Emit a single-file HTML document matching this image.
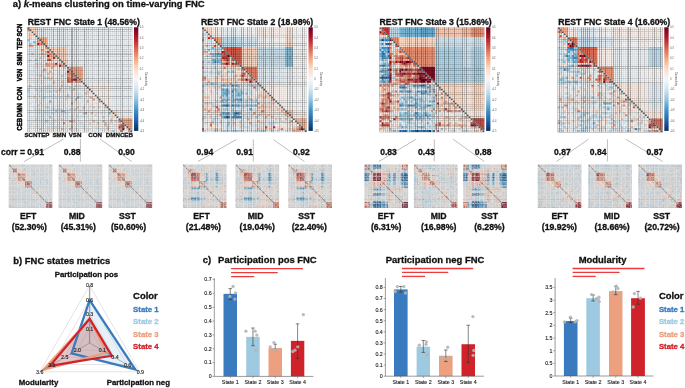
<!DOCTYPE html>
<html><head><meta charset="utf-8"><style>
html,body{margin:0;padding:0;background:#fff;}
svg{display:block;will-change:transform;filter:blur(0.3px);}
text{font-family:"Liberation Sans",sans-serif;}
</style></head><body>
<svg width="685" height="388" viewBox="0 0 685 388">
<rect width="685" height="388" fill="#fff"/>
<defs><linearGradient id="cb" x1="0" y1="0" x2="0" y2="1"><stop offset="0.00" stop-color="#67001f"/><stop offset="0.10" stop-color="#b1182b"/><stop offset="0.20" stop-color="#d6604d"/><stop offset="0.30" stop-color="#f3a481"/><stop offset="0.40" stop-color="#fddbc7"/><stop offset="0.50" stop-color="#f7f6f6"/><stop offset="0.60" stop-color="#d1e5f0"/><stop offset="0.70" stop-color="#90c4dd"/><stop offset="0.80" stop-color="#4393c3"/><stop offset="0.90" stop-color="#2065ab"/><stop offset="1.00" stop-color="#053061"/></linearGradient><g id="L1"><path fill="#e48066" d="M0 1h1v1h-1zM9 18h1v1h-1zM8 21h1v1h-1zM22 23h1v1h-1zM22 24h1v1h-1zM24 25h1v1h-1zM21 26h1v1h-1zM22 27h1v1h-1zM36 37h1v1h-1zM38 47h1v1h-1zM18 48h1v1h-1zM46 49h1v1h-1zM46 51h1v1h-1z"/><path fill="#edf2f5" d="M0 2h1v1h-1zM2 5h1v1h-1zM1 6h1v1h-1zM0 8h1v1h-1zM0 9h1v1h-1zM3 9h2v1h-2zM0 10h1v1h-1zM4 10h1v1h-1zM2 11h1v1h-1zM7 12h1v1h-1zM0 13h2v1h-2zM3 13h2v1h-2zM0 14h1v1h-1zM5 15h1v1h-1zM3 16h1v1h-1zM4 17h2v1h-2zM15 17h1v1h-1zM1 18h1v1h-1zM3 18h1v1h-1zM6 20h1v1h-1zM8 20h1v1h-1zM17 20h1v1h-1zM2 21h1v1h-1zM4 21h1v1h-1zM11 21h1v1h-1zM16 21h1v1h-1zM4 22h2v1h-2zM12 22h2v1h-2zM16 22h1v1h-1zM19 22h1v1h-1zM5 23h3v1h-3zM11 23h1v1h-1zM7 24h1v1h-1zM10 24h1v1h-1zM12 24h1v1h-1zM15 24h1v1h-1zM18 24h1v1h-1zM0 25h2v1h-2zM6 25h1v1h-1zM9 25h1v1h-1zM15 25h2v1h-2zM0 26h1v1h-1zM2 26h1v1h-1zM8 26h2v1h-2zM16 26h1v1h-1zM2 27h1v1h-1zM5 27h2v1h-2zM9 27h1v1h-1zM18 27h1v1h-1zM1 28h4v1h-4zM10 28h2v1h-2zM14 28h1v1h-1zM19 28h2v1h-2zM25 28h3v1h-3zM0 29h1v1h-1zM3 29h1v1h-1zM5 29h1v1h-1zM8 29h2v1h-2zM12 29h1v1h-1zM14 29h1v1h-1zM18 29h1v1h-1zM25 29h1v1h-1zM3 30h4v1h-4zM11 30h1v1h-1zM14 30h1v1h-1zM18 30h1v1h-1zM20 30h1v1h-1zM22 30h1v1h-1zM25 30h1v1h-1zM27 30h1v1h-1zM5 31h1v1h-1zM8 31h1v1h-1zM10 31h1v1h-1zM15 31h1v1h-1zM17 31h2v1h-2zM22 31h1v1h-1zM28 31h2v1h-2zM1 32h4v1h-4zM15 32h1v1h-1zM19 32h2v1h-2zM22 32h1v1h-1zM25 32h1v1h-1zM3 33h1v1h-1zM6 33h2v1h-2zM10 33h4v1h-4zM18 33h2v1h-2zM21 33h1v1h-1zM2 34h1v1h-1zM8 34h1v1h-1zM10 34h1v1h-1zM12 34h1v1h-1zM17 34h2v1h-2zM22 34h1v1h-1zM24 34h1v1h-1zM4 35h3v1h-3zM15 35h1v1h-1zM23 35h1v1h-1zM33 35h1v1h-1zM0 36h1v1h-1zM7 36h1v1h-1zM10 36h2v1h-2zM17 36h1v1h-1zM21 36h1v1h-1zM28 36h1v1h-1zM32 36h1v1h-1zM0 37h2v1h-2zM5 37h1v1h-1zM7 37h1v1h-1zM10 37h1v1h-1zM14 37h1v1h-1zM18 37h1v1h-1zM21 37h1v1h-1zM28 37h1v1h-1zM35 37h1v1h-1zM2 38h2v1h-2zM7 38h2v1h-2zM13 38h1v1h-1zM18 38h4v1h-4zM30 38h1v1h-1zM7 39h1v1h-1zM10 39h1v1h-1zM12 39h3v1h-3zM16 39h2v1h-2zM21 39h1v1h-1zM27 39h2v1h-2zM31 39h1v1h-1zM0 40h2v1h-2zM5 40h1v1h-1zM7 40h1v1h-1zM11 40h1v1h-1zM22 40h2v1h-2zM30 40h1v1h-1zM0 41h1v1h-1zM7 41h1v1h-1zM9 41h1v1h-1zM19 41h2v1h-2zM31 41h1v1h-1zM34 41h1v1h-1zM0 42h2v1h-2zM3 42h1v1h-1zM13 42h1v1h-1zM15 42h1v1h-1zM21 42h2v1h-2zM24 42h1v1h-1zM30 42h3v1h-3zM35 42h1v1h-1zM39 42h1v1h-1zM41 42h1v1h-1zM0 43h3v1h-3zM4 43h1v1h-1zM16 43h1v1h-1zM21 43h1v1h-1zM25 43h3v1h-3zM36 43h1v1h-1zM38 43h1v1h-1zM0 44h2v1h-2zM3 44h4v1h-4zM8 44h1v1h-1zM11 44h3v1h-3zM18 44h2v1h-2zM22 44h1v1h-1zM24 44h1v1h-1zM26 44h1v1h-1zM30 44h3v1h-3zM39 44h2v1h-2zM0 45h1v1h-1zM2 45h1v1h-1zM6 45h3v1h-3zM29 45h1v1h-1zM32 45h1v1h-1zM35 45h1v1h-1zM37 45h1v1h-1zM11 46h1v1h-1zM18 46h1v1h-1zM26 46h1v1h-1zM28 46h1v1h-1zM33 46h1v1h-1zM38 46h1v1h-1zM40 46h2v1h-2zM45 46h1v1h-1zM1 47h1v1h-1zM3 47h1v1h-1zM8 47h1v1h-1zM12 47h1v1h-1zM14 47h1v1h-1zM17 47h1v1h-1zM24 47h1v1h-1zM28 47h1v1h-1zM30 47h1v1h-1zM32 47h1v1h-1zM45 47h1v1h-1zM0 48h1v1h-1zM2 48h3v1h-3zM6 48h1v1h-1zM13 48h1v1h-1zM23 48h2v1h-2zM43 48h1v1h-1zM2 49h1v1h-1zM7 49h2v1h-2zM11 49h3v1h-3zM25 49h3v1h-3zM31 49h2v1h-2zM2 50h1v1h-1zM5 50h2v1h-2zM17 50h1v1h-1zM20 50h2v1h-2zM24 50h1v1h-1zM27 50h1v1h-1zM29 50h1v1h-1zM32 50h2v1h-2zM36 50h4v1h-4zM42 50h4v1h-4zM1 51h1v1h-1zM3 51h3v1h-3zM7 51h3v1h-3zM27 51h1v1h-1zM29 51h1v1h-1zM42 51h2v1h-2zM2 52h1v1h-1zM8 52h1v1h-1zM21 52h1v1h-1zM32 52h2v1h-2z"/><path fill="#fae9df" d="M1 2h1v1h-1zM2 4h2v1h-2zM7 9h1v1h-1zM6 10h1v1h-1zM6 11h1v1h-1zM8 11h1v1h-1zM5 13h2v1h-2zM8 13h1v1h-1zM8 14h2v1h-2zM1 15h1v1h-1zM13 16h1v1h-1zM10 17h2v1h-2zM14 17h1v1h-1zM16 17h1v1h-1zM5 18h1v1h-1zM5 19h1v1h-1zM15 19h1v1h-1zM11 20h1v1h-1zM13 21h1v1h-1zM12 26h1v1h-1zM6 28h1v1h-1zM15 29h1v1h-1zM15 34h1v1h-1zM14 36h1v1h-1zM25 36h1v1h-1zM30 36h1v1h-1zM34 36h1v1h-1zM32 37h1v1h-1zM33 38h1v1h-1zM37 38h1v1h-1zM32 40h1v1h-1zM34 40h1v1h-1zM38 40h1v1h-1zM40 41h1v1h-1zM33 42h1v1h-1zM38 42h1v1h-1zM23 44h1v1h-1zM44 45h1v1h-1zM33 48h1v1h-1zM13 52h2v1h-2zM39 52h2v1h-2zM50 52h1v1h-1z"/><path fill="#fddbc7" d="M0 3h1v1h-1zM2 3h1v1h-1zM1 4h1v1h-1zM4 8h1v1h-1zM12 16h1v1h-1zM8 22h1v1h-1zM2 24h1v1h-1zM16 32h1v1h-1zM30 33h1v1h-1zM6 37h1v1h-1zM42 45h2v1h-2zM26 48h1v1h-1zM46 48h2v1h-2zM28 51h1v1h-1zM46 52h1v1h-1z"/><path fill="#fbccb4" d="M1 3h1v1h-1zM10 11h1v1h-1zM11 12h1v1h-1zM14 15h1v1h-1zM12 19h1v1h-1zM23 27h1v1h-1zM13 28h1v1h-1zM26 29h1v1h-1zM19 36h1v1h-1zM6 38h1v1h-1zM5 41h1v1h-1zM15 41h1v1h-1zM4 46h1v1h-1zM17 46h1v1h-1zM10 47h1v1h-1zM13 47h1v1h-1zM23 47h1v1h-1zM31 48h1v1h-1zM10 51h1v1h-1zM50 51h1v1h-1zM42 52h1v1h-1z"/><path fill="#fce2d2" d="M0 4h1v1h-1zM8 9h1v1h-1zM12 17h1v1h-1zM32 33h1v1h-1zM10 38h1v1h-1zM24 38h1v1h-1zM26 38h1v1h-1zM34 38h2v1h-2zM27 40h1v1h-1zM35 40h1v1h-1zM42 43h1v1h-1zM42 44h2v1h-2zM14 46h1v1h-1zM41 48h1v1h-1zM44 49h1v1h-1zM35 50h1v1h-1zM41 50h1v1h-1zM49 50h1v1h-1zM48 52h1v1h-1z"/><path fill="#e4eef4" d="M0 5h1v1h-1zM3 5h2v1h-2zM4 6h1v1h-1zM0 7h1v1h-1zM2 7h1v1h-1zM4 7h1v1h-1zM2 8h1v1h-1zM1 10h1v1h-1zM3 10h1v1h-1zM0 11h2v1h-2zM3 11h2v1h-2zM0 12h3v1h-3zM4 12h1v1h-1zM1 14h4v1h-4zM0 15h1v1h-1zM2 15h2v1h-2zM0 16h1v1h-1zM1 17h3v1h-3zM0 19h2v1h-2zM0 20h1v1h-1zM2 20h1v1h-1zM4 20h1v1h-1zM0 21h2v1h-2zM3 21h1v1h-1zM1 22h1v1h-1zM6 22h1v1h-1zM15 22h1v1h-1zM0 23h5v1h-5zM0 24h2v1h-2zM4 24h2v1h-2zM8 24h1v1h-1zM19 24h1v1h-1zM14 25h1v1h-1zM1 26h1v1h-1zM3 26h4v1h-4zM10 26h1v1h-1zM15 26h1v1h-1zM17 26h1v1h-1zM0 27h2v1h-2zM4 27h1v1h-1zM12 28h1v1h-1zM17 28h2v1h-2zM4 29h1v1h-1zM13 29h1v1h-1zM19 29h1v1h-1zM27 29h1v1h-1zM1 30h2v1h-2zM7 30h1v1h-1zM9 30h1v1h-1zM12 30h2v1h-2zM16 30h1v1h-1zM19 30h1v1h-1zM24 30h1v1h-1zM26 30h1v1h-1zM6 31h2v1h-2zM9 31h1v1h-1zM11 31h1v1h-1zM13 31h2v1h-2zM20 31h1v1h-1zM25 31h3v1h-3zM5 32h1v1h-1zM7 32h2v1h-2zM12 32h1v1h-1zM18 32h1v1h-1zM21 32h1v1h-1zM27 32h1v1h-1zM1 33h1v1h-1zM4 33h2v1h-2zM14 33h1v1h-1zM20 33h1v1h-1zM24 33h1v1h-1zM27 33h1v1h-1zM31 33h1v1h-1zM1 34h1v1h-1zM3 34h4v1h-4zM19 34h1v1h-1zM21 34h1v1h-1zM25 34h2v1h-2zM2 35h1v1h-1zM18 35h1v1h-1zM24 35h1v1h-1zM6 36h1v1h-1zM8 36h1v1h-1zM27 36h1v1h-1zM3 37h1v1h-1zM8 37h1v1h-1zM12 37h2v1h-2zM15 37h2v1h-2zM20 37h1v1h-1zM22 37h1v1h-1zM24 37h3v1h-3zM0 38h1v1h-1zM4 38h1v1h-1zM9 38h1v1h-1zM11 38h2v1h-2zM14 38h1v1h-1zM16 38h1v1h-1zM25 38h1v1h-1zM27 38h1v1h-1zM3 39h1v1h-1zM15 39h1v1h-1zM26 39h1v1h-1zM2 40h1v1h-1zM4 40h1v1h-1zM13 40h1v1h-1zM19 40h1v1h-1zM24 40h1v1h-1zM26 40h1v1h-1zM4 41h1v1h-1zM8 41h1v1h-1zM11 41h1v1h-1zM25 41h3v1h-3zM33 41h1v1h-1zM35 41h1v1h-1zM4 42h4v1h-4zM9 42h1v1h-1zM19 42h2v1h-2zM27 42h2v1h-2zM34 42h1v1h-1zM3 43h1v1h-1zM6 43h2v1h-2zM9 43h1v1h-1zM11 43h1v1h-1zM14 43h2v1h-2zM17 43h1v1h-1zM20 43h1v1h-1zM22 43h1v1h-1zM30 43h1v1h-1zM33 43h2v1h-2zM39 43h1v1h-1zM7 44h1v1h-1zM9 44h1v1h-1zM14 44h1v1h-1zM16 44h2v1h-2zM20 44h1v1h-1zM25 44h1v1h-1zM27 44h2v1h-2zM41 44h1v1h-1zM1 45h1v1h-1zM3 45h3v1h-3zM10 45h1v1h-1zM12 45h1v1h-1zM20 45h3v1h-3zM26 45h1v1h-1zM28 45h1v1h-1zM30 45h1v1h-1zM0 46h2v1h-2zM3 46h1v1h-1zM5 46h2v1h-2zM9 46h2v1h-2zM12 46h1v1h-1zM19 46h4v1h-4zM24 46h1v1h-1zM34 46h3v1h-3zM0 47h1v1h-1zM2 47h1v1h-1zM5 47h1v1h-1zM18 47h3v1h-3zM25 47h3v1h-3zM29 47h1v1h-1zM34 47h2v1h-2zM39 47h1v1h-1zM41 47h1v1h-1zM1 48h1v1h-1zM8 48h3v1h-3zM0 49h2v1h-2zM4 49h1v1h-1zM20 49h3v1h-3zM28 49h1v1h-1zM41 49h1v1h-1zM43 49h1v1h-1zM0 50h1v1h-1zM3 50h2v1h-2zM7 50h1v1h-1zM9 50h1v1h-1zM11 50h1v1h-1zM19 50h1v1h-1zM26 50h1v1h-1zM0 51h1v1h-1zM11 51h1v1h-1zM13 51h4v1h-4zM18 51h3v1h-3zM22 51h1v1h-1zM26 51h1v1h-1zM32 51h1v1h-1zM34 51h2v1h-2zM39 51h1v1h-1zM41 51h1v1h-1zM44 51h1v1h-1zM30 52h1v1h-1zM34 52h1v1h-1zM44 52h1v1h-1z"/><path fill="#f8bfa4" d="M1 5h1v1h-1zM6 7h1v1h-1zM10 13h1v1h-1zM12 13h1v1h-1zM11 15h2v1h-2zM4 18h1v1h-1zM11 18h3v1h-3zM16 18h2v1h-2zM11 19h1v1h-1zM14 19h1v1h-1zM12 25h1v1h-1zM13 27h1v1h-1zM17 27h1v1h-1zM1 29h1v1h-1zM24 29h1v1h-1zM21 30h1v1h-1zM14 32h1v1h-1zM30 32h1v1h-1zM3 35h1v1h-1zM31 35h1v1h-1zM24 41h1v1h-1zM28 41h1v1h-1zM34 44h1v1h-1zM35 48h1v1h-1zM22 50h1v1h-1zM40 50h1v1h-1z"/><path fill="#90c4dd" d="M0 6h1v1h-1zM17 42h1v1h-1zM43 52h1v1h-1z"/><path fill="#f7f6f6" d="M2 6h2v1h-2zM5 9h1v1h-1zM5 11h1v1h-1zM9 11h1v1h-1zM5 12h2v1h-2zM7 14h1v1h-1zM2 16h1v1h-1zM7 16h3v1h-3zM15 16h1v1h-1zM6 17h4v1h-4zM0 18h1v1h-1zM7 18h2v1h-2zM2 19h1v1h-1zM1 20h1v1h-1zM7 20h1v1h-1zM14 20h3v1h-3zM12 21h1v1h-1zM15 21h1v1h-1zM19 21h1v1h-1zM10 22h1v1h-1zM14 22h1v1h-1zM17 22h2v1h-2zM14 23h1v1h-1zM17 23h1v1h-1zM9 24h1v1h-1zM11 24h1v1h-1zM14 24h1v1h-1zM16 24h1v1h-1zM2 25h3v1h-3zM7 25h1v1h-1zM13 25h1v1h-1zM18 25h2v1h-2zM7 26h1v1h-1zM14 26h1v1h-1zM18 26h1v1h-1zM7 27h2v1h-2zM10 27h2v1h-2zM15 27h2v1h-2zM5 28h1v1h-1zM9 28h1v1h-1zM15 28h2v1h-2zM21 28h4v1h-4zM2 29h1v1h-1zM6 29h2v1h-2zM16 29h1v1h-1zM21 29h3v1h-3zM28 29h1v1h-1zM15 30h1v1h-1zM23 30h1v1h-1zM29 30h1v1h-1zM1 31h3v1h-3zM12 31h1v1h-1zM30 31h1v1h-1zM23 32h2v1h-2zM26 32h1v1h-1zM28 32h1v1h-1zM31 32h1v1h-1zM9 33h1v1h-1zM16 33h2v1h-2zM22 33h1v1h-1zM9 34h1v1h-1zM16 34h1v1h-1zM23 34h1v1h-1zM29 34h1v1h-1zM31 34h1v1h-1zM28 35h1v1h-1zM30 35h1v1h-1zM1 36h2v1h-2zM5 36h1v1h-1zM9 36h1v1h-1zM12 36h2v1h-2zM15 36h2v1h-2zM22 36h2v1h-2zM26 36h1v1h-1zM29 36h1v1h-1zM9 37h1v1h-1zM19 37h1v1h-1zM31 37h1v1h-1zM33 37h1v1h-1zM5 38h1v1h-1zM15 38h1v1h-1zM17 38h1v1h-1zM23 38h1v1h-1zM29 38h1v1h-1zM36 38h1v1h-1zM1 39h2v1h-2zM4 39h1v1h-1zM11 39h1v1h-1zM19 39h2v1h-2zM22 39h3v1h-3zM29 39h2v1h-2zM33 39h2v1h-2zM36 39h3v1h-3zM8 40h1v1h-1zM14 40h1v1h-1zM16 40h3v1h-3zM21 40h1v1h-1zM1 41h2v1h-2zM18 41h1v1h-1zM29 41h2v1h-2zM36 41h3v1h-3zM2 42h1v1h-1zM11 42h2v1h-2zM25 42h1v1h-1zM29 42h1v1h-1zM37 42h1v1h-1zM40 42h1v1h-1zM23 43h2v1h-2zM31 43h1v1h-1zM40 43h1v1h-1zM2 44h1v1h-1zM15 44h1v1h-1zM21 44h1v1h-1zM29 44h1v1h-1zM35 44h2v1h-2zM9 45h1v1h-1zM13 45h2v1h-2zM16 45h1v1h-1zM18 45h1v1h-1zM23 45h2v1h-2zM31 45h1v1h-1zM34 45h1v1h-1zM36 45h1v1h-1zM39 45h3v1h-3zM25 46h1v1h-1zM27 46h1v1h-1zM29 46h2v1h-2zM37 46h1v1h-1zM44 46h1v1h-1zM11 47h1v1h-1zM15 47h2v1h-2zM31 47h1v1h-1zM43 47h1v1h-1zM5 48h1v1h-1zM7 48h1v1h-1zM14 48h4v1h-4zM19 48h1v1h-1zM21 48h2v1h-2zM25 48h1v1h-1zM29 48h2v1h-2zM38 48h1v1h-1zM40 48h1v1h-1zM44 48h1v1h-1zM3 49h1v1h-1zM6 49h1v1h-1zM9 49h2v1h-2zM14 49h1v1h-1zM16 49h4v1h-4zM24 49h1v1h-1zM29 49h1v1h-1zM36 49h3v1h-3zM42 49h1v1h-1zM8 50h1v1h-1zM18 50h1v1h-1zM23 50h1v1h-1zM25 50h1v1h-1zM30 50h2v1h-2zM2 51h1v1h-1zM33 51h1v1h-1zM45 51h1v1h-1zM49 51h1v1h-1zM6 52h2v1h-2zM16 52h3v1h-3zM20 52h1v1h-1zM22 52h1v1h-1zM27 52h2v1h-2zM31 52h1v1h-1zM35 52h1v1h-1zM38 52h1v1h-1zM49 52h1v1h-1z"/><path fill="#f3a481" d="M5 6h1v1h-1zM5 7h1v1h-1zM2 9h1v1h-1zM7 11h1v1h-1zM7 13h1v1h-1zM11 13h1v1h-1zM10 15h1v1h-1zM10 18h1v1h-1zM9 19h1v1h-1zM17 19h1v1h-1zM12 20h1v1h-1zM20 21h1v1h-1zM21 24h1v1h-1zM25 26h1v1h-1zM25 27h1v1h-1zM32 35h1v1h-1zM24 36h1v1h-1zM30 37h1v1h-1zM22 38h1v1h-1zM39 40h1v1h-1zM32 43h1v1h-1zM22 47h1v1h-1zM39 48h1v1h-1zM39 49h1v1h-1zM21 51h1v1h-1zM47 51h1v1h-1z"/><path fill="#dae9f2" d="M1 7h1v1h-1zM3 8h1v1h-1zM2 10h1v1h-1zM3 12h1v1h-1zM4 15h1v1h-1zM0 17h1v1h-1zM3 19h2v1h-2zM3 20h1v1h-1zM5 20h1v1h-1zM0 22h1v1h-1zM2 22h1v1h-1zM9 22h1v1h-1zM3 24h1v1h-1zM3 27h1v1h-1zM10 29h2v1h-2zM20 29h1v1h-1zM0 30h1v1h-1zM8 30h1v1h-1zM17 30h1v1h-1zM19 31h1v1h-1zM21 31h1v1h-1zM9 32h2v1h-2zM13 32h1v1h-1zM17 32h1v1h-1zM0 33h1v1h-1zM2 33h1v1h-1zM8 33h1v1h-1zM25 33h2v1h-2zM0 34h1v1h-1zM7 34h1v1h-1zM11 34h1v1h-1zM27 34h1v1h-1zM0 35h2v1h-2zM9 35h5v1h-5zM17 35h1v1h-1zM22 35h1v1h-1zM27 35h1v1h-1zM4 36h1v1h-1zM2 37h1v1h-1zM4 37h1v1h-1zM23 37h1v1h-1zM27 37h1v1h-1zM1 38h1v1h-1zM32 39h1v1h-1zM3 40h1v1h-1zM12 40h1v1h-1zM3 41h1v1h-1zM6 41h1v1h-1zM10 41h1v1h-1zM17 41h1v1h-1zM23 41h1v1h-1zM8 42h1v1h-1zM16 42h1v1h-1zM26 42h1v1h-1zM5 43h1v1h-1zM8 43h1v1h-1zM10 43h1v1h-1zM18 43h2v1h-2zM37 43h1v1h-1zM10 44h1v1h-1zM19 45h1v1h-1zM27 45h1v1h-1zM2 46h1v1h-1zM7 46h2v1h-2zM15 46h2v1h-2zM23 46h1v1h-1zM31 46h2v1h-2zM4 47h1v1h-1zM7 47h1v1h-1zM40 47h1v1h-1zM11 48h2v1h-2zM27 48h1v1h-1zM42 48h1v1h-1zM1 50h1v1h-1zM12 50h2v1h-2zM16 50h1v1h-1zM28 50h1v1h-1zM34 50h1v1h-1zM12 51h1v1h-1zM25 51h1v1h-1zM30 51h2v1h-2zM36 51h3v1h-3zM0 52h1v1h-1z"/><path fill="#6bacd1" d="M3 7h1v1h-1zM25 35h1v1h-1z"/><path fill="#a2cde3" d="M1 8h1v1h-1zM4 16h1v1h-1zM0 32h1v1h-1zM11 32h1v1h-1zM14 42h1v1h-1zM18 42h1v1h-1zM28 43h1v1h-1zM11 45h1v1h-1zM38 45h1v1h-1zM9 47h1v1h-1z"/><path fill="#9f1228" d="M5 8h1v1h-1z"/><path fill="#ec9374" d="M6 8h2v1h-2zM1 9h1v1h-1zM9 10h1v1h-1zM10 19h1v1h-1zM21 22h1v1h-1zM20 23h2v1h-2zM20 24h1v1h-1zM21 25h1v1h-1zM24 27h1v1h-1zM26 27h1v1h-1zM33 36h1v1h-1zM29 43h1v1h-1zM21 47h1v1h-1zM51 52h1v1h-1z"/><path fill="#f9f0eb" d="M6 9h1v1h-1zM5 10h1v1h-1zM7 10h2v1h-2zM8 12h1v1h-1zM5 14h2v1h-2zM7 15h3v1h-3zM5 16h2v1h-2zM14 16h1v1h-1zM13 17h1v1h-1zM2 18h1v1h-1zM15 18h1v1h-1zM6 19h3v1h-3zM9 20h2v1h-2zM13 20h1v1h-1zM19 20h1v1h-1zM5 21h3v1h-3zM10 21h1v1h-1zM14 21h1v1h-1zM17 21h2v1h-2zM8 23h2v1h-2zM13 23h1v1h-1zM15 23h2v1h-2zM18 23h1v1h-1zM13 24h1v1h-1zM5 25h1v1h-1zM11 25h1v1h-1zM17 25h1v1h-1zM13 26h1v1h-1zM19 26h1v1h-1zM12 27h1v1h-1zM14 27h1v1h-1zM19 27h1v1h-1zM0 28h1v1h-1zM7 28h2v1h-2zM28 30h1v1h-1zM29 32h1v1h-1zM15 33h1v1h-1zM23 33h1v1h-1zM28 33h1v1h-1zM14 34h1v1h-1zM28 34h1v1h-1zM30 34h1v1h-1zM32 34h2v1h-2zM29 35h1v1h-1zM34 35h1v1h-1zM3 36h1v1h-1zM18 36h1v1h-1zM20 36h1v1h-1zM31 36h1v1h-1zM17 37h1v1h-1zM29 37h1v1h-1zM34 37h1v1h-1zM28 38h1v1h-1zM31 38h2v1h-2zM0 39h1v1h-1zM6 39h1v1h-1zM8 39h2v1h-2zM18 39h1v1h-1zM25 39h1v1h-1zM35 39h1v1h-1zM6 40h1v1h-1zM15 40h1v1h-1zM20 40h1v1h-1zM29 40h1v1h-1zM37 40h1v1h-1zM32 41h1v1h-1zM39 41h1v1h-1zM23 42h1v1h-1zM36 42h1v1h-1zM33 44h1v1h-1zM37 44h2v1h-2zM15 45h1v1h-1zM17 45h1v1h-1zM33 45h1v1h-1zM39 46h1v1h-1zM43 46h1v1h-1zM6 47h1v1h-1zM36 47h2v1h-2zM20 48h1v1h-1zM28 48h1v1h-1zM32 48h1v1h-1zM34 48h1v1h-1zM36 48h2v1h-2zM45 48h1v1h-1zM5 49h1v1h-1zM15 49h1v1h-1zM23 49h1v1h-1zM30 49h1v1h-1zM33 49h3v1h-3zM45 49h1v1h-1zM15 50h1v1h-1zM23 51h1v1h-1zM1 52h1v1h-1zM3 52h3v1h-3zM9 52h4v1h-4zM15 52h1v1h-1zM19 52h1v1h-1zM23 52h4v1h-4zM29 52h1v1h-1zM36 52h2v1h-2zM41 52h1v1h-1zM45 52h1v1h-1z"/><path fill="#f6b394" d="M9 12h1v1h-1zM2 13h1v1h-1zM11 14h3v1h-3zM13 19h1v1h-1zM18 19h1v1h-1zM11 22h1v1h-1zM10 23h1v1h-1zM6 24h1v1h-1zM10 25h1v1h-1zM23 25h1v1h-1zM17 29h1v1h-1zM16 31h1v1h-1zM23 31h1v1h-1zM29 33h1v1h-1zM20 34h1v1h-1zM25 40h1v1h-1zM28 40h1v1h-1zM33 40h1v1h-1zM42 46h1v1h-1zM33 47h1v1h-1zM42 47h1v1h-1zM17 51h1v1h-1zM40 51h1v1h-1z"/><path fill="#c43b3c" d="M10 12h1v1h-1zM46 50h1v1h-1z"/><path fill="#d1e5f0" d="M9 13h1v1h-1zM1 16h1v1h-1zM3 22h1v1h-1zM7 22h1v1h-1zM12 23h1v1h-1zM19 23h1v1h-1zM10 30h1v1h-1zM24 31h1v1h-1zM6 32h1v1h-1zM13 34h1v1h-1zM7 35h1v1h-1zM14 35h1v1h-1zM16 35h1v1h-1zM19 35h1v1h-1zM21 35h1v1h-1zM35 36h1v1h-1zM31 40h1v1h-1zM12 41h1v1h-1zM14 41h1v1h-1zM16 41h1v1h-1zM22 41h1v1h-1zM10 42h1v1h-1zM12 43h2v1h-2zM35 43h1v1h-1zM25 45h1v1h-1zM13 46h1v1h-1zM40 49h1v1h-1zM10 50h1v1h-1zM14 50h1v1h-1zM24 51h1v1h-1z"/><path fill="#8a0b25" d="M10 14h1v1h-1zM20 22h1v1h-1z"/><path fill="#b1d5e7" d="M6 15h1v1h-1zM18 20h1v1h-1zM17 24h1v1h-1zM8 25h1v1h-1zM0 31h1v1h-1zM8 35h1v1h-1zM9 40h2v1h-2zM44 47h1v1h-1zM6 51h1v1h-1z"/><path fill="#ba2832" d="M13 15h1v1h-1z"/><path fill="#d6604d" d="M10 16h2v1h-2zM20 26h1v1h-1zM22 26h1v1h-1zM20 27h1v1h-1zM47 49h1v1h-1zM47 50h1v1h-1zM47 52h1v1h-1z"/><path fill="#c2ddec" d="M6 18h1v1h-1zM9 21h1v1h-1zM11 26h1v1h-1zM4 31h1v1h-1zM20 35h1v1h-1zM26 35h1v1h-1zM5 39h1v1h-1zM36 40h1v1h-1zM13 41h1v1h-1zM21 41h1v1h-1z"/><path fill="#b1182b" d="M14 18h1v1h-1zM16 19h1v1h-1zM23 26h2v1h-2z"/><path fill="#dd7059" d="M23 24h1v1h-1zM20 25h1v1h-1zM22 25h1v1h-1zM21 27h1v1h-1zM46 47h1v1h-1z"/><path fill="#7eb8d7" d="M11 37h1v1h-1zM41 43h1v1h-1z"/><path fill="#cc4c44" d="M48 49h1v1h-1zM48 50h1v1h-1z"/><path fill="#790622" d="M48 51h1v1h-1z"/></g><g id="U1"><path fill="#fddbc7" d="M1 0h4v1h-4zM2 1h3v1h-3zM3 2h2v1h-2zM4 3h1v1h-1zM11 10h9v1h-9zM12 11h8v1h-8zM13 12h7v1h-7zM14 13h6v1h-6zM15 14h5v1h-5zM16 15h4v1h-4zM17 16h3v1h-3zM18 17h2v1h-2zM19 18h1v1h-1z"/><path fill="#edf2f5" d="M5 0h48v1h-48zM5 1h48v1h-48zM5 2h48v1h-48zM5 3h48v1h-48zM5 4h48v1h-48zM10 5h43v1h-43zM10 6h43v1h-43zM10 7h43v1h-43zM10 8h43v1h-43zM10 9h43v1h-43zM20 10h33v1h-33zM20 11h33v1h-33zM20 12h33v1h-33zM20 13h33v1h-33zM20 14h33v1h-33zM20 15h33v1h-33zM20 16h33v1h-33zM20 17h33v1h-33zM20 18h33v1h-33zM20 19h33v1h-33zM28 20h25v1h-25zM28 21h25v1h-25zM28 22h25v1h-25zM28 23h25v1h-25zM28 24h25v1h-25zM28 25h25v1h-25zM28 26h25v1h-25zM28 27h25v1h-25zM42 28h11v1h-11zM42 29h11v1h-11zM42 30h11v1h-11zM42 31h11v1h-11zM42 32h11v1h-11zM42 33h11v1h-11zM42 34h11v1h-11zM42 35h11v1h-11zM42 36h11v1h-11zM42 37h11v1h-11zM42 38h11v1h-11zM42 39h11v1h-11zM42 40h11v1h-11zM42 41h11v1h-11zM46 42h7v1h-7zM46 43h7v1h-7zM46 44h7v1h-7zM46 45h7v1h-7z"/><path fill="#f6b394" d="M6 5h4v1h-4zM7 6h3v1h-3zM8 7h2v1h-2zM9 8h1v1h-1z"/><path fill="#f3a481" d="M21 20h7v1h-7zM22 21h6v1h-6zM23 22h5v1h-5zM24 23h4v1h-4zM25 24h3v1h-3zM26 25h2v1h-2zM27 26h1v1h-1zM47 46h6v1h-6zM48 47h5v1h-5zM49 48h4v1h-4zM50 49h3v1h-3zM51 50h2v1h-2zM52 51h1v1h-1z"/><path fill="#f9f0eb" d="M29 28h13v1h-13zM30 29h12v1h-12zM31 30h11v1h-11zM32 31h10v1h-10zM33 32h9v1h-9zM34 33h8v1h-8zM35 34h7v1h-7zM36 35h6v1h-6zM37 36h5v1h-5zM38 37h4v1h-4zM39 38h3v1h-3zM40 39h2v1h-2zM41 40h1v1h-1z"/><path fill="#fce2d2" d="M43 42h3v1h-3zM44 43h2v1h-2zM45 44h1v1h-1z"/></g><g id="L2"><path fill="#f9f0eb" d="M0 1h1v1h-1zM0 2h1v1h-1zM1 7h2v1h-2zM1 15h1v1h-1zM4 15h1v1h-1zM14 16h1v1h-1zM16 17h1v1h-1zM7 19h1v1h-1zM17 20h1v1h-1zM4 21h1v1h-1zM8 21h2v1h-2zM12 21h1v1h-1zM18 22h1v1h-1zM0 23h1v1h-1zM13 23h1v1h-1zM5 24h2v1h-2zM14 24h1v1h-1zM2 25h1v1h-1zM9 25h1v1h-1zM15 25h1v1h-1zM17 25h2v1h-2zM17 26h1v1h-1zM0 27h1v1h-1zM5 27h1v1h-1zM10 27h1v1h-1zM15 27h1v1h-1zM18 27h1v1h-1zM16 30h1v1h-1zM21 30h2v1h-2zM5 31h1v1h-1zM30 31h1v1h-1zM3 32h1v1h-1zM16 32h1v1h-1zM27 32h2v1h-2zM8 33h1v1h-1zM28 33h1v1h-1zM14 34h1v1h-1zM27 34h1v1h-1zM7 35h1v1h-1zM24 35h2v1h-2zM1 37h1v1h-1zM4 37h1v1h-1zM6 37h1v1h-1zM29 37h1v1h-1zM32 37h1v1h-1zM7 38h1v1h-1zM21 38h1v1h-1zM26 38h1v1h-1zM28 39h1v1h-1zM3 40h2v1h-2zM9 40h1v1h-1zM35 40h1v1h-1zM5 41h1v1h-1zM9 41h1v1h-1zM29 41h1v1h-1zM0 42h1v1h-1zM12 42h1v1h-1zM14 42h1v1h-1zM35 42h2v1h-2zM0 43h2v1h-2zM3 43h1v1h-1zM8 43h1v1h-1zM35 43h1v1h-1zM1 44h3v1h-3zM35 44h1v1h-1zM37 44h2v1h-2zM8 45h1v1h-1zM29 45h2v1h-2zM34 45h1v1h-1zM40 45h1v1h-1zM10 46h1v1h-1zM21 46h1v1h-1zM25 46h1v1h-1zM27 46h1v1h-1zM29 46h1v1h-1zM34 46h1v1h-1zM45 46h1v1h-1zM7 47h1v1h-1zM17 47h1v1h-1zM23 47h1v1h-1zM25 47h1v1h-1zM27 47h1v1h-1zM18 48h1v1h-1zM21 48h1v1h-1zM40 48h1v1h-1zM45 48h1v1h-1zM48 49h1v1h-1zM1 50h1v1h-1zM9 50h1v1h-1zM15 50h1v1h-1zM42 50h1v1h-1zM44 50h1v1h-1zM10 51h2v1h-2zM22 51h2v1h-2zM42 51h1v1h-1zM34 52h1v1h-1z"/><path fill="#edf2f5" d="M1 2h1v1h-1zM5 6h1v1h-1zM5 7h1v1h-1zM3 8h1v1h-1zM5 8h1v1h-1zM2 10h1v1h-1zM4 11h2v1h-2zM10 11h1v1h-1zM1 13h2v1h-2zM0 15h1v1h-1zM0 16h1v1h-1zM2 16h1v1h-1zM5 19h2v1h-2zM8 19h1v1h-1zM3 20h1v1h-1zM19 20h1v1h-1zM14 21h1v1h-1zM11 22h1v1h-1zM14 22h1v1h-1zM15 23h2v1h-2zM4 24h1v1h-1zM21 25h1v1h-1zM8 27h2v1h-2zM0 28h1v1h-1zM20 28h1v1h-1zM11 30h2v1h-2zM7 32h2v1h-2zM14 32h1v1h-1zM21 32h1v1h-1zM23 32h1v1h-1zM26 32h1v1h-1zM0 33h1v1h-1zM3 33h1v1h-1zM9 33h1v1h-1zM6 34h1v1h-1zM8 34h1v1h-1zM23 34h1v1h-1zM1 36h3v1h-3zM8 36h1v1h-1zM34 36h1v1h-1zM8 37h1v1h-1zM33 37h1v1h-1zM0 38h1v1h-1zM23 38h2v1h-2zM4 39h1v1h-1zM36 39h2v1h-2zM25 40h3v1h-3zM23 41h1v1h-1zM23 42h1v1h-1zM38 42h1v1h-1zM4 43h1v1h-1zM21 43h1v1h-1zM27 43h1v1h-1zM40 43h1v1h-1zM0 44h1v1h-1zM24 44h1v1h-1zM27 44h1v1h-1zM36 44h1v1h-1zM39 44h1v1h-1zM9 45h1v1h-1zM20 45h1v1h-1zM33 45h1v1h-1zM42 45h1v1h-1zM2 46h1v1h-1zM4 46h1v1h-1zM26 46h1v1h-1zM43 46h2v1h-2zM1 47h3v1h-3zM14 47h1v1h-1zM16 47h1v1h-1zM21 47h2v1h-2zM24 47h1v1h-1zM38 47h1v1h-1zM43 47h1v1h-1zM10 48h2v1h-2zM33 48h1v1h-1zM1 49h1v1h-1zM6 49h1v1h-1zM9 49h1v1h-1zM36 49h1v1h-1zM40 49h1v1h-1zM42 49h1v1h-1zM10 50h1v1h-1zM18 50h1v1h-1zM20 50h1v1h-1zM24 50h1v1h-1zM43 50h1v1h-1zM16 51h2v1h-2zM37 51h1v1h-1zM3 52h1v1h-1zM36 52h2v1h-2zM44 52h1v1h-1z"/><path fill="#c2ddec" d="M0 3h2v1h-2zM0 10h1v1h-1zM6 10h1v1h-1zM1 11h1v1h-1zM6 11h1v1h-1zM2 14h1v1h-1zM9 15h1v1h-1zM6 18h1v1h-1zM8 18h1v1h-1zM9 20h1v1h-1zM1 22h1v1h-1zM9 22h1v1h-1zM4 23h1v1h-1zM24 28h1v1h-1zM2 29h1v1h-1zM5 29h1v1h-1zM9 29h1v1h-1zM19 29h1v1h-1zM22 29h2v1h-2zM15 30h1v1h-1zM22 31h1v1h-1zM27 31h1v1h-1zM24 33h1v1h-1zM17 35h3v1h-3zM23 36h1v1h-1zM7 37h1v1h-1zM5 38h1v1h-1zM11 38h1v1h-1zM15 38h1v1h-1zM17 38h1v1h-1zM6 39h1v1h-1zM8 39h2v1h-2zM12 40h1v1h-1zM10 41h1v1h-1zM18 41h1v1h-1zM25 41h1v1h-1zM11 42h1v1h-1zM16 42h1v1h-1zM10 44h1v1h-1zM14 45h1v1h-1zM5 46h2v1h-2zM13 46h1v1h-1zM13 47h1v1h-1zM39 47h2v1h-2zM44 47h1v1h-1zM34 48h1v1h-1zM19 49h1v1h-1zM27 49h1v1h-1zM0 52h1v1h-1zM6 52h2v1h-2zM10 52h1v1h-1zM12 52h1v1h-1zM15 52h1v1h-1zM19 52h2v1h-2zM26 52h2v1h-2zM35 52h1v1h-1zM38 52h1v1h-1z"/><path fill="#e4eef4" d="M2 3h1v1h-1zM2 4h1v1h-1zM3 7h2v1h-2zM1 9h1v1h-1zM4 9h1v1h-1zM1 10h1v1h-1zM3 10h1v1h-1zM0 11h1v1h-1zM5 12h1v1h-1zM0 13h1v1h-1zM0 14h1v1h-1zM4 14h1v1h-1zM6 15h1v1h-1zM3 16h2v1h-2zM1 18h1v1h-1zM1 19h2v1h-2zM1 20h1v1h-1zM8 20h1v1h-1zM5 21h1v1h-1zM3 22h1v1h-1zM6 22h1v1h-1zM12 22h1v1h-1zM3 23h1v1h-1zM9 23h1v1h-1zM14 23h1v1h-1zM1 24h1v1h-1zM7 24h2v1h-2zM6 25h1v1h-1zM1 27h1v1h-1zM6 27h1v1h-1zM8 28h1v1h-1zM18 28h1v1h-1zM22 28h1v1h-1zM26 28h2v1h-2zM4 29h1v1h-1zM17 30h1v1h-1zM0 31h1v1h-1zM2 31h1v1h-1zM6 31h1v1h-1zM25 31h1v1h-1zM1 32h1v1h-1zM4 33h1v1h-1zM21 33h1v1h-1zM9 34h1v1h-1zM22 34h1v1h-1zM24 34h1v1h-1zM16 35h1v1h-1zM21 35h1v1h-1zM27 35h1v1h-1zM4 36h1v1h-1zM30 36h1v1h-1zM2 37h1v1h-1zM14 37h1v1h-1zM17 37h1v1h-1zM23 37h1v1h-1zM6 38h1v1h-1zM16 38h1v1h-1zM1 39h1v1h-1zM3 39h1v1h-1zM35 39h1v1h-1zM15 40h2v1h-2zM6 41h1v1h-1zM17 41h1v1h-1zM27 41h1v1h-1zM10 42h1v1h-1zM20 42h1v1h-1zM24 42h2v1h-2zM14 43h1v1h-1zM25 43h1v1h-1zM28 43h1v1h-1zM34 43h1v1h-1zM37 43h1v1h-1zM14 44h1v1h-1zM0 45h1v1h-1zM3 45h1v1h-1zM5 45h1v1h-1zM26 45h1v1h-1zM31 45h1v1h-1zM36 45h2v1h-2zM7 46h1v1h-1zM12 46h1v1h-1zM19 46h1v1h-1zM22 46h1v1h-1zM32 46h1v1h-1zM41 46h1v1h-1zM0 47h1v1h-1zM11 47h1v1h-1zM20 47h1v1h-1zM29 47h4v1h-4zM12 48h1v1h-1zM22 48h1v1h-1zM32 48h1v1h-1zM38 48h2v1h-2zM2 49h1v1h-1zM8 49h1v1h-1zM10 49h2v1h-2zM14 49h1v1h-1zM30 49h1v1h-1zM32 49h1v1h-1zM46 49h2v1h-2zM11 50h1v1h-1zM25 50h2v1h-2zM28 50h1v1h-1zM18 51h1v1h-1zM24 51h1v1h-1zM5 52h1v1h-1zM8 52h1v1h-1zM21 52h3v1h-3zM25 52h1v1h-1zM40 52h1v1h-1zM43 52h1v1h-1z"/><path fill="#fce2d2" d="M0 4h1v1h-1zM0 7h1v1h-1zM5 9h1v1h-1zM14 15h1v1h-1zM4 19h1v1h-1zM14 19h1v1h-1zM5 20h1v1h-1zM10 20h1v1h-1zM12 20h2v1h-2zM15 20h2v1h-2zM18 20h1v1h-1zM7 21h1v1h-1zM13 21h1v1h-1zM15 21h1v1h-1zM17 21h1v1h-1zM19 21h1v1h-1zM11 23h1v1h-1zM18 23h1v1h-1zM0 24h1v1h-1zM13 24h1v1h-1zM18 24h1v1h-1zM4 26h1v1h-1zM8 26h2v1h-2zM15 26h1v1h-1zM11 27h1v1h-1zM16 27h1v1h-1zM20 27h2v1h-2zM23 27h1v1h-1zM1 30h1v1h-1zM24 30h1v1h-1zM28 30h2v1h-2zM4 31h1v1h-1zM30 32h1v1h-1zM30 33h1v1h-1zM0 34h2v1h-2zM3 34h1v1h-1zM26 34h1v1h-1zM0 35h1v1h-1zM5 35h1v1h-1zM22 35h1v1h-1zM29 35h1v1h-1zM34 35h1v1h-1zM30 37h1v1h-1zM32 38h1v1h-1zM6 40h1v1h-1zM8 40h1v1h-1zM14 40h1v1h-1zM38 40h1v1h-1zM30 41h1v1h-1zM33 41h4v1h-4zM2 42h1v1h-1zM28 42h1v1h-1zM33 42h1v1h-1zM37 42h1v1h-1zM41 42h1v1h-1zM6 43h1v1h-1zM32 43h1v1h-1zM36 43h1v1h-1zM38 43h2v1h-2zM8 44h1v1h-1zM30 44h3v1h-3zM34 44h1v1h-1zM40 44h1v1h-1zM18 47h1v1h-1zM26 47h1v1h-1zM2 48h1v1h-1zM15 48h1v1h-1zM30 48h2v1h-2zM42 48h2v1h-2zM7 49h1v1h-1zM28 49h1v1h-1zM39 49h1v1h-1zM44 49h2v1h-2zM30 50h2v1h-2zM39 50h1v1h-1zM41 50h1v1h-1zM8 51h1v1h-1zM41 51h1v1h-1zM43 51h1v1h-1zM50 52h2v1h-2z"/><path fill="#f7f6f6" d="M1 4h1v1h-1zM2 6h1v1h-1zM6 7h1v1h-1zM0 8h3v1h-3zM4 8h1v1h-1zM6 8h1v1h-1zM2 11h1v1h-1zM3 12h1v1h-1zM1 14h1v1h-1zM2 15h2v1h-2zM3 19h1v1h-1zM9 19h1v1h-1zM0 21h1v1h-1zM2 21h2v1h-2zM17 22h1v1h-1zM19 22h1v1h-1zM21 22h1v1h-1zM2 23h1v1h-1zM3 24h1v1h-1zM15 24h1v1h-1zM3 25h1v1h-1zM5 25h1v1h-1zM12 25h1v1h-1zM14 25h1v1h-1zM19 25h1v1h-1zM23 25h1v1h-1zM2 27h1v1h-1zM4 27h1v1h-1zM14 27h1v1h-1zM2 30h1v1h-1zM10 30h1v1h-1zM14 30h1v1h-1zM14 31h1v1h-1zM29 31h1v1h-1zM2 32h1v1h-1zM9 32h1v1h-1zM2 33h1v1h-1zM6 33h1v1h-1zM23 33h1v1h-1zM27 33h1v1h-1zM7 34h1v1h-1zM21 34h1v1h-1zM4 35h1v1h-1zM5 36h1v1h-1zM7 36h1v1h-1zM9 36h1v1h-1zM28 36h2v1h-2zM32 36h1v1h-1zM3 37h1v1h-1zM5 37h1v1h-1zM28 37h1v1h-1zM8 38h2v1h-2zM27 38h1v1h-1zM29 39h1v1h-1zM38 39h1v1h-1zM22 40h2v1h-2zM7 41h1v1h-1zM14 41h1v1h-1zM21 41h1v1h-1zM22 42h1v1h-1zM20 43h1v1h-1zM33 43h1v1h-1zM5 44h2v1h-2zM15 44h1v1h-1zM23 44h1v1h-1zM28 46h1v1h-1zM30 46h1v1h-1zM35 46h2v1h-2zM40 46h1v1h-1zM8 47h1v1h-1zM10 47h1v1h-1zM12 47h1v1h-1zM34 47h1v1h-1zM46 47h1v1h-1zM0 48h1v1h-1zM3 48h1v1h-1zM8 48h1v1h-1zM17 48h1v1h-1zM20 48h1v1h-1zM23 48h1v1h-1zM26 48h1v1h-1zM28 48h1v1h-1zM0 49h1v1h-1zM3 49h1v1h-1zM5 49h1v1h-1zM22 49h2v1h-2zM37 49h2v1h-2zM41 49h1v1h-1zM43 49h1v1h-1zM0 50h1v1h-1zM2 50h1v1h-1zM6 50h3v1h-3zM16 50h1v1h-1zM45 50h1v1h-1zM15 51h1v1h-1zM20 51h2v1h-2zM2 52h1v1h-1zM4 52h1v1h-1zM33 52h1v1h-1zM39 52h1v1h-1zM41 52h1v1h-1zM45 52h1v1h-1z"/><path fill="#fddbc7" d="M3 4h1v1h-1zM7 9h1v1h-1zM0 12h1v1h-1zM14 18h1v1h-1zM10 19h2v1h-2zM14 20h1v1h-1zM11 24h2v1h-2zM16 25h1v1h-1zM2 26h1v1h-1zM6 26h1v1h-1zM21 28h1v1h-1zM0 30h1v1h-1zM3 30h2v1h-2zM7 30h1v1h-1zM20 30h1v1h-1zM31 32h1v1h-1zM29 33h1v1h-1zM31 33h1v1h-1zM31 34h1v1h-1zM26 35h1v1h-1zM0 37h1v1h-1zM25 38h1v1h-1zM34 38h1v1h-1zM0 40h1v1h-1zM2 40h1v1h-1zM5 40h1v1h-1zM3 41h1v1h-1zM16 41h1v1h-1zM31 41h2v1h-2zM37 41h1v1h-1zM39 41h1v1h-1zM4 42h1v1h-1zM9 42h1v1h-1zM26 42h2v1h-2zM29 42h1v1h-1zM31 43h1v1h-1zM4 44h1v1h-1zM7 44h1v1h-1zM21 44h1v1h-1zM44 45h1v1h-1zM6 48h1v1h-1zM29 48h1v1h-1zM17 49h1v1h-1zM34 50h1v1h-1zM38 50h1v1h-1zM47 50h1v1h-1zM2 51h4v1h-4zM27 51h1v1h-1zM29 51h1v1h-1zM33 51h1v1h-1zM45 51h1v1h-1z"/><path fill="#f8bfa4" d="M0 5h1v1h-1zM8 12h1v1h-1zM15 17h1v1h-1zM12 19h1v1h-1zM16 19h1v1h-1zM20 22h1v1h-1zM22 24h1v1h-1zM7 25h1v1h-1zM0 26h1v1h-1zM11 26h1v1h-1zM14 26h1v1h-1zM22 27h1v1h-1zM11 28h1v1h-1zM0 32h1v1h-1zM4 32h1v1h-1zM29 34h1v1h-1zM32 34h1v1h-1zM3 35h1v1h-1zM28 35h1v1h-1zM32 35h1v1h-1zM25 36h1v1h-1zM1 38h1v1h-1zM31 38h1v1h-1zM36 38h1v1h-1zM29 40h2v1h-2zM4 41h1v1h-1zM38 41h1v1h-1zM8 42h1v1h-1zM31 42h1v1h-1zM28 44h1v1h-1zM4 45h1v1h-1zM35 45h1v1h-1zM37 46h1v1h-1zM5 48h1v1h-1zM16 48h1v1h-1zM19 48h1v1h-1zM19 50h1v1h-1zM6 51h1v1h-1zM34 51h1v1h-1zM39 51h1v1h-1zM47 51h1v1h-1zM47 52h1v1h-1z"/><path fill="#dae9f2" d="M1 5h1v1h-1zM3 9h1v1h-1zM4 10h1v1h-1zM4 12h1v1h-1zM6 12h2v1h-2zM3 13h1v1h-1zM3 14h1v1h-1zM8 15h1v1h-1zM1 17h2v1h-2zM4 17h1v1h-1zM14 17h1v1h-1zM0 18h1v1h-1zM2 18h2v1h-2zM2 20h1v1h-1zM4 20h1v1h-1zM7 20h1v1h-1zM5 22h1v1h-1zM10 22h1v1h-1zM1 23h1v1h-1zM5 23h2v1h-2zM2 24h1v1h-1zM9 24h1v1h-1zM13 25h1v1h-1zM3 28h1v1h-1zM10 28h1v1h-1zM15 28h3v1h-3zM19 28h1v1h-1zM23 28h1v1h-1zM25 28h1v1h-1zM6 29h1v1h-1zM8 29h1v1h-1zM20 29h1v1h-1zM1 31h1v1h-1zM8 31h1v1h-1zM20 31h1v1h-1zM23 31h2v1h-2zM26 31h1v1h-1zM25 32h1v1h-1zM5 33h1v1h-1zM14 33h1v1h-1zM16 33h1v1h-1zM25 33h1v1h-1zM25 34h1v1h-1zM14 35h1v1h-1zM20 35h1v1h-1zM0 36h1v1h-1zM6 36h1v1h-1zM26 36h1v1h-1zM31 36h1v1h-1zM33 36h1v1h-1zM21 37h1v1h-1zM31 37h1v1h-1zM20 38h1v1h-1zM0 39h1v1h-1zM31 39h1v1h-1zM34 39h1v1h-1zM11 40h1v1h-1zM17 40h1v1h-1zM20 40h1v1h-1zM24 40h1v1h-1zM20 41h1v1h-1zM22 41h1v1h-1zM26 41h1v1h-1zM13 42h1v1h-1zM22 43h3v1h-3zM29 43h1v1h-1zM19 44h1v1h-1zM2 45h1v1h-1zM7 45h1v1h-1zM21 45h1v1h-1zM25 45h1v1h-1zM28 45h1v1h-1zM39 45h1v1h-1zM41 45h1v1h-1zM8 46h2v1h-2zM11 46h1v1h-1zM14 46h2v1h-2zM18 46h1v1h-1zM20 46h1v1h-1zM24 46h1v1h-1zM33 46h1v1h-1zM33 47h1v1h-1zM35 47h1v1h-1zM37 47h1v1h-1zM42 47h1v1h-1zM1 48h1v1h-1zM7 48h1v1h-1zM37 48h1v1h-1zM16 49h1v1h-1zM20 49h1v1h-1zM24 49h1v1h-1zM29 49h1v1h-1zM31 49h1v1h-1zM34 49h1v1h-1zM14 50h1v1h-1zM23 50h1v1h-1zM27 50h1v1h-1zM35 50h1v1h-1zM19 51h1v1h-1zM9 52h1v1h-1zM14 52h1v1h-1zM24 52h1v1h-1zM28 52h1v1h-1zM32 52h1v1h-1zM42 52h1v1h-1z"/><path fill="#fae9df" d="M2 5h1v1h-1zM7 8h1v1h-1zM8 9h1v1h-1zM9 12h1v1h-1zM0 19h1v1h-1zM1 21h1v1h-1zM6 21h1v1h-1zM10 21h2v1h-2zM16 21h1v1h-1zM10 23h1v1h-1zM17 23h1v1h-1zM19 23h1v1h-1zM22 23h1v1h-1zM4 25h1v1h-1zM8 25h1v1h-1zM10 25h2v1h-2zM5 26h1v1h-1zM12 27h1v1h-1zM19 27h1v1h-1zM5 30h1v1h-1zM19 30h1v1h-1zM23 30h1v1h-1zM25 30h1v1h-1zM3 31h1v1h-1zM5 32h2v1h-2zM29 32h1v1h-1zM26 33h1v1h-1zM32 33h1v1h-1zM2 34h1v1h-1zM4 34h2v1h-2zM6 35h1v1h-1zM13 37h1v1h-1zM34 37h3v1h-3zM10 38h1v1h-1zM14 38h1v1h-1zM29 38h2v1h-2zM37 38h1v1h-1zM1 40h1v1h-1zM10 40h1v1h-1zM13 40h1v1h-1zM36 40h1v1h-1zM39 40h1v1h-1zM0 41h1v1h-1zM1 42h1v1h-1zM5 42h1v1h-1zM21 42h1v1h-1zM32 42h1v1h-1zM34 42h1v1h-1zM39 42h1v1h-1zM2 43h1v1h-1zM5 43h1v1h-1zM7 43h1v1h-1zM20 44h1v1h-1zM22 44h1v1h-1zM26 44h1v1h-1zM41 44h1v1h-1zM1 46h1v1h-1zM3 46h1v1h-1zM16 46h1v1h-1zM31 46h1v1h-1zM38 46h1v1h-1zM4 47h1v1h-1zM36 47h1v1h-1zM14 48h1v1h-1zM25 48h1v1h-1zM27 48h1v1h-1zM41 48h1v1h-1zM44 48h1v1h-1zM46 48h2v1h-2zM3 50h3v1h-3zM17 50h1v1h-1zM33 50h1v1h-1zM37 50h1v1h-1zM40 50h1v1h-1zM1 51h1v1h-1zM14 51h1v1h-1zM25 51h2v1h-2zM31 51h1v1h-1zM36 51h1v1h-1z"/><path fill="#b1182b" d="M3 5h1v1h-1zM20 24h1v1h-1z"/><path fill="#f3a481" d="M4 5h1v1h-1zM10 16h1v1h-1zM17 19h1v1h-1zM8 23h1v1h-1zM19 24h1v1h-1zM1 26h1v1h-1zM10 26h1v1h-1zM19 26h1v1h-1zM3 27h1v1h-1zM18 30h1v1h-1zM1 41h1v1h-1zM40 42h1v1h-1zM42 43h1v1h-1zM32 45h1v1h-1zM23 46h1v1h-1zM28 47h1v1h-1zM24 48h1v1h-1zM48 50h1v1h-1zM32 51h1v1h-1zM46 52h1v1h-1z"/><path fill="#7eb8d7" d="M0 6h1v1h-1zM7 13h1v1h-1zM5 16h2v1h-2zM9 16h1v1h-1zM8 17h1v1h-1zM13 29h1v1h-1zM25 29h1v1h-1zM11 31h1v1h-1zM15 31h1v1h-1zM17 31h1v1h-1zM11 32h1v1h-1zM13 33h1v1h-1zM20 33h1v1h-1zM22 33h1v1h-1zM17 34h1v1h-1zM19 34h1v1h-1zM15 35h1v1h-1zM10 36h1v1h-1zM12 36h1v1h-1zM24 36h1v1h-1zM10 37h1v1h-1zM12 37h1v1h-1zM15 37h1v1h-1zM18 37h1v1h-1zM16 39h1v1h-1zM19 39h1v1h-1zM24 39h1v1h-1zM26 39h2v1h-2zM12 44h1v1h-1zM17 44h1v1h-1zM10 45h1v1h-1zM13 48h1v1h-1z"/><path fill="#d1e5f0" d="M1 6h1v1h-1zM3 6h2v1h-2zM0 9h1v1h-1zM7 10h1v1h-1zM8 11h2v1h-2zM5 15h1v1h-1zM1 16h1v1h-1zM4 18h1v1h-1zM7 18h1v1h-1zM0 22h1v1h-1zM2 22h1v1h-1zM7 22h1v1h-1zM16 22h1v1h-1zM7 23h1v1h-1zM7 27h1v1h-1zM1 28h1v1h-1zM9 28h1v1h-1zM13 28h1v1h-1zM1 29h1v1h-1zM3 29h1v1h-1zM7 29h1v1h-1zM14 29h1v1h-1zM21 29h1v1h-1zM13 30h1v1h-1zM7 31h1v1h-1zM9 31h1v1h-1zM21 31h1v1h-1zM28 31h1v1h-1zM22 32h1v1h-1zM24 32h1v1h-1zM1 33h1v1h-1zM7 33h1v1h-1zM16 34h1v1h-1zM20 34h1v1h-1zM8 35h1v1h-1zM10 35h1v1h-1zM14 36h1v1h-1zM21 36h1v1h-1zM20 37h1v1h-1zM24 37h1v1h-1zM26 37h1v1h-1zM19 38h1v1h-1zM22 38h1v1h-1zM2 39h1v1h-1zM7 39h1v1h-1zM14 39h1v1h-1zM32 39h2v1h-2zM19 40h1v1h-1zM19 41h1v1h-1zM30 43h1v1h-1zM6 45h1v1h-1zM22 45h3v1h-3zM38 45h1v1h-1zM17 46h1v1h-1zM6 47h1v1h-1zM15 47h1v1h-1zM41 47h1v1h-1zM35 48h2v1h-2zM12 49h1v1h-1zM15 49h1v1h-1zM18 49h1v1h-1zM21 49h1v1h-1zM25 49h2v1h-2zM33 49h1v1h-1zM35 49h1v1h-1zM12 50h2v1h-2zM21 50h2v1h-2zM29 50h1v1h-1zM12 51h2v1h-2zM1 52h1v1h-1z"/><path fill="#f6b394" d="M2 9h1v1h-1zM1 12h2v1h-2zM11 17h1v1h-1zM15 19h1v1h-1zM18 21h1v1h-1zM17 24h1v1h-1zM24 25h1v1h-1zM12 26h1v1h-1zM1 35h1v1h-1zM31 35h1v1h-1zM9 37h1v1h-1zM2 38h1v1h-1zM30 39h1v1h-1zM28 40h1v1h-1zM33 44h1v1h-1zM42 44h1v1h-1zM39 46h1v1h-1zM42 46h1v1h-1zM4 48h1v1h-1zM7 51h1v1h-1zM28 51h1v1h-1zM46 51h1v1h-1zM48 52h2v1h-2z"/><path fill="#d6604d" d="M6 9h1v1h-1zM10 14h1v1h-1zM13 15h1v1h-1zM11 16h1v1h-1zM15 16h1v1h-1zM16 18h1v1h-1zM20 26h1v1h-1zM24 26h1v1h-1zM4 49h1v1h-1z"/><path fill="#6bacd1" d="M5 10h1v1h-1zM9 13h1v1h-1zM10 29h2v1h-2zM18 29h1v1h-1zM13 32h1v1h-1zM17 32h1v1h-1zM10 34h1v1h-1zM15 34h1v1h-1zM11 36h1v1h-1zM13 36h1v1h-1zM22 39h1v1h-1zM10 43h2v1h-2zM19 43h1v1h-1z"/><path fill="#a2cde3" d="M8 10h1v1h-1zM5 14h3v1h-3zM7 16h1v1h-1zM0 17h1v1h-1zM5 18h1v1h-1zM9 18h1v1h-1zM16 29h1v1h-1zM24 29h1v1h-1zM19 31h1v1h-1zM18 32h1v1h-1zM20 32h1v1h-1zM17 33h1v1h-1zM11 34h1v1h-1zM12 35h2v1h-2zM27 36h1v1h-1zM11 37h1v1h-1zM16 37h1v1h-1zM22 37h1v1h-1zM27 37h1v1h-1zM20 39h1v1h-1zM23 39h1v1h-1zM11 41h2v1h-2zM17 42h1v1h-1zM15 43h1v1h-1zM11 44h1v1h-1zM11 52h1v1h-1zM17 52h1v1h-1z"/><path fill="#b1d5e7" d="M9 10h1v1h-1zM7 15h1v1h-1zM3 17h1v1h-1zM6 20h1v1h-1zM4 22h1v1h-1zM8 22h1v1h-1zM17 27h1v1h-1zM2 28h1v1h-1zM6 28h2v1h-2zM12 28h1v1h-1zM0 29h1v1h-1zM26 29h3v1h-3zM13 34h1v1h-1zM11 35h1v1h-1zM20 36h1v1h-1zM22 36h1v1h-1zM25 37h1v1h-1zM12 38h2v1h-2zM18 38h1v1h-1zM5 39h1v1h-1zM21 39h1v1h-1zM18 40h1v1h-1zM13 41h1v1h-1zM15 41h1v1h-1zM15 42h1v1h-1zM18 42h2v1h-2zM9 43h1v1h-1zM1 45h1v1h-1zM5 47h1v1h-1zM9 47h1v1h-1zM19 47h1v1h-1zM13 52h1v1h-1zM16 52h1v1h-1zM18 52h1v1h-1zM29 52h3v1h-3z"/><path fill="#90c4dd" d="M3 11h1v1h-1zM5 13h2v1h-2zM8 14h2v1h-2zM8 16h1v1h-1zM5 17h1v1h-1zM7 17h1v1h-1zM9 17h1v1h-1zM13 22h1v1h-1zM15 22h1v1h-1zM4 28h2v1h-2zM12 29h1v1h-1zM13 31h1v1h-1zM16 31h1v1h-1zM18 31h1v1h-1zM10 32h1v1h-1zM19 32h1v1h-1zM10 33h1v1h-1zM15 33h1v1h-1zM19 33h1v1h-1zM15 36h2v1h-2zM19 37h1v1h-1zM25 39h1v1h-1zM13 44h1v1h-1zM18 44h1v1h-1zM27 45h1v1h-1zM13 49h1v1h-1z"/><path fill="#fbccb4" d="M7 11h1v1h-1zM10 17h1v1h-1zM13 19h1v1h-1zM12 23h1v1h-1zM10 24h1v1h-1zM16 24h1v1h-1zM23 24h1v1h-1zM0 25h1v1h-1zM22 25h1v1h-1zM3 26h1v1h-1zM7 26h1v1h-1zM13 26h1v1h-1zM16 26h1v1h-1zM13 27h1v1h-1zM26 27h1v1h-1zM6 30h1v1h-1zM8 30h2v1h-2zM27 30h1v1h-1zM28 34h1v1h-1zM30 34h1v1h-1zM33 34h1v1h-1zM2 35h1v1h-1zM23 35h1v1h-1zM30 35h1v1h-1zM33 35h1v1h-1zM3 38h2v1h-2zM33 38h1v1h-1zM35 38h1v1h-1zM21 40h1v1h-1zM31 40h4v1h-4zM37 40h1v1h-1zM2 41h1v1h-1zM28 41h1v1h-1zM40 41h1v1h-1zM6 42h2v1h-2zM41 43h1v1h-1zM25 44h1v1h-1zM29 44h1v1h-1zM43 44h1v1h-1zM43 45h1v1h-1zM0 46h1v1h-1zM9 48h1v1h-1zM46 50h1v1h-1zM9 51h1v1h-1zM30 51h1v1h-1zM35 51h1v1h-1zM38 51h1v1h-1zM44 51h1v1h-1z"/><path fill="#9f1228" d="M10 12h1v1h-1zM15 18h1v1h-1z"/><path fill="#c43b3c" d="M11 12h1v1h-1zM11 13h1v1h-1zM12 14h1v1h-1zM10 15h3v1h-3zM21 23h1v1h-1zM49 51h1v1h-1z"/><path fill="#ec9374" d="M4 13h1v1h-1zM12 17h1v1h-1zM18 19h1v1h-1zM0 20h1v1h-1zM20 25h1v1h-1zM18 26h1v1h-1zM21 26h1v1h-1zM25 27h1v1h-1zM14 28h1v1h-1zM9 35h1v1h-1zM35 36h1v1h-1zM3 42h1v1h-1zM9 44h1v1h-1z"/><path fill="#569fc9" d="M8 13h1v1h-1zM6 17h1v1h-1zM10 31h1v1h-1zM12 31h1v1h-1zM12 32h1v1h-1zM11 33h1v1h-1zM18 33h1v1h-1zM12 34h1v1h-1zM18 34h1v1h-1zM17 36h2v1h-2zM17 39h1v1h-1zM24 41h1v1h-1zM12 43h1v1h-1zM16 44h1v1h-1zM16 45h1v1h-1z"/><path fill="#dd7059" d="M10 13h1v1h-1zM12 13h1v1h-1zM10 18h1v1h-1zM20 21h1v1h-1zM20 23h1v1h-1zM1 25h1v1h-1zM8 41h1v1h-1zM30 42h1v1h-1zM49 50h1v1h-1zM0 51h1v1h-1zM40 51h1v1h-1z"/><path fill="#cc4c44" d="M11 14h1v1h-1zM12 16h2v1h-2zM11 18h1v1h-1zM13 18h1v1h-1zM26 30h1v1h-1zM7 40h1v1h-1zM32 50h1v1h-1z"/><path fill="#67001f" d="M13 14h1v1h-1zM22 26h1v1h-1zM50 51h1v1h-1z"/><path fill="#e48066" d="M13 17h1v1h-1zM11 20h1v1h-1zM21 24h1v1h-1zM23 26h1v1h-1zM25 26h1v1h-1zM28 38h1v1h-1zM26 43h1v1h-1zM45 47h1v1h-1zM48 51h1v1h-1z"/><path fill="#790622" d="M12 18h1v1h-1z"/><path fill="#ba2832" d="M17 18h1v1h-1zM36 50h1v1h-1z"/><path fill="#8a0b25" d="M24 27h1v1h-1z"/><path fill="#327cb7" d="M15 29h1v1h-1zM15 32h1v1h-1zM11 39h1v1h-1zM15 39h1v1h-1zM11 45h1v1h-1zM17 45h1v1h-1zM19 45h1v1h-1z"/><path fill="#4393c3" d="M17 29h1v1h-1zM12 33h1v1h-1zM10 39h1v1h-1zM13 43h1v1h-1zM16 43h1v1h-1zM15 45h1v1h-1z"/><path fill="#3a87bd" d="M19 36h1v1h-1zM13 39h1v1h-1zM18 39h1v1h-1z"/><path fill="#2065ab" d="M12 39h1v1h-1zM18 45h1v1h-1z"/><path fill="#1a5899" d="M17 43h1v1h-1zM12 45h2v1h-2z"/><path fill="#2a71b2" d="M18 43h1v1h-1z"/></g><g id="U2"><path fill="#fddbc7" d="M1 0h4v1h-4zM2 1h3v1h-3zM3 2h2v1h-2zM4 3h1v1h-1zM20 10h8v1h-8zM20 11h8v1h-8zM20 12h8v1h-8zM20 13h8v1h-8zM20 14h8v1h-8zM20 15h8v1h-8zM20 16h8v1h-8zM20 17h8v1h-8zM20 18h8v1h-8zM20 19h8v1h-8z"/><path fill="#f9f0eb" d="M5 0h5v1h-5zM28 0h14v1h-14zM5 1h5v1h-5zM28 1h14v1h-14zM5 2h5v1h-5zM28 2h14v1h-14zM5 3h5v1h-5zM28 3h14v1h-14zM5 4h5v1h-5zM28 4h14v1h-14zM29 28h13v1h-13zM30 29h12v1h-12zM31 30h11v1h-11zM32 31h10v1h-10zM33 32h9v1h-9zM34 33h8v1h-8zM35 34h7v1h-7zM36 35h6v1h-6zM37 36h5v1h-5zM38 37h4v1h-4zM39 38h3v1h-3zM40 39h2v1h-2zM41 40h1v1h-1zM46 42h7v1h-7zM46 43h7v1h-7zM46 44h7v1h-7zM46 45h7v1h-7z"/><path fill="#edf2f5" d="M10 0h10v1h-10zM10 1h10v1h-10zM10 2h10v1h-10zM10 3h10v1h-10zM10 4h10v1h-10zM42 20h4v1h-4zM42 21h4v1h-4zM42 22h4v1h-4zM42 23h4v1h-4zM42 24h4v1h-4zM42 25h4v1h-4zM42 26h4v1h-4zM42 27h4v1h-4z"/><path fill="#f7f6f6" d="M20 0h8v1h-8zM46 0h7v1h-7zM20 1h8v1h-8zM46 1h7v1h-7zM20 2h8v1h-8zM46 2h7v1h-7zM20 3h8v1h-8zM46 3h7v1h-7zM20 4h8v1h-8zM46 4h7v1h-7zM28 5h14v1h-14zM46 5h7v1h-7zM28 6h14v1h-14zM46 6h7v1h-7zM28 7h14v1h-14zM46 7h7v1h-7zM28 8h14v1h-14zM46 8h7v1h-7zM28 9h14v1h-14zM46 9h7v1h-7zM46 10h7v1h-7zM46 11h7v1h-7zM46 12h7v1h-7zM46 13h7v1h-7zM46 14h7v1h-7zM46 15h7v1h-7zM46 16h7v1h-7zM46 17h7v1h-7zM46 18h7v1h-7zM46 19h7v1h-7zM46 20h7v1h-7zM46 21h7v1h-7zM46 22h7v1h-7zM46 23h7v1h-7zM46 24h7v1h-7zM46 25h7v1h-7zM46 26h7v1h-7zM46 27h7v1h-7zM42 28h11v1h-11zM42 29h11v1h-11zM42 30h11v1h-11zM42 31h11v1h-11zM42 32h11v1h-11zM42 33h11v1h-11zM42 34h11v1h-11zM42 35h11v1h-11zM42 36h11v1h-11zM42 37h11v1h-11zM42 38h11v1h-11zM42 39h11v1h-11zM42 40h11v1h-11zM42 41h11v1h-11z"/><path fill="#fae9df" d="M42 0h4v1h-4zM42 1h4v1h-4zM42 2h4v1h-4zM42 3h4v1h-4zM42 4h4v1h-4z"/><path fill="#f3a481" d="M6 5h4v1h-4zM7 6h3v1h-3zM8 7h2v1h-2zM9 8h1v1h-1z"/><path fill="#c2ddec" d="M10 5h10v1h-10zM10 6h10v1h-10zM10 7h10v1h-10zM10 8h10v1h-10zM10 9h10v1h-10z"/><path fill="#dae9f2" d="M20 5h8v1h-8zM20 6h8v1h-8zM20 7h8v1h-8zM20 8h8v1h-8zM20 9h8v1h-8z"/><path fill="#fce2d2" d="M42 5h4v1h-4zM42 6h4v1h-4zM42 7h4v1h-4zM42 8h4v1h-4zM42 9h4v1h-4z"/><path fill="#d6604d" d="M11 10h9v1h-9zM12 11h8v1h-8zM13 12h7v1h-7zM14 13h6v1h-6zM15 14h5v1h-5zM16 15h4v1h-4zM17 16h3v1h-3zM18 17h2v1h-2zM19 18h1v1h-1z"/><path fill="#d1e5f0" d="M28 10h14v1h-14zM28 11h14v1h-14zM28 12h14v1h-14zM28 13h14v1h-14zM28 14h14v1h-14zM28 15h14v1h-14zM28 16h14v1h-14zM28 17h14v1h-14zM28 18h14v1h-14zM28 19h14v1h-14z"/><path fill="#90c4dd" d="M42 10h4v1h-4zM42 11h4v1h-4zM42 12h4v1h-4zM42 13h4v1h-4zM42 14h4v1h-4zM42 15h4v1h-4zM42 16h4v1h-4zM42 17h4v1h-4zM42 18h4v1h-4zM42 19h4v1h-4z"/><path fill="#e48066" d="M21 20h7v1h-7zM22 21h6v1h-6zM23 22h5v1h-5zM24 23h4v1h-4zM25 24h3v1h-3zM26 25h2v1h-2zM27 26h1v1h-1z"/><path fill="#e4eef4" d="M28 20h14v1h-14zM28 21h14v1h-14zM28 22h14v1h-14zM28 23h14v1h-14zM28 24h14v1h-14zM28 25h14v1h-14zM28 26h14v1h-14zM28 27h14v1h-14z"/><path fill="#fbccb4" d="M43 42h3v1h-3zM44 43h2v1h-2zM45 44h1v1h-1z"/><path fill="#f6b394" d="M47 46h6v1h-6zM48 47h5v1h-5zM49 48h4v1h-4zM50 49h3v1h-3zM51 50h2v1h-2zM52 51h1v1h-1z"/></g><g id="L3"><path fill="#fddbc7" d="M0 1h1v1h-1zM7 12h1v1h-1zM10 13h2v1h-2zM7 15h1v1h-1zM16 19h1v1h-1zM14 20h1v1h-1zM9 22h1v1h-1zM7 23h1v1h-1zM16 24h1v1h-1zM26 27h1v1h-1zM16 28h1v1h-1zM18 28h1v1h-1zM6 31h1v1h-1zM10 31h1v1h-1zM24 31h1v1h-1zM28 31h1v1h-1zM9 33h1v1h-1zM14 33h1v1h-1zM8 35h1v1h-1zM32 36h2v1h-2zM0 37h1v1h-1zM28 37h2v1h-2zM34 37h1v1h-1zM8 38h1v1h-1zM28 38h1v1h-1zM30 38h1v1h-1zM30 40h1v1h-1zM32 40h2v1h-2zM36 40h1v1h-1zM6 41h2v1h-2zM9 42h1v1h-1zM23 42h1v1h-1zM29 42h1v1h-1zM33 42h1v1h-1zM39 44h1v1h-1zM32 45h1v1h-1zM37 45h1v1h-1zM42 45h1v1h-1zM3 46h1v1h-1zM32 46h1v1h-1zM34 46h1v1h-1zM33 47h1v1h-1zM40 47h3v1h-3zM32 48h2v1h-2zM36 48h1v1h-1zM39 48h1v1h-1zM43 48h1v1h-1zM8 49h1v1h-1zM11 49h1v1h-1zM5 50h1v1h-1zM35 50h1v1h-1zM43 50h1v1h-1zM1 51h1v1h-1zM36 51h1v1h-1zM3 52h1v1h-1zM38 52h1v1h-1zM47 52h1v1h-1z"/><path fill="#790622" d="M0 2h1v1h-1zM5 6h1v1h-1zM11 17h1v1h-1zM20 21h1v1h-1zM10 22h1v1h-1zM21 23h1v1h-1zM21 25h1v1h-1zM14 26h1v1h-1zM25 26h1v1h-1zM1 48h1v1h-1z"/><path fill="#d6604d" d="M1 2h1v1h-1zM1 3h2v1h-2zM11 14h1v1h-1zM13 15h1v1h-1zM10 16h1v1h-1zM15 16h1v1h-1zM15 18h1v1h-1zM17 21h1v1h-1zM5 22h1v1h-1zM20 22h1v1h-1zM18 24h1v1h-1zM12 26h1v1h-1zM23 27h1v1h-1zM14 28h1v1h-1zM4 29h1v1h-1zM27 31h1v1h-1zM8 32h1v1h-1zM31 35h1v1h-1zM2 38h1v1h-1zM2 42h1v1h-1zM35 42h1v1h-1z"/><path fill="#ec9374" d="M0 3h1v1h-1zM6 13h1v1h-1zM12 14h1v1h-1zM12 15h1v1h-1zM5 16h1v1h-1zM6 17h2v1h-2zM10 19h1v1h-1zM12 19h1v1h-1zM13 22h1v1h-1zM18 22h1v1h-1zM12 24h1v1h-1zM15 25h1v1h-1zM23 25h1v1h-1zM12 28h1v1h-1zM3 29h1v1h-1zM1 30h1v1h-1zM12 31h1v1h-1zM3 33h1v1h-1zM3 34h1v1h-1zM6 34h1v1h-1zM33 34h1v1h-1zM2 36h1v1h-1zM8 37h1v1h-1zM33 37h1v1h-1zM0 38h1v1h-1zM4 38h1v1h-1zM33 38h1v1h-1zM35 38h1v1h-1zM37 39h1v1h-1zM1 40h2v1h-2zM7 40h1v1h-1zM5 42h1v1h-1zM14 42h1v1h-1zM30 42h1v1h-1zM39 42h1v1h-1zM2 44h2v1h-2zM2 46h1v1h-1zM4 46h1v1h-1zM4 48h1v1h-1zM35 48h1v1h-1zM0 49h1v1h-1zM29 49h1v1h-1zM41 50h1v1h-1zM48 50h1v1h-1zM5 51h1v1h-1z"/><path fill="#fbccb4" d="M0 4h1v1h-1zM5 9h1v1h-1zM9 12h1v1h-1zM12 13h1v1h-1zM16 18h1v1h-1zM3 20h1v1h-1zM16 20h1v1h-1zM6 21h1v1h-1zM0 28h2v1h-2zM9 28h1v1h-1zM19 28h1v1h-1zM22 28h1v1h-1zM3 30h1v1h-1zM23 31h1v1h-1zM28 32h1v1h-1zM29 33h1v1h-1zM13 34h1v1h-1zM27 34h1v1h-1zM29 34h2v1h-2zM28 35h1v1h-1zM30 36h1v1h-1zM35 36h1v1h-1zM31 37h2v1h-2zM30 39h1v1h-1zM9 40h1v1h-1zM39 40h1v1h-1zM8 41h1v1h-1zM29 41h2v1h-2zM38 41h1v1h-1zM1 43h1v1h-1zM31 44h1v1h-1zM5 45h1v1h-1zM35 45h1v1h-1zM38 45h1v1h-1zM0 46h1v1h-1zM9 46h1v1h-1zM37 46h1v1h-1zM45 47h2v1h-2zM28 48h1v1h-1zM36 49h1v1h-1zM2 50h2v1h-2zM33 51h1v1h-1zM37 51h1v1h-1z"/><path fill="#f7f6f6" d="M1 4h1v1h-1zM3 7h1v1h-1zM6 9h2v1h-2zM9 10h1v1h-1zM6 11h1v1h-1zM7 13h1v1h-1zM7 20h1v1h-1zM6 23h1v1h-1zM7 24h1v1h-1zM25 28h1v1h-1zM28 30h2v1h-2zM5 31h1v1h-1zM7 31h1v1h-1zM20 31h1v1h-1zM9 32h1v1h-1zM6 33h2v1h-2zM16 33h1v1h-1zM32 33h1v1h-1zM16 34h1v1h-1zM9 36h1v1h-1zM14 37h1v1h-1zM6 40h1v1h-1zM17 41h1v1h-1zM23 41h1v1h-1zM28 41h1v1h-1zM40 41h1v1h-1zM19 42h2v1h-2zM7 43h1v1h-1zM34 43h1v1h-1zM37 43h2v1h-2zM40 43h1v1h-1zM9 44h1v1h-1zM28 44h1v1h-1zM37 44h1v1h-1zM43 44h1v1h-1zM6 45h1v1h-1zM26 46h1v1h-1zM31 46h1v1h-1zM3 47h1v1h-1zM10 47h1v1h-1zM16 47h1v1h-1zM18 47h1v1h-1zM20 47h1v1h-1zM23 47h1v1h-1zM29 47h1v1h-1zM37 47h1v1h-1zM9 48h1v1h-1zM11 48h1v1h-1zM37 48h1v1h-1zM7 49h1v1h-1zM19 49h3v1h-3zM23 49h1v1h-1zM23 50h1v1h-1zM31 50h1v1h-1zM34 50h1v1h-1zM36 50h1v1h-1zM44 50h1v1h-1zM8 51h1v1h-1zM11 51h2v1h-2zM14 51h1v1h-1zM16 51h1v1h-1zM18 51h1v1h-1zM25 51h2v1h-2zM32 51h1v1h-1zM45 51h1v1h-1zM49 51h1v1h-1zM28 52h1v1h-1z"/><path fill="#fce2d2" d="M2 4h1v1h-1zM8 10h1v1h-1zM9 18h1v1h-1zM9 20h1v1h-1zM17 20h1v1h-1zM19 20h1v1h-1zM6 26h2v1h-2zM6 27h1v1h-1zM5 29h1v1h-1zM0 32h1v1h-1zM2 32h2v1h-2zM17 32h1v1h-1zM1 33h2v1h-2zM8 34h1v1h-1zM32 34h1v1h-1zM1 35h1v1h-1zM9 35h1v1h-1zM29 35h1v1h-1zM32 35h1v1h-1zM34 35h1v1h-1zM0 36h1v1h-1zM6 36h1v1h-1zM35 37h1v1h-1zM5 39h1v1h-1zM28 39h1v1h-1zM28 40h1v1h-1zM34 40h1v1h-1zM36 41h2v1h-2zM8 42h1v1h-1zM24 42h2v1h-2zM27 42h1v1h-1zM31 42h1v1h-1zM0 43h1v1h-1zM2 43h1v1h-1zM4 43h1v1h-1zM36 43h1v1h-1zM38 44h1v1h-1zM31 45h1v1h-1zM33 46h1v1h-1zM8 47h1v1h-1zM17 47h1v1h-1zM31 47h2v1h-2zM34 47h1v1h-1zM43 47h2v1h-2zM5 48h1v1h-1zM21 48h1v1h-1zM31 48h1v1h-1zM41 48h1v1h-1zM0 50h1v1h-1zM33 50h1v1h-1zM6 51h2v1h-2zM4 52h1v1h-1z"/><path fill="#f9f0eb" d="M3 4h1v1h-1zM4 7h1v1h-1zM9 13h1v1h-1zM6 15h1v1h-1zM4 16h1v1h-1zM0 17h1v1h-1zM6 18h1v1h-1zM0 20h1v1h-1zM6 20h1v1h-1zM8 20h1v1h-1zM12 20h1v1h-1zM6 24h1v1h-1zM11 28h1v1h-1zM17 28h1v1h-1zM23 28h1v1h-1zM7 29h1v1h-1zM0 30h1v1h-1zM6 30h1v1h-1zM8 30h1v1h-1zM0 31h1v1h-1zM9 31h1v1h-1zM13 31h1v1h-1zM16 31h1v1h-1zM18 31h1v1h-1zM29 32h1v1h-1zM31 32h1v1h-1zM0 35h1v1h-1zM18 35h1v1h-1zM30 35h1v1h-1zM34 36h1v1h-1zM17 37h1v1h-1zM36 37h1v1h-1zM6 39h2v1h-2zM38 39h1v1h-1zM8 40h1v1h-1zM19 40h1v1h-1zM31 40h1v1h-1zM24 41h1v1h-1zM7 42h1v1h-1zM13 42h1v1h-1zM15 42h1v1h-1zM17 42h2v1h-2zM3 43h1v1h-1zM35 43h1v1h-1zM42 43h1v1h-1zM0 44h1v1h-1zM29 44h1v1h-1zM32 44h1v1h-1zM35 44h2v1h-2zM7 45h1v1h-1zM40 45h1v1h-1zM28 46h1v1h-1zM36 46h1v1h-1zM38 46h1v1h-1zM44 46h1v1h-1zM2 47h1v1h-1zM6 47h2v1h-2zM0 48h1v1h-1zM6 48h1v1h-1zM26 48h1v1h-1zM44 48h1v1h-1zM5 49h1v1h-1zM16 49h1v1h-1zM26 49h1v1h-1zM7 50h1v1h-1zM30 50h1v1h-1zM37 50h1v1h-1zM39 50h2v1h-2zM42 50h1v1h-1zM45 50h1v1h-1zM15 51h1v1h-1zM17 51h1v1h-1zM23 51h1v1h-1zM34 51h1v1h-1zM43 51h2v1h-2zM2 52h1v1h-1zM33 52h1v1h-1zM39 52h1v1h-1z"/><path fill="#f8bfa4" d="M0 5h1v1h-1zM8 11h2v1h-2zM8 12h1v1h-1zM9 14h1v1h-1zM15 20h1v1h-1zM18 20h1v1h-1zM9 21h1v1h-1zM8 27h1v1h-1zM2 28h1v1h-1zM5 28h1v1h-1zM4 31h1v1h-1zM11 31h1v1h-1zM26 31h1v1h-1zM7 32h1v1h-1zM0 34h1v1h-1zM33 35h1v1h-1zM28 36h2v1h-2zM31 36h1v1h-1zM2 37h1v1h-1zM6 37h1v1h-1zM7 38h1v1h-1zM31 38h1v1h-1zM4 39h1v1h-1zM29 39h1v1h-1zM29 40h1v1h-1zM35 40h1v1h-1zM2 41h1v1h-1zM5 41h1v1h-1zM31 41h1v1h-1zM34 41h1v1h-1zM16 42h1v1h-1zM28 42h1v1h-1zM32 42h1v1h-1zM41 42h1v1h-1zM28 43h1v1h-1zM1 44h1v1h-1zM29 45h1v1h-1zM41 45h1v1h-1zM35 46h1v1h-1zM41 46h1v1h-1zM15 47h1v1h-1zM37 49h1v1h-1zM42 49h1v1h-1zM4 50h1v1h-1zM9 50h1v1h-1zM47 50h1v1h-1zM49 50h1v1h-1zM40 51h1v1h-1zM46 52h1v1h-1zM48 52h1v1h-1z"/><path fill="#90c4dd" d="M1 5h3v1h-3zM0 10h1v1h-1zM4 18h1v1h-1zM3 21h1v1h-1zM2 23h2v1h-2zM3 24h1v1h-1zM4 26h1v1h-1zM17 30h1v1h-1zM21 30h1v1h-1zM27 30h1v1h-1zM23 33h2v1h-2zM18 34h1v1h-1zM12 35h1v1h-1zM10 36h1v1h-1zM21 36h1v1h-1zM27 36h1v1h-1zM16 37h1v1h-1zM18 37h1v1h-1zM20 37h1v1h-1zM22 37h1v1h-1zM10 38h1v1h-1zM12 39h1v1h-1zM22 39h1v1h-1zM14 40h1v1h-1zM13 41h1v1h-1zM22 41h1v1h-1zM14 43h1v1h-1zM11 44h2v1h-2zM18 44h1v1h-1zM21 44h2v1h-2zM24 44h1v1h-1zM14 45h1v1h-1zM13 46h2v1h-2zM18 46h3v1h-3zM25 46h1v1h-1zM19 50h2v1h-2zM22 50h1v1h-1z"/><path fill="#569fc9" d="M4 5h1v1h-1zM0 6h1v1h-1zM2 6h1v1h-1zM3 10h1v1h-1zM3 15h1v1h-1zM1 16h1v1h-1zM4 19h1v1h-1zM1 21h1v1h-1zM4 24h1v1h-1zM1 27h1v1h-1zM10 29h1v1h-1zM19 29h1v1h-1zM13 30h1v1h-1zM25 30h1v1h-1zM13 32h1v1h-1zM22 33h1v1h-1zM12 36h1v1h-1zM18 38h1v1h-1zM18 40h1v1h-1zM27 41h1v1h-1zM10 44h1v1h-1zM18 45h1v1h-1zM11 50h1v1h-1z"/><path fill="#053061" d="M1 6h1v1h-1z"/><path fill="#2a71b2" d="M3 6h1v1h-1zM4 10h1v1h-1zM4 14h1v1h-1zM1 19h2v1h-2zM0 25h1v1h-1zM20 29h1v1h-1zM11 30h2v1h-2zM11 52h3v1h-3zM24 52h1v1h-1zM27 52h1v1h-1z"/><path fill="#3a87bd" d="M4 6h1v1h-1zM1 10h1v1h-1zM4 11h1v1h-1zM1 13h2v1h-2zM1 15h1v1h-1zM0 19h1v1h-1zM1 24h1v1h-1zM1 26h1v1h-1zM2 27h1v1h-1zM4 27h1v1h-1zM10 32h1v1h-1zM15 32h1v1h-1zM19 32h1v1h-1zM25 32h1v1h-1zM27 37h1v1h-1zM11 39h1v1h-1zM15 39h2v1h-2zM25 39h1v1h-1zM21 52h1v1h-1zM23 52h1v1h-1z"/><path fill="#d1e5f0" d="M0 7h2v1h-2zM6 8h1v1h-1zM0 9h2v1h-2zM7 10h1v1h-1zM6 12h1v1h-1zM2 17h1v1h-1zM0 18h1v1h-1zM2 20h1v1h-1zM26 30h1v1h-1zM13 33h1v1h-1zM10 34h1v1h-1zM14 34h1v1h-1zM21 34h1v1h-1zM24 34h1v1h-1zM21 35h2v1h-2zM26 35h1v1h-1zM23 36h3v1h-3zM12 37h1v1h-1zM19 37h1v1h-1zM23 37h2v1h-2zM16 38h1v1h-1zM10 40h1v1h-1zM13 40h1v1h-1zM24 40h1v1h-1zM26 40h1v1h-1zM14 41h3v1h-3zM18 41h1v1h-1zM25 41h1v1h-1zM10 42h1v1h-1zM22 42h1v1h-1zM5 43h1v1h-1zM21 43h1v1h-1zM31 43h1v1h-1zM7 44h1v1h-1zM13 45h1v1h-1zM36 45h1v1h-1zM13 47h1v1h-1zM19 47h1v1h-1zM27 47h1v1h-1zM13 48h1v1h-1zM19 48h1v1h-1zM22 48h1v1h-1zM17 49h1v1h-1zM22 49h1v1h-1zM16 50h3v1h-3zM30 52h1v1h-1zM35 52h1v1h-1zM41 52h1v1h-1z"/><path fill="#e4eef4" d="M2 7h1v1h-1zM7 8h1v1h-1zM3 9h1v1h-1zM6 14h1v1h-1zM4 20h1v1h-1zM6 22h1v1h-1zM13 29h1v1h-1zM24 29h1v1h-1zM17 31h1v1h-1zM19 31h1v1h-1zM21 31h2v1h-2zM8 33h1v1h-1zM22 34h2v1h-2zM26 34h1v1h-1zM7 35h1v1h-1zM24 35h1v1h-1zM26 36h1v1h-1zM30 37h1v1h-1zM25 38h2v1h-2zM32 39h1v1h-1zM12 42h1v1h-1zM6 43h1v1h-1zM16 43h1v1h-1zM30 43h1v1h-1zM32 43h2v1h-2zM39 43h1v1h-1zM30 44h1v1h-1zM6 46h1v1h-1zM17 46h1v1h-1zM23 46h1v1h-1zM45 46h1v1h-1zM25 47h1v1h-1zM28 47h1v1h-1zM36 47h1v1h-1zM39 47h1v1h-1zM15 49h1v1h-1zM14 50h1v1h-1zM38 50h1v1h-1zM4 51h1v1h-1zM10 51h1v1h-1zM22 51h1v1h-1zM24 51h1v1h-1zM50 51h1v1h-1zM31 52h1v1h-1zM50 52h1v1h-1z"/><path fill="#fae9df" d="M5 7h1v1h-1zM6 10h1v1h-1zM8 19h2v1h-2zM8 25h2v1h-2zM7 27h1v1h-1zM20 28h1v1h-1zM26 28h2v1h-2zM2 30h1v1h-1zM5 30h1v1h-1zM9 30h1v1h-1zM8 31h1v1h-1zM29 31h1v1h-1zM30 32h1v1h-1zM0 33h1v1h-1zM10 33h1v1h-1zM28 33h1v1h-1zM31 34h1v1h-1zM5 35h2v1h-2zM14 38h1v1h-1zM23 38h1v1h-1zM0 39h1v1h-1zM8 39h2v1h-2zM34 39h1v1h-1zM36 39h1v1h-1zM37 40h1v1h-1zM39 41h1v1h-1zM9 43h1v1h-1zM5 44h1v1h-1zM33 44h1v1h-1zM9 45h1v1h-1zM17 45h1v1h-1zM28 45h1v1h-1zM30 45h1v1h-1zM39 45h1v1h-1zM29 46h2v1h-2zM42 46h1v1h-1zM9 47h1v1h-1zM22 47h1v1h-1zM35 47h1v1h-1zM38 47h1v1h-1zM34 48h1v1h-1zM40 48h1v1h-1zM42 48h1v1h-1zM45 48h1v1h-1zM9 49h1v1h-1zM44 49h2v1h-2zM6 50h1v1h-1zM8 50h1v1h-1zM29 50h1v1h-1zM9 51h1v1h-1zM35 51h1v1h-1zM38 51h1v1h-1zM42 51h1v1h-1zM47 51h2v1h-2zM0 52h2v1h-2z"/><path fill="#edf2f5" d="M6 7h1v1h-1zM2 9h1v1h-1zM1 23h1v1h-1zM9 29h1v1h-1zM26 29h1v1h-1zM7 30h1v1h-1zM14 31h1v1h-1zM5 32h1v1h-1zM26 33h1v1h-1zM30 33h1v1h-1zM11 34h1v1h-1zM20 34h1v1h-1zM7 36h2v1h-2zM11 36h1v1h-1zM15 38h1v1h-1zM12 40h1v1h-1zM15 40h1v1h-1zM11 42h1v1h-1zM8 43h1v1h-1zM26 43h1v1h-1zM29 43h1v1h-1zM41 43h1v1h-1zM34 44h1v1h-1zM15 45h2v1h-2zM23 45h1v1h-1zM5 46h1v1h-1zM39 46h1v1h-1zM43 46h1v1h-1zM1 47h1v1h-1zM4 47h1v1h-1zM7 48h2v1h-2zM23 48h1v1h-1zM12 49h1v1h-1zM26 50h1v1h-1zM32 50h1v1h-1zM3 51h1v1h-1zM13 51h1v1h-1zM19 51h3v1h-3zM27 51h1v1h-1zM30 51h1v1h-1zM39 51h1v1h-1zM41 51h1v1h-1zM46 51h1v1h-1zM32 52h1v1h-1zM34 52h1v1h-1zM40 52h1v1h-1z"/><path fill="#a2cde3" d="M0 8h1v1h-1zM2 12h1v1h-1zM3 14h1v1h-1zM3 16h1v1h-1zM1 18h1v1h-1zM3 18h1v1h-1zM7 22h1v1h-1zM7 25h1v1h-1zM2 26h2v1h-2zM3 27h1v1h-1zM14 29h1v1h-1zM16 29h1v1h-1zM23 30h1v1h-1zM6 32h1v1h-1zM16 32h1v1h-1zM25 33h1v1h-1zM27 33h1v1h-1zM25 34h1v1h-1zM13 35h2v1h-2zM19 36h1v1h-1zM21 37h1v1h-1zM26 37h1v1h-1zM13 38h1v1h-1zM19 39h1v1h-1zM23 39h1v1h-1zM26 39h1v1h-1zM20 40h1v1h-1zM23 40h1v1h-1zM27 40h1v1h-1zM10 41h1v1h-1zM20 41h1v1h-1zM17 43h1v1h-1zM20 43h1v1h-1zM27 43h1v1h-1zM13 44h1v1h-1zM15 44h1v1h-1zM20 44h1v1h-1zM27 44h1v1h-1zM10 45h1v1h-1zM27 45h1v1h-1zM10 48h1v1h-1zM14 48h1v1h-1zM17 48h1v1h-1zM9 52h1v1h-1zM26 52h1v1h-1zM44 52h1v1h-1z"/><path fill="#4393c3" d="M1 8h1v1h-1zM2 10h1v1h-1zM0 11h1v1h-1zM2 14h1v1h-1zM2 15h1v1h-1zM0 22h2v1h-2zM12 29h1v1h-1zM25 29h1v1h-1zM24 30h1v1h-1zM11 32h1v1h-1zM14 32h1v1h-1zM23 32h1v1h-1zM27 32h1v1h-1zM21 33h1v1h-1zM14 39h1v1h-1zM17 39h1v1h-1zM24 39h1v1h-1zM23 44h1v1h-1z"/><path fill="#dae9f2" d="M2 8h1v1h-1zM4 9h1v1h-1zM7 11h1v1h-1zM6 16h2v1h-2zM4 17h1v1h-1zM0 23h1v1h-1zM15 28h1v1h-1zM21 28h1v1h-1zM8 29h1v1h-1zM15 30h2v1h-2zM26 32h1v1h-1zM12 33h1v1h-1zM17 33h1v1h-1zM19 33h1v1h-1zM17 34h1v1h-1zM19 34h1v1h-1zM23 35h1v1h-1zM15 36h1v1h-1zM22 36h1v1h-1zM21 38h1v1h-1zM24 38h1v1h-1zM21 39h1v1h-1zM33 39h1v1h-1zM11 40h1v1h-1zM26 41h1v1h-1zM21 42h1v1h-1zM6 44h1v1h-1zM8 44h1v1h-1zM40 44h3v1h-3zM25 45h2v1h-2zM11 47h1v1h-1zM24 47h1v1h-1zM26 47h1v1h-1zM30 47h1v1h-1zM12 48h1v1h-1zM18 48h1v1h-1zM25 48h1v1h-1zM14 49h1v1h-1zM24 49h1v1h-1zM24 50h1v1h-1zM29 51h1v1h-1z"/><path fill="#2065ab" d="M3 8h1v1h-1zM4 25h1v1h-1zM21 29h2v1h-2zM10 52h1v1h-1zM22 52h1v1h-1z"/><path fill="#1a5899" d="M4 8h1v1h-1zM4 12h1v1h-1zM2 25h1v1h-1zM18 52h2v1h-2z"/><path fill="#c43b3c" d="M5 8h1v1h-1zM11 15h1v1h-1zM14 15h1v1h-1zM16 17h1v1h-1zM11 18h1v1h-1zM19 21h1v1h-1zM19 22h1v1h-1zM13 23h1v1h-1zM10 24h1v1h-1zM22 24h1v1h-1zM17 26h1v1h-1zM11 27h1v1h-1zM9 37h1v1h-1zM0 47h1v1h-1zM46 48h1v1h-1zM3 49h2v1h-2z"/><path fill="#cc4c44" d="M8 9h1v1h-1zM10 12h1v1h-1zM5 14h1v1h-1zM10 15h1v1h-1zM11 16h1v1h-1zM9 17h1v1h-1zM17 18h1v1h-1zM5 19h1v1h-1zM8 21h1v1h-1zM12 21h1v1h-1zM14 21h1v1h-1zM16 21h1v1h-1zM18 21h1v1h-1zM21 22h1v1h-1zM8 23h1v1h-1zM16 23h1v1h-1zM15 24h1v1h-1zM19 25h1v1h-1zM10 26h1v1h-1zM10 27h1v1h-1zM12 27h1v1h-1zM14 27h1v1h-1zM19 27h1v1h-1zM13 28h1v1h-1zM0 29h1v1h-1zM4 34h1v1h-1zM1 41h1v1h-1zM3 41h1v1h-1zM1 42h1v1h-1zM4 42h1v1h-1zM4 45h1v1h-1zM30 48h1v1h-1zM30 49h1v1h-1z"/><path fill="#e48066" d="M5 10h1v1h-1zM10 11h1v1h-1zM11 12h1v1h-1zM8 15h1v1h-1zM8 16h1v1h-1zM7 18h1v1h-1zM10 18h1v1h-1zM11 22h1v1h-1zM15 22h2v1h-2zM8 24h1v1h-1zM13 24h1v1h-1zM10 25h1v1h-1zM18 25h1v1h-1zM8 26h1v1h-1zM11 26h1v1h-1zM13 26h1v1h-1zM13 27h1v1h-1zM15 27h1v1h-1zM6 29h1v1h-1zM2 31h1v1h-1zM25 31h1v1h-1zM30 31h1v1h-1zM5 33h1v1h-1zM31 33h1v1h-1zM1 34h2v1h-2zM1 36h1v1h-1zM3 36h1v1h-1zM1 37h1v1h-1zM3 38h1v1h-1zM2 39h1v1h-1zM38 40h1v1h-1zM4 41h1v1h-1zM34 42h1v1h-1zM36 42h1v1h-1zM38 42h1v1h-1zM1 45h3v1h-3zM5 47h1v1h-1zM40 49h1v1h-1z"/><path fill="#c2ddec" d="M1 11h1v1h-1zM0 12h1v1h-1zM3 13h1v1h-1zM1 17h1v1h-1zM3 17h1v1h-1zM6 19h2v1h-2zM1 20h1v1h-1zM0 24h1v1h-1zM6 25h1v1h-1zM0 26h1v1h-1zM28 29h1v1h-1zM14 30h1v1h-1zM18 30h1v1h-1zM11 33h1v1h-1zM20 33h1v1h-1zM12 34h1v1h-1zM15 34h1v1h-1zM10 35h1v1h-1zM19 35h1v1h-1zM25 35h1v1h-1zM16 36h1v1h-1zM10 37h2v1h-2zM15 37h1v1h-1zM12 38h1v1h-1zM22 38h1v1h-1zM16 40h2v1h-2zM25 40h1v1h-1zM21 41h1v1h-1zM11 43h1v1h-1zM15 43h1v1h-1zM25 43h1v1h-1zM26 44h1v1h-1zM12 45h1v1h-1zM19 45h1v1h-1zM24 46h1v1h-1zM27 46h1v1h-1zM12 47h1v1h-1zM21 47h1v1h-1zM16 48h1v1h-1zM20 48h1v1h-1zM6 49h1v1h-1zM13 49h1v1h-1zM18 49h1v1h-1zM25 49h1v1h-1zM27 49h1v1h-1zM27 50h1v1h-1zM2 51h1v1h-1zM5 52h1v1h-1zM8 52h1v1h-1zM36 52h1v1h-1zM45 52h1v1h-1z"/><path fill="#6bacd1" d="M2 11h1v1h-1zM0 13h1v1h-1zM4 15h1v1h-1zM2 18h1v1h-1zM2 22h2v1h-2zM11 29h1v1h-1zM18 29h1v1h-1zM20 32h3v1h-3zM15 35h2v1h-2zM27 35h1v1h-1zM13 37h1v1h-1zM25 37h1v1h-1zM11 38h1v1h-1zM13 43h1v1h-1zM17 44h1v1h-1zM19 44h1v1h-1zM25 44h1v1h-1zM20 45h1v1h-1zM10 46h2v1h-2zM15 46h1v1h-1zM15 52h1v1h-1z"/><path fill="#7eb8d7" d="M3 11h1v1h-1zM3 12h1v1h-1zM0 14h1v1h-1zM3 19h1v1h-1zM2 21h1v1h-1zM4 22h1v1h-1zM4 23h1v1h-1zM2 24h1v1h-1zM0 27h1v1h-1zM23 29h1v1h-1zM27 29h1v1h-1zM19 30h1v1h-1zM22 30h1v1h-1zM12 32h1v1h-1zM11 35h1v1h-1zM17 36h2v1h-2zM20 36h1v1h-1zM13 39h1v1h-1zM18 39h1v1h-1zM20 39h1v1h-1zM22 40h1v1h-1zM11 41h1v1h-1zM10 43h1v1h-1zM12 43h1v1h-1zM19 43h1v1h-1zM22 43h2v1h-2zM14 44h1v1h-1zM24 45h1v1h-1zM12 46h1v1h-1zM16 46h1v1h-1zM24 48h1v1h-1zM10 49h1v1h-1zM13 50h1v1h-1zM21 50h1v1h-1zM31 51h1v1h-1zM7 52h1v1h-1z"/><path fill="#f6b394" d="M5 11h1v1h-1zM5 12h1v1h-1zM8 13h1v1h-1zM13 14h1v1h-1zM13 16h2v1h-2zM8 18h1v1h-1zM14 19h1v1h-1zM10 20h2v1h-2zM13 20h1v1h-1zM17 24h1v1h-1zM11 25h1v1h-1zM9 27h1v1h-1zM3 28h2v1h-2zM6 28h1v1h-1zM1 29h1v1h-1zM4 30h1v1h-1zM1 31h1v1h-1zM3 31h1v1h-1zM15 31h1v1h-1zM1 32h1v1h-1zM4 32h1v1h-1zM7 34h1v1h-1zM9 34h1v1h-1zM2 35h1v1h-1zM7 37h1v1h-1zM9 38h1v1h-1zM37 38h1v1h-1zM3 39h1v1h-1zM31 39h1v1h-1zM0 40h1v1h-1zM5 40h1v1h-1zM32 41h1v1h-1zM35 41h1v1h-1zM6 42h1v1h-1zM37 42h1v1h-1zM4 44h1v1h-1zM33 45h2v1h-2zM44 45h1v1h-1zM8 46h1v1h-1zM40 46h1v1h-1zM2 48h1v1h-1zM29 48h1v1h-1zM38 48h1v1h-1zM33 49h1v1h-1zM38 49h1v1h-1zM43 49h1v1h-1zM1 50h1v1h-1zM46 50h1v1h-1zM28 51h1v1h-1zM49 52h1v1h-1zM51 52h1v1h-1z"/><path fill="#327cb7" d="M1 12h1v1h-1zM1 14h1v1h-1zM4 21h1v1h-1zM17 29h1v1h-1zM10 30h1v1h-1zM10 39h1v1h-1zM18 43h1v1h-1zM16 52h2v1h-2zM20 52h1v1h-1z"/><path fill="#b1d5e7" d="M4 13h1v1h-1zM0 15h1v1h-1zM0 16h1v1h-1zM2 16h1v1h-1zM0 21h1v1h-1zM15 29h1v1h-1zM20 30h1v1h-1zM18 32h1v1h-1zM24 32h1v1h-1zM15 33h1v1h-1zM18 33h1v1h-1zM17 35h1v1h-1zM20 35h1v1h-1zM13 36h2v1h-2zM17 38h1v1h-1zM19 38h2v1h-2zM27 38h1v1h-1zM27 39h1v1h-1zM21 40h1v1h-1zM12 41h1v1h-1zM19 41h1v1h-1zM24 43h1v1h-1zM16 44h1v1h-1zM11 45h1v1h-1zM21 45h2v1h-2zM21 46h2v1h-2zM14 47h1v1h-1zM15 48h1v1h-1zM27 48h1v1h-1zM10 50h1v1h-1zM12 50h1v1h-1zM15 50h1v1h-1zM25 50h1v1h-1zM6 52h1v1h-1zM14 52h1v1h-1zM37 52h1v1h-1zM42 52h2v1h-2z"/><path fill="#dd7059" d="M5 13h1v1h-1zM8 14h1v1h-1zM10 14h1v1h-1zM9 15h1v1h-1zM14 18h1v1h-1zM13 19h1v1h-1zM17 19h1v1h-1zM5 20h1v1h-1zM8 22h1v1h-1zM12 22h1v1h-1zM14 22h1v1h-1zM9 23h1v1h-1zM9 24h1v1h-1zM14 24h1v1h-1zM19 24h1v1h-1zM14 25h1v1h-1zM17 25h1v1h-1zM16 27h1v1h-1zM2 29h1v1h-1zM5 34h1v1h-1zM28 34h1v1h-1zM4 36h2v1h-2zM3 37h1v1h-1zM36 38h1v1h-1zM1 39h1v1h-1zM3 40h1v1h-1zM0 41h1v1h-1zM40 42h1v1h-1zM8 45h1v1h-1zM1 46h1v1h-1zM3 48h1v1h-1zM28 49h1v1h-1zM34 49h1v1h-1zM29 52h1v1h-1z"/><path fill="#f3a481" d="M7 14h1v1h-1zM9 16h1v1h-1zM12 16h1v1h-1zM11 19h1v1h-1zM15 19h1v1h-1zM18 19h1v1h-1zM7 21h1v1h-1zM17 22h1v1h-1zM12 25h2v1h-2zM16 25h1v1h-1zM9 26h1v1h-1zM7 28h2v1h-2zM10 28h1v1h-1zM24 28h1v1h-1zM3 35h1v1h-1zM4 37h1v1h-1zM5 38h2v1h-2zM32 38h1v1h-1zM34 38h1v1h-1zM35 39h1v1h-1zM9 41h1v1h-1zM0 42h1v1h-1zM26 42h1v1h-1zM43 45h1v1h-1zM31 49h2v1h-2zM35 49h1v1h-1zM39 49h1v1h-1zM41 49h1v1h-1zM28 50h1v1h-1zM0 51h1v1h-1z"/><path fill="#b1182b" d="M5 15h1v1h-1zM15 17h1v1h-1zM5 18h1v1h-1zM5 23h1v1h-1zM10 23h1v1h-1zM14 23h1v1h-1zM21 24h1v1h-1zM24 25h1v1h-1zM15 26h1v1h-1zM18 27h1v1h-1zM4 33h1v1h-1zM4 35h1v1h-1zM3 42h1v1h-1zM7 46h1v1h-1z"/><path fill="#9f1228" d="M5 17h1v1h-1zM8 17h1v1h-1zM11 23h1v1h-1zM16 26h1v1h-1zM18 26h1v1h-1zM24 26h1v1h-1zM20 27h1v1h-1zM1 38h1v1h-1zM4 40h1v1h-1zM1 49h1v1h-1zM48 49h1v1h-1z"/><path fill="#67001f" d="M10 17h1v1h-1zM13 17h2v1h-2zM5 21h1v1h-1zM11 21h1v1h-1zM13 21h1v1h-1zM12 23h1v1h-1zM19 23h2v1h-2zM22 23h1v1h-1zM23 24h1v1h-1zM5 25h1v1h-1zM20 25h1v1h-1zM20 26h4v1h-4zM21 27h2v1h-2zM24 27h1v1h-1z"/><path fill="#ba2832" d="M12 17h1v1h-1zM13 18h1v1h-1zM15 21h1v1h-1zM15 23h1v1h-1zM18 23h1v1h-1zM11 24h1v1h-1zM19 26h1v1h-1zM5 27h1v1h-1zM17 27h1v1h-1zM29 38h1v1h-1zM33 41h1v1h-1zM0 45h1v1h-1zM47 48h1v1h-1zM2 49h1v1h-1z"/><path fill="#8a0b25" d="M12 18h1v1h-1zM10 21h1v1h-1zM17 23h1v1h-1zM5 24h1v1h-1zM20 24h1v1h-1zM22 25h1v1h-1zM5 26h1v1h-1zM25 27h1v1h-1zM5 37h1v1h-1zM46 49h2v1h-2z"/><path fill="#0c3d73" d="M1 25h1v1h-1zM25 52h1v1h-1z"/><path fill="#124984" d="M3 25h1v1h-1z"/></g><g id="U3"><path fill="#c43b3c" d="M1 0h4v1h-4zM2 1h3v1h-3zM3 2h2v1h-2zM4 3h1v1h-1z"/><path fill="#c2ddec" d="M5 0h5v1h-5zM5 1h5v1h-5zM5 2h5v1h-5zM5 3h5v1h-5zM5 4h5v1h-5zM42 20h4v1h-4zM42 21h4v1h-4zM42 22h4v1h-4zM42 23h4v1h-4zM42 24h4v1h-4zM42 25h4v1h-4zM42 26h4v1h-4zM42 27h4v1h-4z"/><path fill="#7eb8d7" d="M10 0h10v1h-10zM10 1h10v1h-10zM10 2h10v1h-10zM10 3h10v1h-10zM10 4h10v1h-10z"/><path fill="#6bacd1" d="M20 0h8v1h-8zM20 1h8v1h-8zM20 2h8v1h-8zM20 3h8v1h-8zM20 4h8v1h-8z"/><path fill="#fbccb4" d="M28 0h14v1h-14zM28 1h14v1h-14zM28 2h14v1h-14zM28 3h14v1h-14zM28 4h14v1h-14z"/><path fill="#f8bfa4" d="M42 0h4v1h-4zM42 1h4v1h-4zM42 2h4v1h-4zM42 3h4v1h-4zM42 4h4v1h-4z"/><path fill="#ec9374" d="M46 0h7v1h-7zM46 1h7v1h-7zM46 2h7v1h-7zM46 3h7v1h-7zM46 4h7v1h-7zM6 5h4v1h-4zM7 6h3v1h-3zM8 7h2v1h-2zM9 8h1v1h-1zM11 10h17v1h-17zM12 11h16v1h-16zM13 12h15v1h-15zM14 13h14v1h-14zM15 14h13v1h-13zM16 15h12v1h-12zM17 16h11v1h-11zM18 17h10v1h-10zM19 18h9v1h-9zM20 19h8v1h-8z"/><path fill="#fddbc7" d="M10 5h18v1h-18zM10 6h18v1h-18zM10 7h18v1h-18zM10 8h18v1h-18zM10 9h18v1h-18zM29 28h13v1h-13zM46 28h7v1h-7zM30 29h12v1h-12zM46 29h7v1h-7zM31 30h11v1h-11zM46 30h7v1h-7zM32 31h10v1h-10zM46 31h7v1h-7zM33 32h9v1h-9zM46 32h7v1h-7zM34 33h8v1h-8zM46 33h7v1h-7zM35 34h7v1h-7zM46 34h7v1h-7zM36 35h6v1h-6zM46 35h7v1h-7zM37 36h5v1h-5zM46 36h7v1h-7zM38 37h4v1h-4zM46 37h7v1h-7zM39 38h3v1h-3zM46 38h7v1h-7zM40 39h2v1h-2zM46 39h7v1h-7zM41 40h1v1h-1zM46 40h7v1h-7zM46 41h7v1h-7z"/><path fill="#d1e5f0" d="M28 5h14v1h-14zM46 5h7v1h-7zM28 6h14v1h-14zM46 6h7v1h-7zM28 7h14v1h-14zM46 7h7v1h-7zM28 8h14v1h-14zM46 8h7v1h-7zM28 9h14v1h-14zM46 9h7v1h-7zM42 10h4v1h-4zM42 11h4v1h-4zM42 12h4v1h-4zM42 13h4v1h-4zM42 14h4v1h-4zM42 15h4v1h-4zM42 16h4v1h-4zM42 17h4v1h-4zM42 18h4v1h-4zM42 19h4v1h-4z"/><path fill="#dae9f2" d="M42 5h4v1h-4zM42 6h4v1h-4zM42 7h4v1h-4zM42 8h4v1h-4zM42 9h4v1h-4z"/><path fill="#b1d5e7" d="M28 10h14v1h-14zM46 10h7v1h-7zM28 11h14v1h-14zM46 11h7v1h-7zM28 12h14v1h-14zM46 12h7v1h-7zM28 13h14v1h-14zM46 13h7v1h-7zM28 14h14v1h-14zM46 14h7v1h-7zM28 15h14v1h-14zM46 15h7v1h-7zM28 16h14v1h-14zM46 16h7v1h-7zM28 17h14v1h-14zM46 17h7v1h-7zM28 18h14v1h-14zM46 18h7v1h-7zM28 19h14v1h-14zM46 19h7v1h-7zM28 20h14v1h-14zM46 20h7v1h-7zM28 21h14v1h-14zM46 21h7v1h-7zM28 22h14v1h-14zM46 22h7v1h-7zM28 23h14v1h-14zM46 23h7v1h-7zM28 24h14v1h-14zM46 24h7v1h-7zM28 25h14v1h-14zM46 25h7v1h-7zM28 26h14v1h-14zM46 26h7v1h-7zM28 27h14v1h-14zM46 27h7v1h-7z"/><path fill="#8a0b25" d="M21 20h7v1h-7zM22 21h6v1h-6zM23 22h5v1h-5zM24 23h4v1h-4zM25 24h3v1h-3zM26 25h2v1h-2zM27 26h1v1h-1z"/><path fill="#fae9df" d="M42 28h4v1h-4zM42 29h4v1h-4zM42 30h4v1h-4zM42 31h4v1h-4zM42 32h4v1h-4zM42 33h4v1h-4zM42 34h4v1h-4zM42 35h4v1h-4zM42 36h4v1h-4zM42 37h4v1h-4zM42 38h4v1h-4zM42 39h4v1h-4zM42 40h4v1h-4zM42 41h4v1h-4zM43 42h10v1h-10zM44 43h9v1h-9zM45 44h8v1h-8zM46 45h7v1h-7z"/><path fill="#cc4c44" d="M47 46h6v1h-6zM48 47h5v1h-5zM49 48h4v1h-4zM50 49h3v1h-3zM51 50h2v1h-2zM52 51h1v1h-1z"/></g><g id="L4"><path fill="#f8bfa4" d="M0 1h1v1h-1zM6 7h1v1h-1zM3 8h1v1h-1zM11 15h1v1h-1zM15 16h1v1h-1zM16 25h1v1h-1zM6 34h1v1h-1zM22 34h1v1h-1zM5 36h1v1h-1zM9 37h1v1h-1zM28 37h1v1h-1zM36 39h1v1h-1zM38 39h1v1h-1zM4 40h1v1h-1zM9 41h1v1h-1zM11 42h1v1h-1zM5 43h1v1h-1zM19 43h1v1h-1zM33 43h1v1h-1zM24 45h1v1h-1zM15 46h1v1h-1zM32 46h1v1h-1zM37 46h1v1h-1zM39 46h1v1h-1zM1 47h1v1h-1zM42 47h1v1h-1zM5 48h1v1h-1zM19 49h1v1h-1zM44 49h1v1h-1zM17 51h1v1h-1zM47 51h1v1h-1zM32 52h1v1h-1z"/><path fill="#e48066" d="M0 2h2v1h-2zM5 9h1v1h-1zM10 14h1v1h-1zM10 15h1v1h-1zM10 16h1v1h-1zM20 22h1v1h-1zM20 24h1v1h-1zM23 24h1v1h-1zM16 26h1v1h-1zM25 26h1v1h-1zM20 29h1v1h-1zM28 32h1v1h-1zM20 34h1v1h-1zM30 35h1v1h-1zM33 37h1v1h-1zM3 39h2v1h-2zM28 39h1v1h-1zM33 39h1v1h-1zM34 44h1v1h-1zM0 48h1v1h-1zM48 50h1v1h-1zM46 52h1v1h-1zM49 52h1v1h-1z"/><path fill="#e4eef4" d="M0 3h1v1h-1zM1 5h1v1h-1zM4 5h1v1h-1zM5 7h1v1h-1zM2 9h1v1h-1zM4 10h1v1h-1zM0 11h1v1h-1zM2 12h1v1h-1zM4 12h1v1h-1zM2 14h1v1h-1zM4 15h1v1h-1zM6 16h1v1h-1zM2 19h1v1h-1zM4 19h1v1h-1zM13 20h1v1h-1zM9 21h1v1h-1zM11 21h1v1h-1zM17 21h1v1h-1zM19 21h1v1h-1zM15 22h2v1h-2zM19 22h1v1h-1zM3 23h1v1h-1zM19 23h1v1h-1zM21 23h2v1h-2zM0 24h1v1h-1zM3 24h1v1h-1zM5 24h1v1h-1zM17 24h2v1h-2zM17 25h1v1h-1zM9 26h1v1h-1zM0 28h1v1h-1zM5 28h1v1h-1zM8 28h1v1h-1zM14 28h1v1h-1zM7 29h1v1h-1zM0 30h1v1h-1zM10 30h1v1h-1zM12 30h1v1h-1zM23 30h1v1h-1zM6 31h1v1h-1zM27 31h1v1h-1zM30 31h1v1h-1zM1 33h1v1h-1zM10 33h1v1h-1zM2 34h1v1h-1zM5 34h1v1h-1zM7 34h1v1h-1zM10 34h1v1h-1zM13 34h1v1h-1zM23 34h1v1h-1zM26 34h1v1h-1zM7 35h1v1h-1zM22 35h1v1h-1zM26 35h1v1h-1zM19 36h1v1h-1zM8 37h1v1h-1zM16 37h1v1h-1zM25 37h1v1h-1zM35 38h1v1h-1zM6 39h1v1h-1zM9 39h1v1h-1zM14 39h1v1h-1zM20 39h1v1h-1zM23 39h1v1h-1zM25 39h1v1h-1zM5 40h1v1h-1zM8 40h1v1h-1zM11 40h1v1h-1zM15 40h1v1h-1zM27 40h1v1h-1zM36 40h1v1h-1zM2 41h1v1h-1zM5 41h1v1h-1zM7 41h1v1h-1zM16 41h1v1h-1zM20 41h1v1h-1zM27 41h1v1h-1zM2 42h1v1h-1zM27 42h1v1h-1zM1 43h1v1h-1zM17 43h1v1h-1zM31 43h2v1h-2zM37 43h1v1h-1zM1 44h1v1h-1zM7 44h2v1h-2zM10 44h1v1h-1zM36 44h2v1h-2zM39 44h1v1h-1zM5 45h1v1h-1zM9 45h1v1h-1zM14 45h1v1h-1zM29 45h2v1h-2zM34 45h2v1h-2zM0 46h1v1h-1zM9 46h1v1h-1zM17 46h1v1h-1zM19 46h1v1h-1zM26 46h1v1h-1zM35 46h1v1h-1zM3 47h1v1h-1zM16 47h1v1h-1zM19 47h1v1h-1zM25 47h1v1h-1zM27 47h1v1h-1zM32 47h2v1h-2zM41 47h1v1h-1zM14 48h1v1h-1zM19 48h1v1h-1zM3 49h1v1h-1zM29 49h1v1h-1zM37 49h1v1h-1zM40 49h1v1h-1zM4 50h5v1h-5zM10 50h2v1h-2zM17 50h1v1h-1zM28 50h2v1h-2zM33 50h1v1h-1zM38 50h1v1h-1zM41 50h1v1h-1zM4 51h1v1h-1zM8 51h1v1h-1zM19 51h1v1h-1zM23 51h2v1h-2zM31 51h1v1h-1zM44 51h1v1h-1zM15 52h1v1h-1zM18 52h1v1h-1zM20 52h1v1h-1zM31 52h1v1h-1zM33 52h1v1h-1zM38 52h2v1h-2z"/><path fill="#d1e5f0" d="M1 3h1v1h-1zM0 5h1v1h-1zM4 6h1v1h-1zM0 7h2v1h-2zM3 10h1v1h-1zM8 12h1v1h-1zM7 18h1v1h-1zM8 19h1v1h-1zM6 20h1v1h-1zM12 21h2v1h-2zM1 22h1v1h-1zM4 22h1v1h-1zM0 23h2v1h-2zM10 23h1v1h-1zM3 26h1v1h-1zM1 27h1v1h-1zM14 27h1v1h-1zM16 27h3v1h-3zM4 28h1v1h-1zM3 30h1v1h-1zM7 30h2v1h-2zM20 30h1v1h-1zM7 31h1v1h-1zM3 33h1v1h-1zM5 33h1v1h-1zM22 33h1v1h-1zM11 34h1v1h-1zM16 34h1v1h-1zM1 35h2v1h-2zM16 35h1v1h-1zM19 35h1v1h-1zM24 35h1v1h-1zM27 35h1v1h-1zM17 37h1v1h-1zM5 38h1v1h-1zM19 38h1v1h-1zM33 38h1v1h-1zM16 39h1v1h-1zM9 40h1v1h-1zM20 40h1v1h-1zM22 40h1v1h-1zM29 40h2v1h-2zM10 41h1v1h-1zM19 41h1v1h-1zM24 41h1v1h-1zM26 41h1v1h-1zM20 43h1v1h-1zM25 43h1v1h-1zM12 44h1v1h-1zM21 44h1v1h-1zM26 44h1v1h-1zM8 45h1v1h-1zM12 46h1v1h-1zM10 47h1v1h-1zM13 47h1v1h-1zM15 47h1v1h-1zM21 47h1v1h-1zM31 47h1v1h-1zM35 47h1v1h-1zM10 48h1v1h-1zM13 48h1v1h-1zM25 48h1v1h-1zM28 48h1v1h-1zM33 48h1v1h-1zM41 48h1v1h-1zM1 49h1v1h-1zM14 49h1v1h-1zM18 49h1v1h-1zM41 49h1v1h-1zM12 50h2v1h-2zM21 50h1v1h-1zM25 50h1v1h-1zM42 50h1v1h-1zM27 51h1v1h-1zM32 51h1v1h-1zM0 52h1v1h-1zM9 52h1v1h-1zM14 52h1v1h-1zM19 52h1v1h-1zM25 52h1v1h-1zM30 52h1v1h-1zM40 52h1v1h-1zM43 52h1v1h-1z"/><path fill="#f7f6f6" d="M2 3h1v1h-1zM0 8h2v1h-2zM1 14h1v1h-1zM1 15h1v1h-1zM4 17h1v1h-1zM0 18h1v1h-1zM5 18h2v1h-2zM14 18h1v1h-1zM3 19h1v1h-1zM10 20h1v1h-1zM17 20h1v1h-1zM19 20h1v1h-1zM16 21h1v1h-1zM12 22h1v1h-1zM17 22h1v1h-1zM4 23h1v1h-1zM6 23h2v1h-2zM14 23h2v1h-2zM20 23h1v1h-1zM13 24h1v1h-1zM15 24h1v1h-1zM19 24h1v1h-1zM6 25h1v1h-1zM22 25h1v1h-1zM5 26h1v1h-1zM19 27h1v1h-1zM19 28h1v1h-1zM0 29h1v1h-1zM3 29h1v1h-1zM8 29h3v1h-3zM12 29h1v1h-1zM16 29h1v1h-1zM21 29h1v1h-1zM5 30h1v1h-1zM13 30h2v1h-2zM28 30h2v1h-2zM1 31h1v1h-1zM10 31h1v1h-1zM12 31h1v1h-1zM14 31h1v1h-1zM21 31h1v1h-1zM6 32h1v1h-1zM11 32h1v1h-1zM13 32h1v1h-1zM18 32h1v1h-1zM26 32h2v1h-2zM0 33h1v1h-1zM6 33h1v1h-1zM13 33h1v1h-1zM30 33h1v1h-1zM4 34h1v1h-1zM8 34h1v1h-1zM19 34h1v1h-1zM33 34h1v1h-1zM2 36h1v1h-1zM0 37h1v1h-1zM24 37h1v1h-1zM30 37h1v1h-1zM1 38h1v1h-1zM20 38h1v1h-1zM22 38h1v1h-1zM29 38h1v1h-1zM32 38h1v1h-1zM7 39h1v1h-1zM15 39h1v1h-1zM24 39h1v1h-1zM3 40h1v1h-1zM6 40h1v1h-1zM12 41h1v1h-1zM38 41h1v1h-1zM4 42h1v1h-1zM7 42h1v1h-1zM12 42h1v1h-1zM21 42h1v1h-1zM25 42h1v1h-1zM28 42h1v1h-1zM34 42h1v1h-1zM40 42h2v1h-2zM0 43h1v1h-1zM8 43h1v1h-1zM16 43h1v1h-1zM21 43h1v1h-1zM28 43h1v1h-1zM2 44h1v1h-1zM9 44h1v1h-1zM14 44h3v1h-3zM24 44h1v1h-1zM28 44h1v1h-1zM40 44h1v1h-1zM15 45h1v1h-1zM40 45h1v1h-1zM1 46h2v1h-2zM11 46h1v1h-1zM13 46h1v1h-1zM21 46h1v1h-1zM28 46h1v1h-1zM31 46h1v1h-1zM43 46h2v1h-2zM23 47h1v1h-1zM8 48h1v1h-1zM20 48h1v1h-1zM32 48h1v1h-1zM34 48h1v1h-1zM36 48h1v1h-1zM44 48h1v1h-1zM4 49h1v1h-1zM6 49h1v1h-1zM8 49h1v1h-1zM15 49h1v1h-1zM26 49h1v1h-1zM33 49h2v1h-2zM2 50h1v1h-1zM20 50h1v1h-1zM35 50h1v1h-1zM40 50h1v1h-1zM5 51h2v1h-2zM16 51h1v1h-1zM25 51h1v1h-1zM43 51h1v1h-1zM46 51h1v1h-1zM3 52h1v1h-1zM8 52h1v1h-1zM17 52h1v1h-1z"/><path fill="#fddbc7" d="M0 4h1v1h-1zM3 4h1v1h-1zM0 17h1v1h-1zM15 17h1v1h-1zM3 18h1v1h-1zM0 19h1v1h-1zM20 21h1v1h-1zM12 25h1v1h-1zM8 26h1v1h-1zM13 26h1v1h-1zM15 29h1v1h-1zM2 30h1v1h-1zM22 30h1v1h-1zM20 32h1v1h-1zM22 32h1v1h-1zM29 32h2v1h-2zM31 35h1v1h-1zM11 36h2v1h-2zM16 36h1v1h-1zM20 36h2v1h-2zM25 36h1v1h-1zM29 36h1v1h-1zM31 36h3v1h-3zM5 37h1v1h-1zM7 37h1v1h-1zM15 37h1v1h-1zM27 37h1v1h-1zM31 37h1v1h-1zM35 37h1v1h-1zM6 38h1v1h-1zM35 39h1v1h-1zM39 40h1v1h-1zM31 41h2v1h-2zM35 41h1v1h-1zM8 42h2v1h-2zM17 42h2v1h-2zM20 42h1v1h-1zM36 42h1v1h-1zM3 43h1v1h-1zM36 43h1v1h-1zM40 43h1v1h-1zM28 45h1v1h-1zM5 47h1v1h-1zM24 47h1v1h-1zM45 47h1v1h-1zM24 48h1v1h-1zM21 51h2v1h-2zM36 51h1v1h-1z"/><path fill="#cc4c44" d="M1 4h1v1h-1zM12 16h1v1h-1zM21 22h1v1h-1zM11 25h1v1h-1zM17 29h1v1h-1zM34 36h1v1h-1zM38 40h1v1h-1zM47 48h1v1h-1z"/><path fill="#fce2d2" d="M2 4h1v1h-1zM2 5h1v1h-1zM11 18h1v1h-1zM2 22h1v1h-1zM17 23h1v1h-1zM2 24h1v1h-1zM6 24h1v1h-1zM5 25h1v1h-1zM10 26h2v1h-2zM14 26h2v1h-2zM16 28h1v1h-1zM18 29h1v1h-1zM28 29h1v1h-1zM24 30h1v1h-1zM19 31h2v1h-2zM22 31h1v1h-1zM29 31h1v1h-1zM19 32h1v1h-1zM21 32h1v1h-1zM0 34h1v1h-1zM18 34h1v1h-1zM30 34h1v1h-1zM3 35h1v1h-1zM0 36h1v1h-1zM14 36h1v1h-1zM22 36h1v1h-1zM28 36h1v1h-1zM6 37h1v1h-1zM36 37h1v1h-1zM9 38h1v1h-1zM31 38h1v1h-1zM11 39h1v1h-1zM34 39h1v1h-1zM21 40h1v1h-1zM34 40h1v1h-1zM4 41h1v1h-1zM14 41h1v1h-1zM33 41h1v1h-1zM37 41h1v1h-1zM39 41h1v1h-1zM23 42h1v1h-1zM29 42h1v1h-1zM37 42h2v1h-2zM42 43h1v1h-1zM33 44h1v1h-1zM42 44h2v1h-2zM27 45h1v1h-1zM5 46h1v1h-1zM14 46h1v1h-1zM30 46h1v1h-1zM8 47h1v1h-1zM38 47h1v1h-1zM4 48h1v1h-1zM35 49h1v1h-1zM48 51h1v1h-1zM50 51h1v1h-1zM4 52h1v1h-1z"/><path fill="#f6b394" d="M3 5h1v1h-1zM4 11h1v1h-1zM13 15h1v1h-1zM17 18h1v1h-1zM13 23h1v1h-1zM22 24h1v1h-1zM4 30h1v1h-1zM17 30h1v1h-1zM31 33h1v1h-1zM9 34h1v1h-1zM6 36h1v1h-1zM26 36h1v1h-1zM23 37h1v1h-1zM34 37h1v1h-1zM29 43h1v1h-1zM27 46h1v1h-1zM40 46h1v1h-1zM42 48h1v1h-1zM20 49h1v1h-1zM9 50h1v1h-1zM27 50h1v1h-1zM37 50h1v1h-1z"/><path fill="#f9f0eb" d="M0 6h2v1h-2zM0 9h1v1h-1zM3 9h1v1h-1zM7 13h1v1h-1zM1 18h1v1h-1zM0 20h1v1h-1zM12 20h1v1h-1zM7 24h1v1h-1zM0 25h1v1h-1zM14 25h1v1h-1zM22 27h1v1h-1zM10 28h1v1h-1zM18 28h1v1h-1zM20 28h1v1h-1zM24 28h1v1h-1zM2 29h1v1h-1zM5 29h1v1h-1zM11 29h1v1h-1zM14 29h1v1h-1zM27 29h1v1h-1zM6 30h1v1h-1zM15 31h1v1h-1zM18 31h1v1h-1zM23 31h1v1h-1zM1 32h3v1h-3zM8 32h1v1h-1zM29 33h1v1h-1zM29 34h1v1h-1zM31 34h2v1h-2zM28 35h1v1h-1zM32 35h2v1h-2zM9 36h2v1h-2zM13 36h1v1h-1zM17 36h1v1h-1zM30 36h1v1h-1zM2 37h1v1h-1zM4 37h1v1h-1zM10 37h1v1h-1zM22 37h1v1h-1zM26 37h1v1h-1zM29 37h1v1h-1zM14 38h1v1h-1zM34 38h1v1h-1zM2 39h1v1h-1zM5 39h1v1h-1zM10 39h1v1h-1zM13 39h1v1h-1zM18 39h2v1h-2zM22 39h1v1h-1zM27 39h1v1h-1zM29 39h3v1h-3zM28 40h1v1h-1zM33 40h1v1h-1zM3 41h1v1h-1zM13 41h1v1h-1zM15 41h1v1h-1zM22 41h1v1h-1zM28 41h1v1h-1zM1 42h1v1h-1zM6 42h1v1h-1zM15 42h1v1h-1zM26 42h1v1h-1zM32 42h2v1h-2zM4 43h1v1h-1zM34 43h1v1h-1zM41 43h1v1h-1zM0 44h1v1h-1zM3 44h1v1h-1zM6 44h1v1h-1zM23 44h1v1h-1zM29 44h1v1h-1zM31 44h1v1h-1zM0 45h1v1h-1zM31 45h1v1h-1zM6 46h1v1h-1zM8 46h1v1h-1zM29 46h1v1h-1zM41 46h1v1h-1zM45 46h1v1h-1zM2 47h1v1h-1zM17 47h1v1h-1zM40 47h1v1h-1zM43 47h2v1h-2zM9 48h1v1h-1zM22 48h1v1h-1zM39 48h1v1h-1zM43 48h1v1h-1zM0 49h1v1h-1zM23 49h3v1h-3zM32 49h1v1h-1zM36 49h1v1h-1zM43 49h1v1h-1zM45 49h1v1h-1zM1 50h1v1h-1zM39 50h1v1h-1zM44 50h1v1h-1zM2 51h1v1h-1zM34 51h1v1h-1zM42 51h1v1h-1zM49 51h1v1h-1zM5 52h1v1h-1zM23 52h1v1h-1z"/><path fill="#dae9f2" d="M2 6h1v1h-1zM3 7h1v1h-1zM2 8h1v1h-1zM1 10h1v1h-1zM0 12h1v1h-1zM0 13h1v1h-1zM2 13h1v1h-1zM0 14h1v1h-1zM0 15h1v1h-1zM2 15h2v1h-2zM1 16h1v1h-1zM16 18h1v1h-1zM7 20h1v1h-1zM0 21h1v1h-1zM2 21h1v1h-1zM6 21h1v1h-1zM11 22h1v1h-1zM14 22h1v1h-1zM18 22h1v1h-1zM16 23h1v1h-1zM18 23h1v1h-1zM4 24h1v1h-1zM12 24h1v1h-1zM1 25h1v1h-1zM8 25h2v1h-2zM0 26h1v1h-1zM4 26h1v1h-1zM7 26h1v1h-1zM0 27h1v1h-1zM10 27h1v1h-1zM13 27h1v1h-1zM11 28h1v1h-1zM26 28h1v1h-1zM25 29h2v1h-2zM11 31h1v1h-1zM24 31h1v1h-1zM28 31h1v1h-1zM14 32h1v1h-1zM15 33h1v1h-1zM17 33h2v1h-2zM24 33h2v1h-2zM27 34h1v1h-1zM0 35h1v1h-1zM6 35h1v1h-1zM11 35h1v1h-1zM14 35h2v1h-2zM3 36h1v1h-1zM3 38h1v1h-1zM15 38h2v1h-2zM28 38h1v1h-1zM1 40h1v1h-1zM13 40h1v1h-1zM16 40h2v1h-2zM31 40h1v1h-1zM0 41h1v1h-1zM6 41h1v1h-1zM18 41h1v1h-1zM21 41h1v1h-1zM23 41h1v1h-1zM7 43h1v1h-1zM9 43h3v1h-3zM27 43h1v1h-1zM39 43h1v1h-1zM35 44h1v1h-1zM41 44h1v1h-1zM4 45h1v1h-1zM13 45h1v1h-1zM33 45h1v1h-1zM39 45h1v1h-1zM42 45h1v1h-1zM44 45h1v1h-1zM20 46h1v1h-1zM33 46h1v1h-1zM29 47h2v1h-2zM6 48h1v1h-1zM15 48h2v1h-2zM29 48h3v1h-3zM2 49h1v1h-1zM7 49h1v1h-1zM16 49h2v1h-2zM15 50h1v1h-1zM30 50h2v1h-2zM0 51h1v1h-1zM11 51h1v1h-1zM13 51h1v1h-1zM26 51h1v1h-1zM28 51h1v1h-1zM30 51h1v1h-1zM33 51h1v1h-1zM35 51h1v1h-1zM7 52h1v1h-1zM27 52h1v1h-1zM29 52h1v1h-1zM37 52h1v1h-1zM41 52h1v1h-1z"/><path fill="#a2cde3" d="M3 6h1v1h-1zM9 10h1v1h-1zM7 12h1v1h-1zM9 12h1v1h-1zM4 13h1v1h-1zM5 17h1v1h-1zM7 17h1v1h-1zM6 19h1v1h-1zM8 22h1v1h-1zM2 25h1v1h-1zM3 27h1v1h-1zM6 27h1v1h-1zM21 28h1v1h-1zM23 28h1v1h-1zM27 30h1v1h-1zM25 31h1v1h-1zM27 33h1v1h-1zM13 35h1v1h-1zM21 35h1v1h-1zM14 43h1v1h-1zM24 43h1v1h-1zM19 44h1v1h-1zM1 45h1v1h-1zM10 45h1v1h-1zM17 45h1v1h-1zM19 45h1v1h-1zM26 45h1v1h-1zM43 45h1v1h-1zM28 47h1v1h-1zM11 49h1v1h-1zM3 50h1v1h-1zM14 50h1v1h-1zM19 50h1v1h-1z"/><path fill="#ec9374" d="M5 6h1v1h-1zM11 12h1v1h-1zM12 13h1v1h-1zM13 17h1v1h-1zM16 24h1v1h-1zM20 25h1v1h-1zM20 27h1v1h-1zM10 32h1v1h-1zM1 36h1v1h-1zM35 36h1v1h-1zM28 49h1v1h-1zM49 50h1v1h-1zM48 52h1v1h-1z"/><path fill="#c2ddec" d="M2 7h1v1h-1zM0 10h1v1h-1zM2 10h1v1h-1zM6 12h1v1h-1zM1 13h1v1h-1zM6 14h1v1h-1zM3 16h1v1h-1zM2 17h1v1h-1zM6 17h1v1h-1zM9 18h1v1h-1zM15 18h1v1h-1zM2 20h1v1h-1zM5 20h1v1h-1zM11 20h1v1h-1zM14 20h1v1h-1zM1 21h1v1h-1zM5 22h1v1h-1zM9 23h1v1h-1zM12 23h1v1h-1zM3 25h1v1h-1zM2 27h1v1h-1zM15 27h1v1h-1zM1 28h1v1h-1zM3 28h1v1h-1zM6 28h1v1h-1zM22 28h1v1h-1zM25 28h1v1h-1zM27 28h1v1h-1zM11 30h1v1h-1zM21 30h1v1h-1zM25 30h1v1h-1zM8 31h1v1h-1zM23 33h1v1h-1zM4 35h2v1h-2zM18 35h1v1h-1zM20 35h1v1h-1zM23 35h1v1h-1zM18 37h2v1h-2zM4 38h1v1h-1zM8 38h1v1h-1zM17 38h2v1h-2zM21 38h1v1h-1zM37 38h1v1h-1zM21 39h1v1h-1zM7 40h1v1h-1zM18 40h1v1h-1zM24 40h1v1h-1zM26 40h1v1h-1zM8 41h1v1h-1zM2 43h1v1h-1zM12 43h1v1h-1zM22 43h1v1h-1zM26 43h1v1h-1zM11 44h1v1h-1zM17 44h1v1h-1zM27 44h1v1h-1zM12 45h1v1h-1zM18 45h1v1h-1zM20 45h1v1h-1zM22 45h2v1h-2zM38 45h1v1h-1zM41 45h1v1h-1zM7 47h1v1h-1zM11 47h1v1h-1zM14 47h1v1h-1zM18 47h1v1h-1zM34 47h1v1h-1zM1 48h1v1h-1zM17 48h1v1h-1zM40 48h1v1h-1zM12 49h1v1h-1zM31 49h1v1h-1zM34 50h1v1h-1zM1 51h1v1h-1zM12 51h1v1h-1zM14 51h1v1h-1zM20 51h1v1h-1zM29 51h1v1h-1zM38 51h1v1h-1zM1 52h1v1h-1zM11 52h1v1h-1zM22 52h1v1h-1zM34 52h1v1h-1zM44 52h1v1h-1z"/><path fill="#b1d5e7" d="M4 7h1v1h-1zM8 10h1v1h-1zM3 13h1v1h-1zM6 13h1v1h-1zM0 16h1v1h-1zM2 16h1v1h-1zM8 16h1v1h-1zM5 19h1v1h-1zM9 19h1v1h-1zM1 20h1v1h-1zM3 20h2v1h-2zM15 20h1v1h-1zM18 21h1v1h-1zM6 22h2v1h-2zM9 22h1v1h-1zM11 23h1v1h-1zM4 27h1v1h-1zM7 27h1v1h-1zM11 27h1v1h-1zM2 28h1v1h-1zM9 28h1v1h-1zM24 29h1v1h-1zM4 33h1v1h-1zM10 38h1v1h-1zM12 38h1v1h-1zM36 38h1v1h-1zM12 40h1v1h-1zM13 43h1v1h-1zM15 43h1v1h-1zM23 43h1v1h-1zM18 44h1v1h-1zM2 45h1v1h-1zM16 45h1v1h-1zM21 45h1v1h-1zM25 45h1v1h-1zM16 46h1v1h-1zM0 47h1v1h-1zM12 47h1v1h-1zM20 47h1v1h-1zM2 48h2v1h-2zM26 48h2v1h-2zM10 49h1v1h-1zM16 50h1v1h-1zM18 50h1v1h-1zM23 50h1v1h-1zM32 50h1v1h-1zM40 51h1v1h-1zM2 52h1v1h-1zM12 52h2v1h-2zM26 52h1v1h-1zM35 52h1v1h-1zM45 52h1v1h-1z"/><path fill="#edf2f5" d="M4 8h1v1h-1zM4 9h1v1h-1zM1 11h3v1h-3zM1 12h1v1h-1zM3 12h1v1h-1zM5 13h1v1h-1zM1 17h1v1h-1zM8 18h1v1h-1zM10 18h1v1h-1zM13 18h1v1h-1zM1 19h1v1h-1zM8 20h2v1h-2zM18 20h1v1h-1zM7 21h2v1h-2zM14 21h1v1h-1zM0 22h1v1h-1zM3 22h1v1h-1zM2 23h1v1h-1zM5 23h1v1h-1zM1 24h1v1h-1zM8 24h1v1h-1zM11 24h1v1h-1zM14 24h1v1h-1zM18 25h2v1h-2zM6 26h1v1h-1zM12 27h1v1h-1zM7 28h1v1h-1zM12 28h2v1h-2zM15 28h1v1h-1zM4 29h1v1h-1zM6 29h1v1h-1zM13 29h1v1h-1zM23 29h1v1h-1zM1 30h1v1h-1zM9 30h1v1h-1zM16 30h1v1h-1zM19 30h1v1h-1zM0 31h1v1h-1zM2 31h4v1h-4zM9 31h1v1h-1zM16 31h1v1h-1zM4 32h2v1h-2zM7 32h1v1h-1zM9 32h1v1h-1zM12 32h1v1h-1zM15 32h2v1h-2zM23 32h2v1h-2zM2 33h1v1h-1zM7 33h1v1h-1zM9 33h1v1h-1zM12 33h1v1h-1zM16 33h1v1h-1zM19 33h1v1h-1zM3 34h1v1h-1zM12 34h1v1h-1zM15 34h1v1h-1zM25 34h1v1h-1zM8 35h3v1h-3zM25 35h1v1h-1zM29 35h1v1h-1zM34 35h1v1h-1zM4 36h1v1h-1zM3 37h1v1h-1zM11 37h1v1h-1zM14 37h1v1h-1zM0 38h1v1h-1zM7 38h1v1h-1zM13 38h1v1h-1zM27 38h1v1h-1zM8 39h1v1h-1zM10 40h1v1h-1zM14 40h1v1h-1zM19 40h1v1h-1zM35 40h1v1h-1zM37 40h1v1h-1zM1 41h1v1h-1zM11 41h1v1h-1zM14 42h1v1h-1zM22 42h1v1h-1zM24 42h1v1h-1zM6 43h1v1h-1zM30 43h1v1h-1zM4 44h2v1h-2zM22 44h1v1h-1zM38 44h1v1h-1zM6 45h2v1h-2zM32 45h1v1h-1zM36 45h2v1h-2zM7 46h1v1h-1zM23 46h1v1h-1zM25 46h1v1h-1zM36 46h1v1h-1zM26 47h1v1h-1zM36 47h1v1h-1zM12 48h1v1h-1zM23 48h1v1h-1zM35 48h1v1h-1zM37 48h2v1h-2zM5 49h1v1h-1zM9 49h1v1h-1zM13 49h1v1h-1zM30 49h1v1h-1zM38 49h1v1h-1zM42 49h1v1h-1zM0 50h1v1h-1zM24 50h1v1h-1zM26 50h1v1h-1zM36 50h1v1h-1zM43 50h1v1h-1zM45 50h1v1h-1zM3 51h1v1h-1zM7 51h1v1h-1zM10 51h1v1h-1zM15 51h1v1h-1zM18 51h1v1h-1zM37 51h1v1h-1zM45 51h1v1h-1zM6 52h1v1h-1zM16 52h1v1h-1zM24 52h1v1h-1zM28 52h1v1h-1zM42 52h1v1h-1z"/><path fill="#9f1228" d="M5 8h1v1h-1zM12 14h1v1h-1z"/><path fill="#dd7059" d="M6 8h1v1h-1zM8 9h1v1h-1zM10 11h1v1h-1zM10 12h1v1h-1zM21 25h1v1h-1zM24 25h1v1h-1zM20 26h2v1h-2zM24 26h1v1h-1zM30 38h1v1h-1zM37 47h1v1h-1zM46 48h1v1h-1zM47 50h1v1h-1zM50 52h1v1h-1z"/><path fill="#67001f" d="M7 8h1v1h-1zM6 9h1v1h-1zM13 14h1v1h-1zM23 27h1v1h-1z"/><path fill="#fae9df" d="M1 9h1v1h-1zM2 18h1v1h-1zM4 18h1v1h-1zM12 18h1v1h-1zM16 20h1v1h-1zM15 21h1v1h-1zM8 23h1v1h-1zM10 24h1v1h-1zM10 25h1v1h-1zM13 25h1v1h-1zM12 26h1v1h-1zM17 26h2v1h-2zM17 28h1v1h-1zM1 29h1v1h-1zM19 29h1v1h-1zM22 29h1v1h-1zM15 30h1v1h-1zM18 30h1v1h-1zM17 31h1v1h-1zM0 32h1v1h-1zM25 32h1v1h-1zM31 32h1v1h-1zM8 33h1v1h-1zM11 33h1v1h-1zM14 33h1v1h-1zM28 33h1v1h-1zM1 34h1v1h-1zM14 34h1v1h-1zM17 34h1v1h-1zM24 34h1v1h-1zM8 36h1v1h-1zM15 36h1v1h-1zM18 36h1v1h-1zM23 36h2v1h-2zM27 36h1v1h-1zM12 37h1v1h-1zM20 37h2v1h-2zM2 38h1v1h-1zM11 38h1v1h-1zM0 39h2v1h-2zM12 39h1v1h-1zM17 39h1v1h-1zM26 39h1v1h-1zM37 39h1v1h-1zM32 40h1v1h-1zM17 41h1v1h-1zM29 41h2v1h-2zM34 41h1v1h-1zM40 41h1v1h-1zM0 42h1v1h-1zM5 42h1v1h-1zM16 42h1v1h-1zM30 42h1v1h-1zM35 42h1v1h-1zM39 42h1v1h-1zM18 43h1v1h-1zM35 43h1v1h-1zM38 43h1v1h-1zM20 44h1v1h-1zM25 44h1v1h-1zM30 44h1v1h-1zM32 44h1v1h-1zM3 46h2v1h-2zM18 46h1v1h-1zM24 46h1v1h-1zM34 46h1v1h-1zM4 47h1v1h-1zM6 47h1v1h-1zM9 47h1v1h-1zM22 47h1v1h-1zM39 47h1v1h-1zM7 48h1v1h-1zM11 48h1v1h-1zM21 48h1v1h-1zM45 48h1v1h-1zM21 49h2v1h-2zM27 49h1v1h-1zM39 49h1v1h-1zM9 51h1v1h-1zM21 52h1v1h-1z"/><path fill="#8a0b25" d="M7 9h1v1h-1zM16 17h1v1h-1z"/><path fill="#3a87bd" d="M5 10h1v1h-1zM8 15h1v1h-1z"/><path fill="#327cb7" d="M6 10h2v1h-2zM3 21h1v1h-1zM39 51h1v1h-1z"/><path fill="#90c4dd" d="M5 11h1v1h-1zM8 11h2v1h-2zM9 13h1v1h-1zM3 14h1v1h-1zM8 14h1v1h-1zM5 15h1v1h-1zM3 17h1v1h-1zM4 21h2v1h-2zM9 24h1v1h-1zM4 25h1v1h-1zM2 26h1v1h-1zM5 27h1v1h-1zM8 27h1v1h-1zM26 30h1v1h-1zM21 33h1v1h-1zM32 33h1v1h-1zM0 40h1v1h-1zM2 40h1v1h-1zM23 40h1v1h-1zM25 40h1v1h-1zM13 44h1v1h-1zM11 45h1v1h-1zM10 52h1v1h-1z"/><path fill="#6bacd1" d="M6 11h1v1h-1zM5 14h1v1h-1zM9 14h1v1h-1zM7 15h1v1h-1zM5 16h1v1h-1zM8 17h1v1h-1zM7 19h1v1h-1zM10 22h1v1h-1zM23 38h1v1h-1zM26 38h1v1h-1z"/><path fill="#569fc9" d="M7 11h1v1h-1zM5 12h1v1h-1zM7 14h1v1h-1zM25 41h1v1h-1z"/><path fill="#7eb8d7" d="M8 13h1v1h-1zM6 15h1v1h-1zM7 16h1v1h-1zM9 16h1v1h-1zM9 17h1v1h-1zM1 26h1v1h-1zM9 27h1v1h-1zM17 35h1v1h-1zM24 38h2v1h-2zM3 45h1v1h-1zM18 48h1v1h-1z"/><path fill="#d6604d" d="M10 13h1v1h-1zM14 15h1v1h-1zM13 16h1v1h-1zM10 17h1v1h-1zM14 17h1v1h-1zM21 24h1v1h-1zM23 25h1v1h-1zM19 26h1v1h-1zM10 42h1v1h-1z"/><path fill="#f3a481" d="M11 13h1v1h-1zM7 25h1v1h-1zM15 25h1v1h-1zM21 27h1v1h-1zM24 27h2v1h-2zM20 33h1v1h-1zM26 33h1v1h-1zM7 36h1v1h-1zM13 37h1v1h-1zM10 46h1v1h-1zM46 47h1v1h-1zM41 51h1v1h-1zM47 52h1v1h-1z"/><path fill="#4393c3" d="M4 14h1v1h-1zM9 15h1v1h-1z"/><path fill="#790622" d="M11 14h1v1h-1zM12 19h1v1h-1zM14 19h1v1h-1zM46 50h1v1h-1z"/><path fill="#c43b3c" d="M12 15h1v1h-1zM14 16h1v1h-1zM12 17h1v1h-1zM18 19h1v1h-1zM26 27h1v1h-1zM47 49h1v1h-1z"/><path fill="#fbccb4" d="M4 16h1v1h-1zM17 19h1v1h-1zM10 21h1v1h-1zM13 22h1v1h-1zM22 26h1v1h-1zM13 31h1v1h-1zM26 31h1v1h-1zM17 32h1v1h-1zM21 34h1v1h-1zM28 34h1v1h-1zM12 35h1v1h-1zM1 37h1v1h-1zM32 37h1v1h-1zM32 39h1v1h-1zM36 41h1v1h-1zM3 42h1v1h-1zM13 42h1v1h-1zM19 42h1v1h-1zM31 42h1v1h-1zM22 46h1v1h-1zM38 46h1v1h-1zM42 46h1v1h-1zM22 50h1v1h-1zM36 52h1v1h-1zM51 52h1v1h-1z"/><path fill="#b1182b" d="M11 16h1v1h-1zM13 19h1v1h-1zM15 19h1v1h-1zM23 26h1v1h-1zM46 49h1v1h-1z"/><path fill="#ba2832" d="M11 17h1v1h-1zM10 19h2v1h-2zM16 19h1v1h-1zM48 49h1v1h-1z"/></g><g id="U4"><path fill="#f6b394" d="M1 0h4v1h-4zM2 1h3v1h-3zM3 2h2v1h-2zM4 3h1v1h-1z"/><path fill="#f9f0eb" d="M5 0h5v1h-5zM28 0h25v1h-25zM5 1h5v1h-5zM28 1h25v1h-25zM5 2h5v1h-5zM28 2h25v1h-25zM5 3h5v1h-5zM28 3h25v1h-25zM5 4h5v1h-5zM28 4h25v1h-25zM42 5h4v1h-4zM42 6h4v1h-4zM42 7h4v1h-4zM42 8h4v1h-4zM42 9h4v1h-4zM20 10h8v1h-8zM20 11h8v1h-8zM20 12h8v1h-8zM20 13h8v1h-8zM20 14h8v1h-8zM20 15h8v1h-8zM20 16h8v1h-8zM20 17h8v1h-8zM20 18h8v1h-8zM20 19h8v1h-8zM42 28h4v1h-4zM42 29h4v1h-4zM42 30h4v1h-4zM42 31h4v1h-4zM42 32h4v1h-4zM42 33h4v1h-4zM42 34h4v1h-4zM42 35h4v1h-4zM42 36h4v1h-4zM42 37h4v1h-4zM42 38h4v1h-4zM42 39h4v1h-4zM42 40h4v1h-4zM42 41h4v1h-4z"/><path fill="#e4eef4" d="M10 0h10v1h-10zM10 1h10v1h-10zM10 2h10v1h-10zM10 3h10v1h-10zM10 4h10v1h-10zM20 5h8v1h-8zM20 6h8v1h-8zM20 7h8v1h-8zM20 8h8v1h-8zM20 9h8v1h-8zM46 28h7v1h-7zM46 29h7v1h-7zM46 30h7v1h-7zM46 31h7v1h-7zM46 32h7v1h-7zM46 33h7v1h-7zM46 34h7v1h-7zM46 35h7v1h-7zM46 36h7v1h-7zM46 37h7v1h-7zM46 38h7v1h-7zM46 39h7v1h-7zM46 40h7v1h-7zM46 41h7v1h-7z"/><path fill="#f7f6f6" d="M20 0h8v1h-8zM20 1h8v1h-8zM20 2h8v1h-8zM20 3h8v1h-8zM20 4h8v1h-8zM28 5h14v1h-14zM46 5h7v1h-7zM28 6h14v1h-14zM46 6h7v1h-7zM28 7h14v1h-14zM46 7h7v1h-7zM28 8h14v1h-14zM46 8h7v1h-7zM28 9h14v1h-14zM46 9h7v1h-7zM42 20h11v1h-11zM42 21h11v1h-11zM42 22h11v1h-11zM42 23h11v1h-11zM42 24h11v1h-11zM42 25h11v1h-11zM42 26h11v1h-11zM42 27h11v1h-11z"/><path fill="#e48066" d="M6 5h4v1h-4zM7 6h3v1h-3zM8 7h2v1h-2zM9 8h1v1h-1z"/><path fill="#d1e5f0" d="M10 5h10v1h-10zM10 6h10v1h-10zM10 7h10v1h-10zM10 8h10v1h-10zM10 9h10v1h-10z"/><path fill="#dd7059" d="M11 10h9v1h-9zM12 11h8v1h-8zM13 12h7v1h-7zM14 13h6v1h-6zM15 14h5v1h-5zM16 15h4v1h-4zM17 16h3v1h-3zM18 17h2v1h-2zM19 18h1v1h-1zM47 46h6v1h-6zM48 47h5v1h-5zM49 48h4v1h-4zM50 49h3v1h-3zM51 50h2v1h-2zM52 51h1v1h-1z"/><path fill="#edf2f5" d="M28 10h18v1h-18zM28 11h18v1h-18zM28 12h18v1h-18zM28 13h18v1h-18zM28 14h18v1h-18zM28 15h18v1h-18zM28 16h18v1h-18zM28 17h18v1h-18zM28 18h18v1h-18zM28 19h18v1h-18zM28 20h14v1h-14zM28 21h14v1h-14zM28 22h14v1h-14zM28 23h14v1h-14zM28 24h14v1h-14zM28 25h14v1h-14zM28 26h14v1h-14zM28 27h14v1h-14z"/><path fill="#c2ddec" d="M46 10h7v1h-7zM46 11h7v1h-7zM46 12h7v1h-7zM46 13h7v1h-7zM46 14h7v1h-7zM46 15h7v1h-7zM46 16h7v1h-7zM46 17h7v1h-7zM46 18h7v1h-7zM46 19h7v1h-7z"/><path fill="#ec9374" d="M21 20h7v1h-7zM22 21h6v1h-6zM23 22h5v1h-5zM24 23h4v1h-4zM25 24h3v1h-3zM26 25h2v1h-2zM27 26h1v1h-1z"/><path fill="#fae9df" d="M29 28h13v1h-13zM30 29h12v1h-12zM31 30h11v1h-11zM32 31h10v1h-10zM33 32h9v1h-9zM34 33h8v1h-8zM35 34h7v1h-7zM36 35h6v1h-6zM37 36h5v1h-5zM38 37h4v1h-4zM39 38h3v1h-3zM40 39h2v1h-2zM41 40h1v1h-1zM46 42h7v1h-7zM46 43h7v1h-7zM46 44h7v1h-7zM46 45h7v1h-7z"/><path fill="#fce2d2" d="M43 42h3v1h-3zM44 43h2v1h-2zM45 44h1v1h-1z"/></g><g id="s1"><path fill="#fae9df" d="M0 1h1v1h-1zM0 2h1v1h-1zM0 3h1v1h-1zM3 4h1v1h-1zM0 5h1v1h-1zM0 6h1v1h-1zM3 6h1v1h-1zM3 7h1v1h-1zM0 8h1v1h-1zM5 10h1v1h-1zM5 11h5v1h-5zM0 12h1v1h-1zM6 12h1v1h-1zM0 13h1v1h-1zM5 13h1v1h-1zM7 13h1v1h-1zM9 13h1v1h-1zM0 14h1v1h-1zM5 14h4v1h-4zM0 15h1v1h-1zM3 15h1v1h-1zM6 15h2v1h-2zM5 16h1v1h-1zM7 16h2v1h-2zM4 17h2v1h-2zM9 17h1v1h-1zM0 18h1v1h-1zM7 18h1v1h-1zM0 19h1v1h-1zM7 19h1v1h-1zM9 19h1v1h-1zM2 20h1v1h-1zM10 20h4v1h-4zM17 20h1v1h-1zM19 20h1v1h-1zM3 21h1v1h-1zM10 21h2v1h-2zM13 21h1v1h-1zM15 21h1v1h-1zM18 21h2v1h-2zM0 22h1v1h-1zM3 22h1v1h-1zM12 22h4v1h-4zM17 22h1v1h-1zM19 22h1v1h-1zM3 23h1v1h-1zM11 23h3v1h-3zM15 23h3v1h-3zM19 23h1v1h-1zM13 24h1v1h-1zM0 25h1v1h-1zM10 25h2v1h-2zM13 25h3v1h-3zM18 25h2v1h-2zM12 26h3v1h-3zM16 26h1v1h-1zM18 26h2v1h-2zM11 27h2v1h-2zM14 27h2v1h-2zM0 28h1v1h-1zM0 29h1v1h-1zM28 29h1v1h-1zM0 30h1v1h-1zM30 31h1v1h-1zM0 32h1v1h-1zM30 32h1v1h-1zM4 34h1v1h-1zM30 34h4v1h-4zM0 35h2v1h-2zM6 35h1v1h-1zM29 35h1v1h-1zM34 35h1v1h-1zM27 36h1v1h-1zM3 37h1v1h-1zM34 37h1v1h-1zM28 38h1v1h-1zM36 38h1v1h-1zM0 39h1v1h-1zM3 39h2v1h-2zM16 39h1v1h-1zM22 39h1v1h-1zM28 39h1v1h-1zM30 39h1v1h-1zM32 39h1v1h-1zM34 39h1v1h-1zM36 39h1v1h-1zM38 39h1v1h-1zM39 40h1v1h-1zM0 41h1v1h-1zM3 41h2v1h-2zM31 41h1v1h-1zM35 41h1v1h-1zM37 41h1v1h-1zM39 41h2v1h-2zM4 43h1v1h-1zM43 44h1v1h-1zM0 45h1v1h-1zM4 45h1v1h-1zM18 45h1v1h-1zM34 45h1v1h-1zM34 46h1v1h-1zM3 47h1v1h-1zM32 47h1v1h-1zM45 47h1v1h-1zM0 48h1v1h-1zM0 49h1v1h-1zM14 49h1v1h-1zM4 50h1v1h-1zM0 52h1v1h-1zM40 52h1v1h-1z"/><path fill="#f8bfa4" d="M1 2h1v1h-1zM4 9h1v1h-1zM6 9h1v1h-1zM10 11h1v1h-1zM9 12h1v1h-1zM10 14h2v1h-2zM10 15h1v1h-1zM13 15h1v1h-1zM9 16h1v1h-1zM14 16h1v1h-1zM10 17h1v1h-1zM13 17h3v1h-3zM13 18h2v1h-2zM16 18h1v1h-1zM10 19h2v1h-2zM14 19h1v1h-1zM11 22h1v1h-1zM17 26h1v1h-1zM24 26h1v1h-1zM24 27h1v1h-1zM2 29h1v1h-1zM11 29h1v1h-1zM27 30h1v1h-1zM7 33h1v1h-1zM17 34h1v1h-1zM18 37h1v1h-1zM22 41h1v1h-1zM2 42h1v1h-1zM5 42h1v1h-1zM44 45h1v1h-1zM22 47h1v1h-1zM43 47h1v1h-1zM29 48h1v1h-1zM37 48h1v1h-1zM19 51h1v1h-1zM45 51h1v1h-1zM11 52h1v1h-1z"/><path fill="#f7f6f6" d="M1 3h1v1h-1zM0 4h3v1h-3zM4 5h1v1h-1zM4 6h1v1h-1zM0 7h2v1h-2zM4 7h1v1h-1zM4 8h1v1h-1zM0 9h2v1h-2zM3 9h1v1h-1zM0 10h1v1h-1zM3 10h2v1h-2zM6 10h4v1h-4zM3 11h2v1h-2zM3 12h2v1h-2zM7 12h2v1h-2zM2 13h3v1h-3zM6 13h1v1h-1zM8 13h1v1h-1zM1 14h1v1h-1zM3 14h2v1h-2zM9 14h1v1h-1zM2 15h1v1h-1zM4 15h2v1h-2zM8 15h2v1h-2zM3 16h2v1h-2zM6 16h1v1h-1zM0 17h1v1h-1zM2 17h2v1h-2zM6 17h1v1h-1zM8 17h1v1h-1zM3 18h4v1h-4zM8 18h2v1h-2zM3 19h1v1h-1zM5 19h1v1h-1zM8 19h1v1h-1zM0 20h1v1h-1zM3 20h1v1h-1zM6 20h1v1h-1zM15 20h2v1h-2zM18 20h1v1h-1zM0 21h1v1h-1zM6 21h1v1h-1zM9 21h1v1h-1zM12 21h1v1h-1zM14 21h1v1h-1zM16 21h1v1h-1zM4 22h1v1h-1zM6 22h1v1h-1zM9 22h2v1h-2zM16 22h1v1h-1zM18 22h1v1h-1zM0 23h1v1h-1zM4 23h2v1h-2zM10 23h1v1h-1zM14 23h1v1h-1zM18 23h1v1h-1zM0 24h1v1h-1zM3 24h1v1h-1zM6 24h1v1h-1zM10 24h3v1h-3zM14 24h6v1h-6zM1 25h9v1h-9zM12 25h1v1h-1zM16 25h1v1h-1zM0 26h1v1h-1zM3 26h2v1h-2zM6 26h1v1h-1zM10 26h2v1h-2zM15 26h1v1h-1zM0 27h1v1h-1zM3 27h1v1h-1zM6 27h1v1h-1zM10 27h1v1h-1zM13 27h1v1h-1zM16 27h4v1h-4zM3 28h2v1h-2zM14 28h1v1h-1zM16 28h1v1h-1zM25 28h1v1h-1zM4 29h3v1h-3zM13 29h1v1h-1zM16 29h1v1h-1zM18 29h2v1h-2zM21 29h1v1h-1zM23 29h1v1h-1zM25 29h1v1h-1zM3 30h2v1h-2zM7 30h1v1h-1zM14 30h4v1h-4zM23 30h1v1h-1zM29 30h1v1h-1zM0 31h1v1h-1zM3 31h2v1h-2zM6 31h1v1h-1zM28 31h2v1h-2zM2 32h1v1h-1zM4 32h1v1h-1zM6 32h1v1h-1zM10 32h1v1h-1zM13 32h2v1h-2zM16 32h4v1h-4zM21 32h1v1h-1zM25 32h2v1h-2zM31 32h1v1h-1zM0 33h1v1h-1zM4 33h1v1h-1zM13 33h1v1h-1zM28 33h2v1h-2zM31 33h2v1h-2zM1 34h1v1h-1zM3 34h1v1h-1zM6 34h1v1h-1zM9 34h3v1h-3zM15 34h1v1h-1zM18 34h1v1h-1zM21 34h1v1h-1zM23 34h1v1h-1zM25 34h1v1h-1zM27 34h3v1h-3zM2 35h4v1h-4zM7 35h13v1h-13zM21 35h1v1h-1zM23 35h3v1h-3zM27 35h1v1h-1zM30 35h1v1h-1zM33 35h1v1h-1zM0 36h1v1h-1zM3 36h2v1h-2zM13 36h1v1h-1zM25 36h1v1h-1zM28 36h4v1h-4zM34 36h2v1h-2zM4 37h4v1h-4zM10 37h1v1h-1zM14 37h1v1h-1zM16 37h2v1h-2zM20 37h2v1h-2zM23 37h1v1h-1zM28 37h5v1h-5zM36 37h1v1h-1zM0 38h1v1h-1zM3 38h1v1h-1zM29 38h2v1h-2zM34 38h2v1h-2zM1 39h1v1h-1zM5 39h1v1h-1zM7 39h1v1h-1zM9 39h6v1h-6zM17 39h1v1h-1zM20 39h2v1h-2zM23 39h1v1h-1zM25 39h1v1h-1zM29 39h1v1h-1zM31 39h1v1h-1zM33 39h1v1h-1zM35 39h1v1h-1zM37 39h1v1h-1zM0 40h1v1h-1zM4 40h1v1h-1zM6 40h1v1h-1zM10 40h2v1h-2zM21 40h1v1h-1zM25 40h1v1h-1zM28 40h1v1h-1zM30 40h3v1h-3zM37 40h2v1h-2zM2 41h1v1h-1zM6 41h1v1h-1zM13 41h2v1h-2zM18 41h2v1h-2zM21 41h1v1h-1zM23 41h1v1h-1zM25 41h1v1h-1zM28 41h3v1h-3zM32 41h3v1h-3zM36 41h1v1h-1zM38 41h1v1h-1zM3 42h2v1h-2zM7 42h3v1h-3zM11 42h1v1h-1zM13 42h3v1h-3zM19 42h5v1h-5zM25 42h1v1h-1zM28 42h2v1h-2zM32 42h1v1h-1zM34 42h2v1h-2zM37 42h1v1h-1zM39 42h3v1h-3zM0 43h1v1h-1zM3 43h1v1h-1zM6 43h1v1h-1zM14 43h1v1h-1zM22 43h1v1h-1zM34 43h2v1h-2zM39 43h1v1h-1zM41 43h1v1h-1zM0 44h1v1h-1zM3 44h2v1h-2zM6 44h2v1h-2zM9 44h1v1h-1zM13 44h2v1h-2zM16 44h2v1h-2zM20 44h1v1h-1zM23 44h1v1h-1zM25 44h1v1h-1zM30 44h1v1h-1zM34 44h3v1h-3zM40 44h2v1h-2zM1 45h3v1h-3zM5 45h2v1h-2zM11 45h2v1h-2zM15 45h2v1h-2zM19 45h1v1h-1zM21 45h1v1h-1zM23 45h1v1h-1zM25 45h1v1h-1zM27 45h3v1h-3zM31 45h1v1h-1zM35 45h5v1h-5zM43 45h1v1h-1zM0 46h1v1h-1zM3 46h2v1h-2zM6 46h2v1h-2zM9 46h1v1h-1zM16 46h1v1h-1zM18 46h1v1h-1zM25 46h1v1h-1zM30 46h1v1h-1zM32 46h1v1h-1zM35 46h3v1h-3zM39 46h2v1h-2zM42 46h1v1h-1zM5 47h2v1h-2zM9 47h2v1h-2zM13 47h4v1h-4zM18 47h1v1h-1zM25 47h1v1h-1zM28 47h1v1h-1zM30 47h2v1h-2zM37 47h3v1h-3zM41 47h2v1h-2zM44 47h1v1h-1zM1 48h2v1h-2zM4 48h3v1h-3zM9 48h1v1h-1zM11 48h9v1h-9zM21 48h1v1h-1zM23 48h1v1h-1zM25 48h2v1h-2zM28 48h1v1h-1zM30 48h1v1h-1zM32 48h2v1h-2zM39 48h7v1h-7zM3 49h2v1h-2zM6 49h1v1h-1zM10 49h1v1h-1zM12 49h2v1h-2zM16 49h2v1h-2zM19 49h1v1h-1zM21 49h2v1h-2zM25 49h1v1h-1zM29 49h2v1h-2zM32 49h6v1h-6zM39 49h4v1h-4zM44 49h2v1h-2zM3 50h1v1h-1zM9 50h2v1h-2zM13 50h1v1h-1zM15 50h1v1h-1zM17 50h1v1h-1zM20 50h1v1h-1zM25 50h1v1h-1zM29 50h1v1h-1zM35 50h1v1h-1zM37 50h1v1h-1zM43 50h1v1h-1zM45 50h1v1h-1zM0 51h1v1h-1zM4 51h1v1h-1zM7 51h1v1h-1zM9 51h1v1h-1zM11 51h1v1h-1zM13 51h1v1h-1zM15 51h1v1h-1zM18 51h1v1h-1zM23 51h1v1h-1zM25 51h1v1h-1zM34 51h1v1h-1zM36 51h2v1h-2zM39 51h2v1h-2zM42 51h1v1h-1zM1 52h1v1h-1zM3 52h4v1h-4zM12 52h2v1h-2zM15 52h7v1h-7zM23 52h1v1h-1zM28 52h3v1h-3zM32 52h1v1h-1zM34 52h6v1h-6zM41 52h2v1h-2zM44 52h2v1h-2z"/><path fill="#fddbc7" d="M2 3h1v1h-1zM3 5h1v1h-1zM1 10h1v1h-1zM0 11h1v1h-1zM5 12h1v1h-1zM10 13h1v1h-1zM10 16h1v1h-1zM13 16h1v1h-1zM10 18h1v1h-1zM16 19h1v1h-1zM17 21h1v1h-1zM1 26h1v1h-1zM3 29h1v1h-1zM7 29h2v1h-2zM24 33h1v1h-1zM0 34h1v1h-1zM7 34h1v1h-1zM13 34h1v1h-1zM6 38h1v1h-1zM23 38h1v1h-1zM27 38h1v1h-1zM27 40h1v1h-1zM34 40h1v1h-1zM0 42h1v1h-1zM6 42h1v1h-1zM42 43h1v1h-1zM42 44h1v1h-1zM42 45h1v1h-1zM0 47h1v1h-1zM15 49h1v1h-1zM12 50h1v1h-1zM3 51h1v1h-1z"/><path fill="#d1e5f0" d="M1 5h1v1h-1zM1 8h1v1h-1zM1 11h1v1h-1zM1 15h1v1h-1zM1 16h1v1h-1zM1 18h1v1h-1zM8 21h1v1h-1zM9 23h1v1h-1zM1 24h2v1h-2zM8 24h1v1h-1zM8 26h1v1h-1zM2 28h1v1h-1zM13 28h1v1h-1zM8 30h1v1h-1zM13 30h1v1h-1zM2 31h1v1h-1zM20 31h1v1h-1zM27 31h1v1h-1zM1 33h1v1h-1zM6 33h1v1h-1zM8 33h1v1h-1zM11 33h2v1h-2zM15 33h1v1h-1zM19 33h1v1h-1zM23 33h1v1h-1zM12 34h1v1h-1zM8 36h1v1h-1zM19 36h1v1h-1zM22 36h1v1h-1zM24 36h1v1h-1zM11 37h2v1h-2zM35 37h1v1h-1zM10 38h1v1h-1zM12 38h1v1h-1zM20 38h1v1h-1zM24 38h1v1h-1zM2 40h1v1h-1zM8 40h1v1h-1zM20 41h1v1h-1zM1 43h1v1h-1zM8 43h1v1h-1zM12 43h1v1h-1zM19 43h1v1h-1zM24 43h1v1h-1zM31 43h1v1h-1zM27 44h1v1h-1zM4 47h1v1h-1zM29 47h1v1h-1zM36 47h1v1h-1zM3 48h1v1h-1zM35 48h1v1h-1zM18 49h1v1h-1zM20 49h1v1h-1zM31 50h1v1h-1zM40 50h1v1h-1zM22 51h1v1h-1zM33 51h1v1h-1zM38 51h1v1h-1zM43 51h1v1h-1z"/><path fill="#e4eef4" d="M2 5h1v1h-1zM1 6h2v1h-2zM2 7h1v1h-1zM2 8h2v1h-2zM2 9h1v1h-1zM2 10h1v1h-1zM2 11h1v1h-1zM1 12h2v1h-2zM1 13h1v1h-1zM2 14h1v1h-1zM2 16h1v1h-1zM1 17h1v1h-1zM2 18h1v1h-1zM1 19h2v1h-2zM1 20h1v1h-1zM4 20h2v1h-2zM7 20h3v1h-3zM1 21h2v1h-2zM4 21h2v1h-2zM7 21h1v1h-1zM1 22h2v1h-2zM5 22h1v1h-1zM7 22h2v1h-2zM1 23h2v1h-2zM6 23h3v1h-3zM4 24h2v1h-2zM7 24h1v1h-1zM9 24h1v1h-1zM17 25h1v1h-1zM2 26h1v1h-1zM5 26h1v1h-1zM7 26h1v1h-1zM9 26h1v1h-1zM1 27h2v1h-2zM4 27h2v1h-2zM7 27h3v1h-3zM1 28h1v1h-1zM5 28h8v1h-8zM15 28h1v1h-1zM17 28h8v1h-8zM26 28h2v1h-2zM1 29h1v1h-1zM9 29h2v1h-2zM12 29h1v1h-1zM14 29h2v1h-2zM17 29h1v1h-1zM20 29h1v1h-1zM22 29h1v1h-1zM24 29h1v1h-1zM26 29h2v1h-2zM1 30h2v1h-2zM5 30h2v1h-2zM9 30h4v1h-4zM18 30h5v1h-5zM24 30h3v1h-3zM28 30h1v1h-1zM1 31h1v1h-1zM5 31h1v1h-1zM7 31h3v1h-3zM11 31h1v1h-1zM13 31h7v1h-7zM21 31h3v1h-3zM25 31h2v1h-2zM1 32h1v1h-1zM3 32h1v1h-1zM5 32h1v1h-1zM7 32h3v1h-3zM11 32h2v1h-2zM15 32h1v1h-1zM22 32h3v1h-3zM27 32h3v1h-3zM2 33h2v1h-2zM5 33h1v1h-1zM9 33h2v1h-2zM14 33h1v1h-1zM16 33h3v1h-3zM20 33h3v1h-3zM25 33h3v1h-3zM2 34h1v1h-1zM5 34h1v1h-1zM8 34h1v1h-1zM14 34h1v1h-1zM16 34h1v1h-1zM19 34h2v1h-2zM22 34h1v1h-1zM24 34h1v1h-1zM26 34h1v1h-1zM20 35h1v1h-1zM22 35h1v1h-1zM26 35h1v1h-1zM31 35h2v1h-2zM1 36h2v1h-2zM5 36h3v1h-3zM9 36h4v1h-4zM14 36h5v1h-5zM20 36h2v1h-2zM23 36h1v1h-1zM26 36h1v1h-1zM32 36h2v1h-2zM0 37h3v1h-3zM8 37h2v1h-2zM13 37h1v1h-1zM15 37h1v1h-1zM19 37h1v1h-1zM22 37h1v1h-1zM24 37h4v1h-4zM33 37h1v1h-1zM1 38h2v1h-2zM4 38h2v1h-2zM7 38h3v1h-3zM11 38h1v1h-1zM13 38h7v1h-7zM22 38h1v1h-1zM25 38h2v1h-2zM31 38h3v1h-3zM2 39h1v1h-1zM6 39h1v1h-1zM8 39h1v1h-1zM15 39h1v1h-1zM18 39h2v1h-2zM24 39h1v1h-1zM26 39h2v1h-2zM1 40h1v1h-1zM3 40h1v1h-1zM5 40h1v1h-1zM7 40h1v1h-1zM9 40h1v1h-1zM13 40h8v1h-8zM22 40h3v1h-3zM26 40h1v1h-1zM29 40h1v1h-1zM33 40h1v1h-1zM35 40h2v1h-2zM1 41h1v1h-1zM5 41h1v1h-1zM7 41h6v1h-6zM15 41h3v1h-3zM24 41h1v1h-1zM26 41h2v1h-2zM1 42h1v1h-1zM10 42h1v1h-1zM12 42h1v1h-1zM16 42h3v1h-3zM24 42h1v1h-1zM26 42h2v1h-2zM30 42h2v1h-2zM33 42h1v1h-1zM36 42h1v1h-1zM38 42h1v1h-1zM2 43h1v1h-1zM5 43h1v1h-1zM7 43h1v1h-1zM9 43h3v1h-3zM13 43h1v1h-1zM15 43h4v1h-4zM20 43h2v1h-2zM23 43h1v1h-1zM25 43h6v1h-6zM32 43h2v1h-2zM36 43h3v1h-3zM40 43h1v1h-1zM1 44h2v1h-2zM5 44h1v1h-1zM8 44h1v1h-1zM10 44h3v1h-3zM15 44h1v1h-1zM18 44h2v1h-2zM21 44h2v1h-2zM24 44h1v1h-1zM26 44h1v1h-1zM28 44h2v1h-2zM31 44h3v1h-3zM37 44h3v1h-3zM7 45h4v1h-4zM13 45h2v1h-2zM17 45h1v1h-1zM20 45h1v1h-1zM22 45h1v1h-1zM24 45h1v1h-1zM26 45h1v1h-1zM30 45h1v1h-1zM32 45h2v1h-2zM40 45h2v1h-2zM1 46h2v1h-2zM5 46h1v1h-1zM8 46h1v1h-1zM10 46h6v1h-6zM17 46h1v1h-1zM20 46h5v1h-5zM26 46h4v1h-4zM31 46h1v1h-1zM33 46h1v1h-1zM38 46h1v1h-1zM41 46h1v1h-1zM43 46h3v1h-3zM1 47h2v1h-2zM7 47h2v1h-2zM11 47h2v1h-2zM17 47h1v1h-1zM19 47h2v1h-2zM23 47h2v1h-2zM26 47h2v1h-2zM33 47h3v1h-3zM40 47h1v1h-1zM7 48h2v1h-2zM10 48h1v1h-1zM20 48h1v1h-1zM22 48h1v1h-1zM24 48h1v1h-1zM27 48h1v1h-1zM31 48h1v1h-1zM34 48h1v1h-1zM36 48h1v1h-1zM1 49h2v1h-2zM5 49h1v1h-1zM7 49h3v1h-3zM11 49h1v1h-1zM23 49h2v1h-2zM26 49h3v1h-3zM31 49h1v1h-1zM38 49h1v1h-1zM43 49h1v1h-1zM1 50h2v1h-2zM5 50h4v1h-4zM11 50h1v1h-1zM14 50h1v1h-1zM16 50h1v1h-1zM18 50h2v1h-2zM21 50h4v1h-4zM26 50h3v1h-3zM30 50h1v1h-1zM32 50h3v1h-3zM36 50h1v1h-1zM38 50h2v1h-2zM41 50h2v1h-2zM44 50h1v1h-1zM1 51h1v1h-1zM5 51h2v1h-2zM8 51h1v1h-1zM10 51h1v1h-1zM12 51h1v1h-1zM14 51h1v1h-1zM16 51h2v1h-2zM20 51h2v1h-2zM24 51h1v1h-1zM26 51h7v1h-7zM35 51h1v1h-1zM41 51h1v1h-1zM44 51h1v1h-1zM2 52h1v1h-1zM7 52h4v1h-4zM14 52h1v1h-1zM22 52h1v1h-1zM24 52h4v1h-4zM31 52h1v1h-1zM33 52h1v1h-1zM43 52h1v1h-1z"/><path fill="#d6604d" d="M5 6h1v1h-1zM7 9h1v1h-1zM12 19h1v1h-1zM20 21h1v1h-1zM20 23h1v1h-1zM22 23h1v1h-1zM22 24h1v1h-1zM24 25h1v1h-1zM22 27h1v1h-1zM48 49h1v1h-1zM47 51h2v1h-2zM48 52h1v1h-1z"/><path fill="#f3a481" d="M5 7h1v1h-1zM6 8h1v1h-1zM10 12h1v1h-1zM11 13h1v1h-1zM12 14h2v1h-2zM11 16h1v1h-1zM15 16h1v1h-1zM7 17h1v1h-1zM11 17h1v1h-1zM16 17h1v1h-1zM11 18h1v1h-1zM15 18h1v1h-1zM6 19h1v1h-1zM13 19h1v1h-1zM15 19h1v1h-1zM17 19h2v1h-2zM14 20h1v1h-1zM21 23h1v1h-1zM21 24h1v1h-1zM23 25h1v1h-1zM21 26h3v1h-3zM25 26h1v1h-1zM30 33h1v1h-1zM28 35h1v1h-1zM37 38h1v1h-1z"/><path fill="#e48066" d="M6 7h1v1h-1zM7 8h1v1h-1zM5 9h1v1h-1zM8 9h1v1h-1zM12 13h1v1h-1zM11 15h2v1h-2zM14 15h1v1h-1zM0 16h1v1h-1zM12 16h1v1h-1zM12 17h1v1h-1zM12 18h1v1h-1zM20 25h3v1h-3zM20 26h1v1h-1zM20 27h2v1h-2zM23 27h1v1h-1zM25 27h2v1h-2zM47 49h1v1h-1zM0 50h1v1h-1zM47 52h1v1h-1zM49 52h1v1h-1z"/><path fill="#b1182b" d="M5 8h1v1h-1zM46 47h1v1h-1zM49 50h1v1h-1zM50 52h1v1h-1z"/><path fill="#c43b3c" d="M11 12h1v1h-1zM17 18h1v1h-1zM20 22h2v1h-2zM46 48h2v1h-2zM46 49h1v1h-1zM47 50h1v1h-1zM49 51h1v1h-1zM46 52h1v1h-1zM51 52h1v1h-1z"/><path fill="#b1d5e7" d="M4 19h1v1h-1zM10 31h1v1h-1zM12 31h1v1h-1zM24 31h1v1h-1zM20 32h1v1h-1zM12 40h1v1h-1zM21 47h1v1h-1zM38 48h1v1h-1zM2 51h1v1h-1z"/><path fill="#8a0b25" d="M20 24h1v1h-1zM23 24h1v1h-1zM46 51h1v1h-1z"/><path fill="#90c4dd" d="M21 38h1v1h-1zM19 46h1v1h-1z"/><path fill="#67001f" d="M46 50h1v1h-1zM48 50h1v1h-1zM50 51h1v1h-1z"/></g><g id="s2"><path fill="#fddbc7" d="M0 1h1v1h-1zM1 4h1v1h-1zM3 4h1v1h-1zM6 7h1v1h-1zM2 9h1v1h-1zM8 10h1v1h-1zM9 11h1v1h-1zM5 13h2v1h-2zM6 14h1v1h-1zM8 14h1v1h-1zM9 15h1v1h-1zM6 16h1v1h-1zM8 16h1v1h-1zM3 17h1v1h-1zM6 17h1v1h-1zM9 17h1v1h-1zM0 18h1v1h-1zM6 18h1v1h-1zM9 18h1v1h-1zM18 20h1v1h-1zM13 21h1v1h-1zM10 22h1v1h-1zM14 22h1v1h-1zM2 23h2v1h-2zM9 23h3v1h-3zM13 23h1v1h-1zM21 23h1v1h-1zM13 24h1v1h-1zM0 25h1v1h-1zM10 25h2v1h-2zM13 25h1v1h-1zM19 25h1v1h-1zM22 25h1v1h-1zM24 25h1v1h-1zM12 26h2v1h-2zM15 26h1v1h-1zM17 26h1v1h-1zM24 26h1v1h-1zM4 27h1v1h-1zM10 27h4v1h-4zM22 27h1v1h-1zM6 28h1v1h-1zM9 28h1v1h-1zM7 29h1v1h-1zM28 29h1v1h-1zM11 30h1v1h-1zM29 30h1v1h-1zM30 31h1v1h-1zM31 32h1v1h-1zM29 33h1v1h-1zM32 33h1v1h-1zM32 35h1v1h-1zM3 36h1v1h-1zM24 36h1v1h-1zM29 36h1v1h-1zM35 36h1v1h-1zM31 37h1v1h-1zM25 38h1v1h-1zM29 38h1v1h-1zM32 38h1v1h-1zM26 39h1v1h-1zM1 41h1v1h-1zM4 41h1v1h-1zM39 41h1v1h-1zM31 42h1v1h-1zM40 42h1v1h-1zM24 43h1v1h-1zM28 43h2v1h-2zM31 43h1v1h-1zM38 43h1v1h-1zM40 43h1v1h-1zM22 44h1v1h-1zM8 47h1v1h-1zM24 48h1v1h-1zM29 48h1v1h-1zM33 48h1v1h-1zM18 51h1v1h-1zM20 51h1v1h-1zM44 51h1v1h-1zM21 52h1v1h-1zM38 52h1v1h-1z"/><path fill="#f7f6f6" d="M0 2h1v1h-1zM0 3h1v1h-1zM2 3h1v1h-1zM2 4h1v1h-1zM1 5h4v1h-4zM0 6h2v1h-2zM4 6h1v1h-1zM0 7h1v1h-1zM4 7h1v1h-1zM1 8h1v1h-1zM0 9h1v1h-1zM4 9h1v1h-1zM0 10h1v1h-1zM3 10h3v1h-3zM3 11h1v1h-1zM7 11h1v1h-1zM0 12h6v1h-6zM0 13h5v1h-5zM7 13h1v1h-1zM0 14h1v1h-1zM2 14h2v1h-2zM0 15h1v1h-1zM4 15h2v1h-2zM0 16h2v1h-2zM7 16h1v1h-1zM0 17h1v1h-1zM7 17h1v1h-1zM5 18h1v1h-1zM8 18h1v1h-1zM5 19h1v1h-1zM1 20h1v1h-1zM3 20h2v1h-2zM7 20h3v1h-3zM5 21h1v1h-1zM18 21h2v1h-2zM15 22h5v1h-5zM14 23h2v1h-2zM17 23h1v1h-1zM19 23h1v1h-1zM1 24h1v1h-1zM3 24h1v1h-1zM6 24h2v1h-2zM9 24h1v1h-1zM15 24h1v1h-1zM17 24h1v1h-1zM19 24h1v1h-1zM21 24h2v1h-2zM5 25h1v1h-1zM8 25h1v1h-1zM18 25h1v1h-1zM0 26h1v1h-1zM2 26h1v1h-1zM5 26h1v1h-1zM16 27h2v1h-2zM2 28h1v1h-1zM5 28h1v1h-1zM23 28h2v1h-2zM1 29h1v1h-1zM4 29h3v1h-3zM8 29h1v1h-1zM27 29h1v1h-1zM2 30h2v1h-2zM5 30h3v1h-3zM9 30h1v1h-1zM12 30h1v1h-1zM16 30h1v1h-1zM20 30h1v1h-1zM25 30h1v1h-1zM1 31h3v1h-3zM5 31h1v1h-1zM20 31h2v1h-2zM23 31h1v1h-1zM28 31h1v1h-1zM1 32h1v1h-1zM4 32h6v1h-6zM12 32h1v1h-1zM14 32h1v1h-1zM20 32h1v1h-1zM25 32h1v1h-1zM27 32h2v1h-2zM0 33h2v1h-2zM3 33h1v1h-1zM6 33h1v1h-1zM9 33h1v1h-1zM12 33h1v1h-1zM25 33h2v1h-2zM28 33h1v1h-1zM30 33h2v1h-2zM3 34h4v1h-4zM20 34h1v1h-1zM29 34h1v1h-1zM32 34h1v1h-1zM0 35h3v1h-3zM4 35h1v1h-1zM6 35h1v1h-1zM9 35h1v1h-1zM13 35h1v1h-1zM16 35h1v1h-1zM18 35h1v1h-1zM20 35h1v1h-1zM28 35h1v1h-1zM30 35h2v1h-2zM34 35h1v1h-1zM0 36h1v1h-1zM2 36h1v1h-1zM4 36h3v1h-3zM10 36h1v1h-1zM12 36h1v1h-1zM20 36h1v1h-1zM23 36h1v1h-1zM26 36h2v1h-2zM30 36h2v1h-2zM34 36h1v1h-1zM0 37h1v1h-1zM5 37h1v1h-1zM7 37h1v1h-1zM12 37h1v1h-1zM20 37h1v1h-1zM29 37h1v1h-1zM33 37h3v1h-3zM0 38h5v1h-5zM13 38h1v1h-1zM21 38h1v1h-1zM23 38h1v1h-1zM27 38h1v1h-1zM34 38h2v1h-2zM0 39h2v1h-2zM4 39h1v1h-1zM12 39h2v1h-2zM16 39h1v1h-1zM27 39h1v1h-1zM30 39h2v1h-2zM34 39h1v1h-1zM3 40h1v1h-1zM5 40h1v1h-1zM24 40h1v1h-1zM28 40h1v1h-1zM30 40h10v1h-10zM5 41h1v1h-1zM24 41h1v1h-1zM28 41h2v1h-2zM32 41h2v1h-2zM36 41h2v1h-2zM40 41h1v1h-1zM24 42h1v1h-1zM28 42h3v1h-3zM33 42h1v1h-1zM36 42h1v1h-1zM38 42h2v1h-2zM41 42h1v1h-1zM2 43h2v1h-2zM5 43h1v1h-1zM8 43h2v1h-2zM25 43h1v1h-1zM34 43h1v1h-1zM41 43h1v1h-1zM12 44h1v1h-1zM20 44h1v1h-1zM25 44h2v1h-2zM30 44h1v1h-1zM32 44h2v1h-2zM35 44h2v1h-2zM39 44h1v1h-1zM0 45h1v1h-1zM4 45h1v1h-1zM7 45h3v1h-3zM12 45h1v1h-1zM16 45h2v1h-2zM21 45h1v1h-1zM24 45h3v1h-3zM32 45h3v1h-3zM37 45h1v1h-1zM39 45h1v1h-1zM42 45h1v1h-1zM44 45h1v1h-1zM0 46h1v1h-1zM4 46h2v1h-2zM7 46h1v1h-1zM9 46h1v1h-1zM30 46h1v1h-1zM35 46h2v1h-2zM38 46h2v1h-2zM42 46h2v1h-2zM0 47h1v1h-1zM2 47h5v1h-5zM9 47h4v1h-4zM31 47h2v1h-2zM34 47h2v1h-2zM41 47h2v1h-2zM44 47h2v1h-2zM0 48h1v1h-1zM2 48h2v1h-2zM6 48h3v1h-3zM10 48h1v1h-1zM12 48h1v1h-1zM16 48h1v1h-1zM23 48h1v1h-1zM25 48h2v1h-2zM30 48h2v1h-2zM34 48h1v1h-1zM36 48h1v1h-1zM39 48h1v1h-1zM44 48h2v1h-2zM8 49h3v1h-3zM13 49h2v1h-2zM16 49h1v1h-1zM20 49h1v1h-1zM24 49h1v1h-1zM28 49h1v1h-1zM32 49h2v1h-2zM38 49h3v1h-3zM45 49h1v1h-1zM0 50h1v1h-1zM2 50h1v1h-1zM4 50h3v1h-3zM10 50h1v1h-1zM20 50h1v1h-1zM30 50h3v1h-3zM34 50h3v1h-3zM39 50h2v1h-2zM44 50h2v1h-2zM0 51h1v1h-1zM3 51h1v1h-1zM5 51h2v1h-2zM8 51h3v1h-3zM12 51h3v1h-3zM23 51h1v1h-1zM31 51h1v1h-1zM33 51h1v1h-1zM35 51h1v1h-1zM38 51h2v1h-2zM42 51h1v1h-1zM45 51h1v1h-1zM0 52h1v1h-1zM3 52h1v1h-1zM6 52h2v1h-2zM9 52h3v1h-3zM20 52h1v1h-1zM28 52h1v1h-1zM30 52h1v1h-1zM32 52h6v1h-6zM39 52h1v1h-1zM41 52h1v1h-1zM44 52h2v1h-2z"/><path fill="#fae9df" d="M1 2h1v1h-1zM1 3h1v1h-1zM0 4h1v1h-1zM0 5h1v1h-1zM3 8h1v1h-1zM5 8h1v1h-1zM7 8h1v1h-1zM7 9h1v1h-1zM1 10h2v1h-2zM7 10h1v1h-1zM5 11h1v1h-1zM8 12h1v1h-1zM8 13h1v1h-1zM5 14h1v1h-1zM8 15h1v1h-1zM5 16h1v1h-1zM5 17h1v1h-1zM8 17h1v1h-1zM4 19h1v1h-1zM6 19h1v1h-1zM8 19h2v1h-2zM0 20h1v1h-1zM2 20h1v1h-1zM5 20h1v1h-1zM16 20h1v1h-1zM11 21h2v1h-2zM14 21h3v1h-3zM11 22h3v1h-3zM12 23h1v1h-1zM16 23h1v1h-1zM18 23h1v1h-1zM0 24h1v1h-1zM4 24h2v1h-2zM8 24h1v1h-1zM10 24h3v1h-3zM14 24h1v1h-1zM16 24h1v1h-1zM23 24h1v1h-1zM12 25h1v1h-1zM14 25h4v1h-4zM16 26h1v1h-1zM18 26h2v1h-2zM9 27h1v1h-1zM15 27h1v1h-1zM24 27h1v1h-1zM0 29h1v1h-1zM2 29h1v1h-1zM24 29h1v1h-1zM0 30h2v1h-2zM4 30h1v1h-1zM8 30h1v1h-1zM24 30h1v1h-1zM24 31h1v1h-1zM29 31h1v1h-1zM3 32h1v1h-1zM24 32h1v1h-1zM29 32h2v1h-2zM2 33h1v1h-1zM4 33h2v1h-2zM8 33h1v1h-1zM13 33h1v1h-1zM20 33h1v1h-1zM24 33h1v1h-1zM21 34h1v1h-1zM24 34h1v1h-1zM28 34h1v1h-1zM30 34h2v1h-2zM24 35h1v1h-1zM29 35h1v1h-1zM33 35h1v1h-1zM28 36h1v1h-1zM33 36h1v1h-1zM24 37h1v1h-1zM30 37h1v1h-1zM32 37h1v1h-1zM36 37h1v1h-1zM6 38h1v1h-1zM8 38h2v1h-2zM20 38h1v1h-1zM24 38h1v1h-1zM28 38h1v1h-1zM30 38h2v1h-2zM33 38h1v1h-1zM36 38h1v1h-1zM20 39h1v1h-1zM24 39h1v1h-1zM28 39h2v1h-2zM32 39h2v1h-2zM35 39h2v1h-2zM38 39h1v1h-1zM29 40h1v1h-1zM30 43h1v1h-1zM32 43h2v1h-2zM35 43h2v1h-2zM39 43h1v1h-1zM16 44h1v1h-1zM24 44h1v1h-1zM29 44h1v1h-1zM38 44h1v1h-1zM1 45h1v1h-1zM5 45h1v1h-1zM20 45h1v1h-1zM28 45h3v1h-3zM35 45h2v1h-2zM38 45h1v1h-1zM43 45h1v1h-1zM15 46h1v1h-1zM20 46h1v1h-1zM24 46h1v1h-1zM28 46h2v1h-2zM32 46h2v1h-2zM40 46h1v1h-1zM20 47h1v1h-1zM24 47h1v1h-1zM28 47h3v1h-3zM33 47h1v1h-1zM36 47h5v1h-5zM43 47h1v1h-1zM1 48h1v1h-1zM9 48h1v1h-1zM20 48h1v1h-1zM28 48h1v1h-1zM32 48h1v1h-1zM35 48h1v1h-1zM37 48h2v1h-2zM40 48h1v1h-1zM43 48h1v1h-1zM29 49h2v1h-2zM35 49h1v1h-1zM43 49h1v1h-1zM9 50h1v1h-1zM24 50h1v1h-1zM29 50h1v1h-1zM33 50h1v1h-1zM38 50h1v1h-1zM43 50h1v1h-1zM24 51h1v1h-1zM28 51h3v1h-3zM43 51h1v1h-1zM4 52h2v1h-2zM29 52h1v1h-1zM31 52h1v1h-1zM40 52h1v1h-1zM43 52h1v1h-1z"/><path fill="#d1e5f0" d="M2 6h1v1h-1zM2 11h1v1h-1zM2 15h2v1h-2zM2 18h3v1h-3zM0 19h4v1h-4zM1 21h1v1h-1zM3 21h2v1h-2zM9 21h1v1h-1zM0 22h2v1h-2zM3 22h1v1h-1zM7 22h1v1h-1zM1 23h1v1h-1zM7 23h1v1h-1zM6 25h1v1h-1zM7 26h1v1h-1zM7 27h1v1h-1zM18 27h1v1h-1zM25 28h1v1h-1zM20 29h2v1h-2zM23 29h1v1h-1zM25 29h1v1h-1zM13 30h1v1h-1zM15 30h1v1h-1zM18 30h1v1h-1zM22 30h1v1h-1zM15 31h1v1h-1zM19 31h1v1h-1zM22 31h1v1h-1zM26 31h1v1h-1zM21 32h2v1h-2zM11 33h1v1h-1zM16 33h1v1h-1zM18 33h1v1h-1zM7 34h1v1h-1zM14 34h1v1h-1zM17 34h1v1h-1zM19 34h1v1h-1zM22 34h1v1h-1zM17 35h1v1h-1zM19 35h1v1h-1zM22 35h1v1h-1zM15 36h2v1h-2zM22 36h1v1h-1zM15 37h2v1h-2zM22 37h1v1h-1zM26 37h1v1h-1zM16 38h1v1h-1zM26 38h1v1h-1zM11 39h1v1h-1zM15 39h1v1h-1zM18 39h2v1h-2zM22 39h1v1h-1zM2 40h1v1h-1zM6 40h1v1h-1zM8 40h2v1h-2zM21 40h1v1h-1zM25 40h1v1h-1zM0 41h1v1h-1zM3 41h1v1h-1zM6 41h1v1h-1zM1 42h1v1h-1zM6 42h1v1h-1zM9 42h1v1h-1zM25 42h2v1h-2zM32 42h1v1h-1zM6 43h1v1h-1zM10 43h1v1h-1zM20 43h4v1h-4zM26 43h1v1h-1zM4 44h1v1h-1zM7 44h1v1h-1zM13 44h1v1h-1zM17 44h1v1h-1zM19 44h1v1h-1zM23 44h1v1h-1zM18 45h1v1h-1zM22 45h1v1h-1zM11 46h1v1h-1zM16 46h2v1h-2zM19 46h1v1h-1zM21 46h2v1h-2zM13 47h1v1h-1zM15 47h1v1h-1zM22 47h1v1h-1zM18 48h2v1h-2zM41 48h1v1h-1zM11 49h1v1h-1zM17 49h1v1h-1zM19 49h1v1h-1zM22 49h1v1h-1zM25 49h1v1h-1zM37 49h1v1h-1zM7 50h1v1h-1zM15 50h1v1h-1zM18 50h1v1h-1zM22 50h1v1h-1zM41 50h2v1h-2zM15 51h1v1h-1zM22 51h1v1h-1zM12 52h1v1h-1zM15 52h1v1h-1zM18 52h1v1h-1zM22 52h1v1h-1z"/><path fill="#e4eef4" d="M3 6h1v1h-1zM1 7h3v1h-3zM5 7h1v1h-1zM0 8h1v1h-1zM2 8h1v1h-1zM4 8h1v1h-1zM3 9h1v1h-1zM0 11h2v1h-2zM4 11h1v1h-1zM7 12h1v1h-1zM1 14h1v1h-1zM4 14h1v1h-1zM1 15h1v1h-1zM7 15h1v1h-1zM3 16h2v1h-2zM1 17h2v1h-2zM4 17h1v1h-1zM1 18h1v1h-1zM7 18h1v1h-1zM7 19h1v1h-1zM6 20h1v1h-1zM0 21h1v1h-1zM2 21h1v1h-1zM7 21h2v1h-2zM17 21h1v1h-1zM2 22h1v1h-1zM4 22h2v1h-2zM8 22h2v1h-2zM0 23h1v1h-1zM4 23h3v1h-3zM8 23h1v1h-1zM2 24h1v1h-1zM18 24h1v1h-1zM1 25h1v1h-1zM4 25h1v1h-1zM7 25h1v1h-1zM9 25h1v1h-1zM1 26h1v1h-1zM3 26h2v1h-2zM6 26h1v1h-1zM8 26h2v1h-2zM0 27h4v1h-4zM5 27h2v1h-2zM8 27h1v1h-1zM0 28h2v1h-2zM3 28h1v1h-1zM7 28h2v1h-2zM9 29h1v1h-1zM10 30h1v1h-1zM14 30h1v1h-1zM17 30h1v1h-1zM19 30h1v1h-1zM21 30h1v1h-1zM23 30h1v1h-1zM26 30h2v1h-2zM0 31h1v1h-1zM4 31h1v1h-1zM6 31h2v1h-2zM9 31h5v1h-5zM16 31h2v1h-2zM25 31h1v1h-1zM27 31h1v1h-1zM2 32h1v1h-1zM10 32h2v1h-2zM13 32h1v1h-1zM15 32h5v1h-5zM23 32h1v1h-1zM26 32h1v1h-1zM7 33h1v1h-1zM10 33h1v1h-1zM14 33h2v1h-2zM19 33h1v1h-1zM21 33h3v1h-3zM27 33h1v1h-1zM0 34h3v1h-3zM9 34h5v1h-5zM15 34h2v1h-2zM23 34h1v1h-1zM25 34h3v1h-3zM3 35h1v1h-1zM5 35h1v1h-1zM7 35h2v1h-2zM10 35h3v1h-3zM14 35h1v1h-1zM21 35h1v1h-1zM23 35h1v1h-1zM25 35h1v1h-1zM27 35h1v1h-1zM1 36h1v1h-1zM7 36h3v1h-3zM11 36h1v1h-1zM13 36h2v1h-2zM17 36h1v1h-1zM21 36h1v1h-1zM25 36h1v1h-1zM1 37h4v1h-4zM6 37h1v1h-1zM8 37h4v1h-4zM13 37h2v1h-2zM17 37h1v1h-1zM19 37h1v1h-1zM21 37h1v1h-1zM23 37h1v1h-1zM25 37h1v1h-1zM27 37h1v1h-1zM7 38h1v1h-1zM10 38h3v1h-3zM14 38h2v1h-2zM17 38h1v1h-1zM19 38h1v1h-1zM22 38h1v1h-1zM2 39h2v1h-2zM5 39h6v1h-6zM14 39h1v1h-1zM21 39h1v1h-1zM23 39h1v1h-1zM25 39h1v1h-1zM37 39h1v1h-1zM0 40h2v1h-2zM4 40h1v1h-1zM7 40h1v1h-1zM23 40h1v1h-1zM8 41h1v1h-1zM31 41h1v1h-1zM34 41h2v1h-2zM38 41h1v1h-1zM0 42h1v1h-1zM2 42h4v1h-4zM8 42h1v1h-1zM34 42h2v1h-2zM37 42h1v1h-1zM1 43h1v1h-1zM7 43h1v1h-1zM27 43h1v1h-1zM0 44h4v1h-4zM5 44h2v1h-2zM8 44h4v1h-4zM14 44h2v1h-2zM21 44h1v1h-1zM27 44h2v1h-2zM31 44h1v1h-1zM34 44h1v1h-1zM37 44h1v1h-1zM40 44h3v1h-3zM2 45h2v1h-2zM6 45h1v1h-1zM10 45h2v1h-2zM13 45h3v1h-3zM19 45h1v1h-1zM23 45h1v1h-1zM27 45h1v1h-1zM41 45h1v1h-1zM1 46h3v1h-3zM8 46h1v1h-1zM10 46h1v1h-1zM12 46h3v1h-3zM25 46h3v1h-3zM31 46h1v1h-1zM34 46h1v1h-1zM37 46h1v1h-1zM41 46h1v1h-1zM44 46h2v1h-2zM1 47h1v1h-1zM7 47h1v1h-1zM14 47h1v1h-1zM16 47h4v1h-4zM21 47h1v1h-1zM23 47h1v1h-1zM25 47h3v1h-3zM4 48h2v1h-2zM11 48h1v1h-1zM13 48h2v1h-2zM17 48h1v1h-1zM27 48h1v1h-1zM42 48h1v1h-1zM1 49h7v1h-7zM12 49h1v1h-1zM15 49h1v1h-1zM21 49h1v1h-1zM23 49h1v1h-1zM26 49h2v1h-2zM31 49h1v1h-1zM34 49h1v1h-1zM36 49h1v1h-1zM41 49h2v1h-2zM44 49h1v1h-1zM3 50h1v1h-1zM8 50h1v1h-1zM11 50h1v1h-1zM13 50h2v1h-2zM16 50h2v1h-2zM19 50h1v1h-1zM21 50h1v1h-1zM23 50h1v1h-1zM25 50h1v1h-1zM27 50h2v1h-2zM37 50h1v1h-1zM1 51h2v1h-2zM4 51h1v1h-1zM7 51h1v1h-1zM11 51h1v1h-1zM16 51h2v1h-2zM19 51h1v1h-1zM21 51h1v1h-1zM26 51h2v1h-2zM36 51h1v1h-1zM41 51h1v1h-1zM1 52h1v1h-1zM8 52h1v1h-1zM13 52h2v1h-2zM16 52h2v1h-2zM19 52h1v1h-1zM23 52h5v1h-5zM42 52h1v1h-1z"/><path fill="#f3a481" d="M5 6h1v1h-1zM1 9h1v1h-1zM8 9h1v1h-1zM12 18h2v1h-2zM12 19h1v1h-1zM10 20h1v1h-1zM13 20h3v1h-3zM19 20h1v1h-1zM25 26h1v1h-1zM19 27h1v1h-1zM28 30h1v1h-1zM33 34h1v1h-1zM32 36h1v1h-1zM5 38h1v1h-1zM37 38h1v1h-1zM0 43h1v1h-1zM37 43h1v1h-1zM46 49h1v1h-1zM25 51h1v1h-1zM40 51h1v1h-1zM49 51h1v1h-1zM50 52h1v1h-1z"/><path fill="#f8bfa4" d="M6 8h1v1h-1zM5 9h1v1h-1zM6 10h1v1h-1zM9 10h1v1h-1zM6 11h1v1h-1zM8 11h1v1h-1zM6 12h1v1h-1zM9 12h1v1h-1zM9 13h1v1h-1zM7 14h1v1h-1zM9 14h1v1h-1zM6 15h1v1h-1zM2 16h1v1h-1zM9 16h1v1h-1zM17 19h1v1h-1zM12 20h1v1h-1zM17 20h1v1h-1zM6 21h1v1h-1zM10 21h1v1h-1zM21 22h1v1h-1zM22 23h1v1h-1zM20 24h1v1h-1zM2 25h2v1h-2zM21 25h1v1h-1zM23 25h1v1h-1zM10 26h2v1h-2zM14 26h1v1h-1zM22 26h1v1h-1zM14 27h1v1h-1zM21 27h1v1h-1zM23 27h1v1h-1zM25 27h1v1h-1zM4 28h1v1h-1zM3 29h1v1h-1zM8 31h1v1h-1zM0 32h1v1h-1zM8 34h1v1h-1zM28 37h1v1h-1zM30 41h1v1h-1zM4 43h1v1h-1zM42 43h1v1h-1zM43 44h1v1h-1zM31 45h1v1h-1zM40 45h1v1h-1zM6 46h1v1h-1zM21 48h1v1h-1zM0 49h1v1h-1zM1 50h1v1h-1zM12 50h1v1h-1zM26 50h1v1h-1zM34 51h1v1h-1zM37 51h1v1h-1zM49 52h1v1h-1z"/><path fill="#b1182b" d="M6 9h1v1h-1zM11 13h1v1h-1zM10 14h1v1h-1zM13 14h1v1h-1zM11 15h1v1h-1zM13 17h1v1h-1zM17 18h1v1h-1zM16 19h1v1h-1zM46 47h1v1h-1z"/><path fill="#8a0b25" d="M10 11h1v1h-1zM11 12h1v1h-1zM14 15h1v1h-1zM20 26h1v1h-1z"/><path fill="#c43b3c" d="M10 12h1v1h-1zM10 13h1v1h-1zM12 13h1v1h-1zM12 14h1v1h-1zM13 15h1v1h-1zM11 16h1v1h-1zM14 16h2v1h-2zM11 17h1v1h-1zM14 17h1v1h-1zM14 18h1v1h-1zM14 19h1v1h-1zM20 21h1v1h-1zM47 48h1v1h-1z"/><path fill="#67001f" d="M11 14h1v1h-1z"/><path fill="#d6604d" d="M10 15h1v1h-1zM12 15h1v1h-1zM10 16h1v1h-1zM13 16h1v1h-1zM15 17h2v1h-2zM11 18h1v1h-1zM11 19h1v1h-1zM20 23h1v1h-1zM20 25h1v1h-1zM20 27h1v1h-1zM26 27h1v1h-1zM46 48h1v1h-1zM48 49h1v1h-1zM47 52h1v1h-1zM51 52h1v1h-1z"/><path fill="#e48066" d="M12 16h1v1h-1zM10 17h1v1h-1zM12 17h1v1h-1zM10 18h1v1h-1zM15 18h2v1h-2zM10 19h1v1h-1zM13 19h1v1h-1zM15 19h1v1h-1zM18 19h1v1h-1zM11 20h1v1h-1zM20 22h1v1h-1zM21 26h1v1h-1zM23 26h1v1h-1zM47 49h1v1h-1zM46 50h4v1h-4zM32 51h1v1h-1zM46 51h3v1h-3zM50 51h1v1h-1zM46 52h1v1h-1zM48 52h1v1h-1z"/><path fill="#b1d5e7" d="M6 22h1v1h-1zM12 28h1v1h-1zM21 28h1v1h-1zM26 28h2v1h-2zM10 29h1v1h-1zM12 29h1v1h-1zM22 29h1v1h-1zM26 29h1v1h-1zM14 31h1v1h-1zM18 31h1v1h-1zM17 33h1v1h-1zM15 35h1v1h-1zM26 35h1v1h-1zM18 36h2v1h-2zM18 37h1v1h-1zM18 38h1v1h-1zM20 40h1v1h-1zM22 40h1v1h-1zM2 41h1v1h-1zM7 41h1v1h-1zM9 41h1v1h-1zM20 41h1v1h-1zM22 41h1v1h-1zM25 41h1v1h-1zM11 42h1v1h-1zM20 42h4v1h-4zM27 42h1v1h-1zM12 43h3v1h-3zM16 43h2v1h-2zM18 44h1v1h-1zM18 46h1v1h-1zM23 46h1v1h-1zM15 48h1v1h-1zM22 48h1v1h-1zM18 49h1v1h-1zM2 52h1v1h-1z"/><path fill="#90c4dd" d="M10 28h1v1h-1zM13 28h1v1h-1zM17 28h1v1h-1zM22 28h1v1h-1zM13 29h1v1h-1zM17 39h1v1h-1zM12 40h1v1h-1zM16 40h2v1h-2zM26 40h2v1h-2zM21 41h1v1h-1zM23 41h1v1h-1zM26 41h2v1h-2zM7 42h1v1h-1zM12 42h3v1h-3zM16 42h1v1h-1zM11 43h1v1h-1zM18 43h2v1h-2z"/><path fill="#4393c3" d="M11 28h1v1h-1zM14 28h2v1h-2zM18 28h3v1h-3zM18 29h1v1h-1zM18 34h1v1h-1zM10 40h1v1h-1zM13 40h1v1h-1zM10 41h1v1h-1zM18 41h2v1h-2zM15 42h1v1h-1zM18 42h1v1h-1z"/><path fill="#6bacd1" d="M16 28h1v1h-1zM14 29h4v1h-4zM19 29h1v1h-1zM11 40h1v1h-1zM14 40h1v1h-1zM19 40h1v1h-1zM12 41h1v1h-1zM16 41h2v1h-2zM10 42h1v1h-1zM17 42h1v1h-1zM19 42h1v1h-1zM15 43h1v1h-1z"/><path fill="#327cb7" d="M11 29h1v1h-1zM15 40h1v1h-1zM18 40h1v1h-1zM13 41h2v1h-2z"/><path fill="#2065ab" d="M11 41h1v1h-1zM15 41h1v1h-1z"/></g><g id="s3"><path fill="#d6604d" d="M0 1h1v1h-1zM8 10h1v1h-1zM10 13h1v1h-1zM12 13h1v1h-1zM14 17h1v1h-1zM10 18h1v1h-1zM12 18h2v1h-2zM11 23h1v1h-1zM20 25h1v1h-1zM14 27h1v1h-1zM23 27h1v1h-1zM1 46h1v1h-1zM3 46h1v1h-1zM42 46h1v1h-1zM47 49h1v1h-1zM0 50h1v1h-1zM1 51h3v1h-3z"/><path fill="#e48066" d="M0 2h2v1h-2zM0 4h1v1h-1zM3 4h1v1h-1zM10 14h1v1h-1zM12 14h1v1h-1zM14 18h1v1h-1zM7 19h1v1h-1zM11 21h1v1h-1zM15 23h1v1h-1zM19 23h1v1h-1zM11 24h1v1h-1zM11 25h2v1h-2zM15 25h1v1h-1zM17 26h1v1h-1zM12 27h1v1h-1zM16 27h1v1h-1zM21 27h2v1h-2zM24 27h1v1h-1zM29 30h1v1h-1zM33 34h1v1h-1zM4 37h1v1h-1zM30 37h1v1h-1zM5 38h1v1h-1zM29 42h1v1h-1zM31 46h1v1h-1zM0 47h1v1h-1zM0 48h1v1h-1zM3 50h1v1h-1zM4 51h1v1h-1zM0 52h2v1h-2z"/><path fill="#f3a481" d="M0 3h1v1h-1zM2 3h1v1h-1zM1 4h2v1h-2zM8 11h1v1h-1zM13 14h1v1h-1zM5 19h1v1h-1zM15 21h1v1h-1zM11 22h1v1h-1zM14 22h1v1h-1zM19 22h1v1h-1zM21 22h1v1h-1zM7 23h1v1h-1zM12 23h1v1h-1zM17 23h1v1h-1zM22 23h1v1h-1zM23 24h1v1h-1zM7 25h1v1h-1zM19 25h1v1h-1zM8 27h1v1h-1zM13 27h1v1h-1zM17 27h1v1h-1zM20 27h1v1h-1zM25 27h1v1h-1zM7 29h1v1h-1zM8 30h1v1h-1zM30 31h1v1h-1zM29 36h1v1h-1zM2 37h1v1h-1zM31 37h1v1h-1zM0 42h1v1h-1zM31 43h1v1h-1zM3 47h2v1h-2zM1 48h1v1h-1zM4 48h1v1h-1zM0 49h2v1h-2zM4 49h1v1h-1zM1 50h2v1h-2zM2 52h3v1h-3z"/><path fill="#f8bfa4" d="M1 3h1v1h-1zM5 6h1v1h-1zM5 8h1v1h-1zM7 8h1v1h-1zM9 11h1v1h-1zM5 12h1v1h-1zM8 12h1v1h-1zM8 15h1v1h-1zM8 16h1v1h-1zM5 17h1v1h-1zM8 17h1v1h-1zM8 19h2v1h-2zM5 20h1v1h-1zM11 20h1v1h-1zM19 20h1v1h-1zM10 21h1v1h-1zM16 21h2v1h-2zM19 21h1v1h-1zM12 22h1v1h-1zM10 23h1v1h-1zM16 23h1v1h-1zM20 23h2v1h-2zM8 24h1v1h-1zM10 24h1v1h-1zM16 24h2v1h-2zM21 24h1v1h-1zM16 25h2v1h-2zM24 25h1v1h-1zM5 27h1v1h-1zM10 27h1v1h-1zM15 27h1v1h-1zM18 27h1v1h-1zM27 28h1v1h-1zM8 29h1v1h-1zM28 29h1v1h-1zM5 30h1v1h-1zM8 31h1v1h-1zM29 31h1v1h-1zM3 32h1v1h-1zM30 32h2v1h-2zM32 33h1v1h-1zM30 35h2v1h-2zM8 37h1v1h-1zM29 37h1v1h-1zM33 37h1v1h-1zM35 37h1v1h-1zM8 39h2v1h-2zM32 39h1v1h-1zM8 41h1v1h-1zM8 42h1v1h-1zM30 42h1v1h-1zM30 43h1v1h-1zM40 43h1v1h-1zM42 43h1v1h-1zM39 45h1v1h-1zM44 45h1v1h-1zM2 47h1v1h-1zM37 47h1v1h-1zM2 48h2v1h-2zM2 49h2v1h-2z"/><path fill="#327cb7" d="M0 5h1v1h-1zM0 6h1v1h-1zM1 11h1v1h-1zM4 11h1v1h-1zM1 13h1v1h-1zM4 14h1v1h-1zM0 17h1v1h-1zM2 17h1v1h-1zM1 18h1v1h-1zM15 29h1v1h-1zM15 30h1v1h-1zM16 35h1v1h-1zM19 35h1v1h-1zM27 35h1v1h-1zM12 36h1v1h-1zM14 36h1v1h-1zM19 36h1v1h-1zM27 36h1v1h-1zM18 37h1v1h-1zM10 44h2v1h-2zM13 44h2v1h-2zM18 44h1v1h-1zM15 45h1v1h-1zM10 46h1v1h-1zM11 47h1v1h-1zM15 47h2v1h-2zM18 47h2v1h-2zM21 47h1v1h-1zM27 47h1v1h-1zM6 48h1v1h-1zM19 48h3v1h-3zM24 48h2v1h-2zM10 49h1v1h-1zM17 49h1v1h-1zM23 49h1v1h-1zM12 50h1v1h-1zM17 50h1v1h-1zM24 50h1v1h-1zM10 51h1v1h-1zM14 51h1v1h-1zM16 51h1v1h-1zM20 51h1v1h-1zM11 52h1v1h-1zM14 52h1v1h-1zM18 52h2v1h-2z"/><path fill="#90c4dd" d="M1 5h1v1h-1zM0 8h1v1h-1zM2 9h1v1h-1zM4 12h1v1h-1zM2 14h1v1h-1zM0 20h1v1h-1zM0 23h1v1h-1zM3 25h1v1h-1zM0 27h1v1h-1zM3 27h1v1h-1zM10 29h1v1h-1zM17 29h1v1h-1zM23 29h3v1h-3zM10 30h1v1h-1zM27 30h1v1h-1zM12 31h1v1h-1zM17 31h1v1h-1zM20 31h1v1h-1zM23 31h1v1h-1zM12 35h1v1h-1zM21 35h2v1h-2zM24 35h2v1h-2zM22 36h1v1h-1zM12 37h1v1h-1zM20 44h1v1h-1zM22 44h1v1h-1zM24 44h1v1h-1zM10 45h1v1h-1zM16 45h1v1h-1zM20 45h2v1h-2zM17 46h1v1h-1zM9 47h2v1h-2zM22 47h1v1h-1zM8 48h2v1h-2zM8 49h2v1h-2zM9 50h1v1h-1zM25 50h1v1h-1zM5 51h2v1h-2zM21 51h1v1h-1zM25 51h1v1h-1zM6 52h1v1h-1zM10 52h1v1h-1zM17 52h1v1h-1zM20 52h1v1h-1zM22 52h1v1h-1zM25 52h1v1h-1z"/><path fill="#4393c3" d="M2 5h1v1h-1zM3 6h1v1h-1zM3 10h2v1h-2zM2 12h2v1h-2zM1 14h1v1h-1zM1 15h1v1h-1zM1 16h2v1h-2zM4 18h1v1h-1zM1 19h1v1h-1zM4 19h1v1h-1zM11 29h1v1h-1zM13 29h1v1h-1zM16 29h1v1h-1zM18 29h2v1h-2zM27 29h1v1h-1zM13 30h1v1h-1zM19 30h1v1h-1zM11 31h1v1h-1zM14 31h3v1h-3zM18 31h2v1h-2zM10 35h1v1h-1zM14 35h1v1h-1zM23 35h1v1h-1zM10 36h1v1h-1zM17 36h1v1h-1zM23 36h1v1h-1zM10 37h1v1h-1zM13 37h2v1h-2zM19 37h1v1h-1zM12 44h1v1h-1zM17 44h1v1h-1zM19 44h1v1h-1zM23 44h1v1h-1zM11 45h3v1h-3zM12 46h1v1h-1zM20 46h1v1h-1zM22 46h1v1h-1zM14 47h1v1h-1zM17 47h1v1h-1zM20 47h1v1h-1zM17 48h1v1h-1zM22 48h1v1h-1zM6 49h1v1h-1zM20 49h1v1h-1zM24 49h1v1h-1zM10 50h1v1h-1zM18 50h1v1h-1zM12 51h1v1h-1zM23 51h1v1h-1zM16 52h1v1h-1z"/><path fill="#6bacd1" d="M3 5h2v1h-2zM1 6h2v1h-2zM4 6h1v1h-1zM0 9h1v1h-1zM1 10h2v1h-2zM1 12h1v1h-1zM4 16h1v1h-1zM3 17h2v1h-2zM12 29h1v1h-1zM20 29h1v1h-1zM11 30h2v1h-2zM14 30h1v1h-1zM16 30h1v1h-1zM18 30h1v1h-1zM10 31h1v1h-1zM13 31h1v1h-1zM17 35h1v1h-1zM20 35h1v1h-1zM20 36h2v1h-2zM24 36h1v1h-1zM16 37h2v1h-2zM21 37h1v1h-1zM23 37h1v1h-1zM27 37h1v1h-1zM16 44h1v1h-1zM27 44h1v1h-1zM14 45h1v1h-1zM17 45h1v1h-1zM19 45h1v1h-1zM23 45h1v1h-1zM27 45h1v1h-1zM5 46h2v1h-2zM21 46h1v1h-1zM24 46h2v1h-2zM5 47h2v1h-2zM23 47h2v1h-2zM5 48h1v1h-1zM5 49h1v1h-1zM21 49h2v1h-2zM25 49h1v1h-1zM5 50h2v1h-2zM20 50h3v1h-3zM17 51h1v1h-1zM22 51h1v1h-1zM24 51h1v1h-1zM12 52h1v1h-1zM21 52h1v1h-1zM23 52h2v1h-2z"/><path fill="#d1e5f0" d="M0 7h1v1h-1zM3 7h1v1h-1zM2 8h1v1h-1zM1 9h1v1h-1zM1 17h1v1h-1zM1 20h4v1h-4zM0 21h1v1h-1zM2 21h2v1h-2zM0 22h1v1h-1zM3 22h1v1h-1zM1 23h2v1h-2zM4 23h1v1h-1zM0 24h2v1h-2zM3 24h1v1h-1zM0 25h1v1h-1zM2 25h1v1h-1zM0 26h1v1h-1zM3 26h1v1h-1zM6 26h1v1h-1zM12 26h2v1h-2zM18 26h1v1h-1zM20 26h1v1h-1zM1 27h2v1h-2zM13 28h2v1h-2zM18 28h1v1h-1zM23 28h1v1h-1zM22 29h1v1h-1zM9 32h1v1h-1zM13 32h1v1h-1zM15 32h1v1h-1zM18 32h1v1h-1zM20 32h1v1h-1zM26 32h1v1h-1zM13 33h1v1h-1zM13 34h1v1h-1zM15 34h1v1h-1zM23 34h1v1h-1zM28 34h1v1h-1zM26 35h1v1h-1zM7 36h1v1h-1zM26 36h1v1h-1zM13 38h3v1h-3zM18 38h1v1h-1zM13 39h1v1h-1zM15 39h1v1h-1zM18 39h1v1h-1zM12 40h1v1h-1zM15 40h1v1h-1zM18 40h1v1h-1zM20 40h1v1h-1zM36 40h1v1h-1zM10 41h1v1h-1zM14 41h3v1h-3zM18 41h1v1h-1zM14 42h1v1h-1zM13 43h1v1h-1zM15 43h1v1h-1zM18 43h1v1h-1zM38 43h1v1h-1zM25 44h2v1h-2zM6 45h1v1h-1zM25 45h1v1h-1zM12 47h1v1h-1zM26 47h1v1h-1zM35 47h1v1h-1zM7 48h1v1h-1zM35 48h2v1h-2zM44 48h1v1h-1zM7 49h1v1h-1zM26 49h1v1h-1zM28 49h1v1h-1zM35 49h1v1h-1zM41 49h1v1h-1zM43 49h2v1h-2zM45 50h1v1h-1zM8 51h1v1h-1zM28 51h1v1h-1zM44 51h1v1h-1zM8 52h1v1h-1z"/><path fill="#e4eef4" d="M1 7h2v1h-2zM4 7h1v1h-1zM4 8h1v1h-1zM7 13h1v1h-1zM7 14h1v1h-1zM7 15h1v1h-1zM1 21h1v1h-1zM4 21h1v1h-1zM1 22h2v1h-2zM4 22h1v1h-1zM3 23h1v1h-1zM2 24h1v1h-1zM4 24h1v1h-1zM1 25h1v1h-1zM4 25h1v1h-1zM1 26h2v1h-2zM4 26h1v1h-1zM14 26h2v1h-2zM22 26h1v1h-1zM24 26h1v1h-1zM10 28h3v1h-3zM15 28h2v1h-2zM19 28h1v1h-1zM25 28h2v1h-2zM22 30h1v1h-1zM10 32h1v1h-1zM12 32h1v1h-1zM14 32h1v1h-1zM16 32h2v1h-2zM19 32h1v1h-1zM21 32h1v1h-1zM24 32h1v1h-1zM27 32h1v1h-1zM14 33h1v1h-1zM16 33h1v1h-1zM18 33h2v1h-2zM3 34h1v1h-1zM10 34h1v1h-1zM12 34h1v1h-1zM16 34h2v1h-2zM19 34h1v1h-1zM24 34h2v1h-2zM27 34h1v1h-1zM0 35h2v1h-2zM3 35h2v1h-2zM1 36h4v1h-4zM25 36h1v1h-1zM34 36h1v1h-1zM6 38h2v1h-2zM10 38h1v1h-1zM12 38h1v1h-1zM16 38h1v1h-1zM19 38h5v1h-5zM26 38h2v1h-2zM36 38h1v1h-1zM4 39h1v1h-1zM12 39h1v1h-1zM14 39h1v1h-1zM16 39h1v1h-1zM20 39h1v1h-1zM24 39h4v1h-4zM34 39h1v1h-1zM4 40h1v1h-1zM11 40h1v1h-1zM16 40h2v1h-2zM19 40h1v1h-1zM21 40h3v1h-3zM25 40h3v1h-3zM6 41h2v1h-2zM12 41h1v1h-1zM19 41h2v1h-2zM22 41h1v1h-1zM26 41h2v1h-2zM36 41h1v1h-1zM1 42h1v1h-1zM12 42h2v1h-2zM15 42h1v1h-1zM18 42h1v1h-1zM27 42h1v1h-1zM10 43h1v1h-1zM12 43h1v1h-1zM14 43h1v1h-1zM20 43h1v1h-1zM22 43h3v1h-3zM35 43h2v1h-2zM6 44h2v1h-2zM9 44h1v1h-1zM34 44h1v1h-1zM40 44h1v1h-1zM3 45h1v1h-1zM8 46h1v1h-1zM26 46h1v1h-1zM36 46h1v1h-1zM7 47h1v1h-1zM34 47h1v1h-1zM36 47h1v1h-1zM40 47h1v1h-1zM43 47h1v1h-1zM28 48h2v1h-2zM31 48h1v1h-1zM34 48h1v1h-1zM37 48h2v1h-2zM41 48h1v1h-1zM43 48h1v1h-1zM45 48h1v1h-1zM29 49h1v1h-1zM31 49h2v1h-2zM37 49h4v1h-4zM45 49h1v1h-1zM7 50h1v1h-1zM28 50h1v1h-1zM35 50h2v1h-2zM40 50h1v1h-1zM44 50h1v1h-1zM7 51h1v1h-1zM26 51h1v1h-1zM35 51h1v1h-1zM7 52h1v1h-1zM26 52h1v1h-1zM28 52h1v1h-1zM30 52h1v1h-1zM35 52h2v1h-2zM44 52h1v1h-1z"/><path fill="#f7f6f6" d="M5 7h2v1h-2zM7 10h1v1h-1zM7 12h1v1h-1zM6 14h1v1h-1zM7 16h1v1h-1zM7 17h1v1h-1zM6 18h2v1h-2zM6 20h2v1h-2zM13 20h2v1h-2zM18 20h1v1h-1zM6 21h1v1h-1zM7 22h1v1h-1zM6 24h2v1h-2zM5 26h1v1h-1zM9 26h2v1h-2zM16 26h1v1h-1zM19 26h1v1h-1zM21 26h1v1h-1zM23 26h1v1h-1zM25 26h1v1h-1zM0 28h4v1h-4zM7 28h1v1h-1zM17 28h1v1h-1zM21 28h2v1h-2zM24 28h1v1h-1zM0 29h1v1h-1zM4 29h1v1h-1zM26 29h1v1h-1zM26 30h1v1h-1zM1 31h1v1h-1zM3 31h1v1h-1zM1 32h2v1h-2zM6 32h2v1h-2zM11 32h1v1h-1zM22 32h2v1h-2zM7 33h1v1h-1zM10 33h1v1h-1zM12 33h1v1h-1zM17 33h1v1h-1zM21 33h2v1h-2zM24 33h1v1h-1zM26 33h2v1h-2zM0 34h3v1h-3zM4 34h1v1h-1zM11 34h1v1h-1zM21 34h1v1h-1zM26 34h1v1h-1zM29 34h1v1h-1zM2 35h1v1h-1zM5 35h3v1h-3zM9 35h1v1h-1zM28 35h1v1h-1zM32 35h1v1h-1zM0 36h1v1h-1zM6 36h1v1h-1zM9 36h1v1h-1zM32 36h1v1h-1zM0 37h1v1h-1zM3 37h1v1h-1zM26 37h1v1h-1zM0 38h4v1h-4zM9 38h1v1h-1zM11 38h1v1h-1zM17 38h1v1h-1zM24 38h2v1h-2zM35 38h1v1h-1zM0 39h1v1h-1zM2 39h2v1h-2zM5 39h3v1h-3zM10 39h2v1h-2zM17 39h1v1h-1zM19 39h1v1h-1zM21 39h3v1h-3zM35 39h2v1h-2zM0 40h4v1h-4zM5 40h3v1h-3zM24 40h1v1h-1zM28 40h1v1h-1zM31 40h5v1h-5zM0 41h1v1h-1zM2 41h3v1h-3zM11 41h1v1h-1zM13 41h1v1h-1zM21 41h1v1h-1zM23 41h3v1h-3zM28 41h1v1h-1zM33 41h3v1h-3zM38 41h1v1h-1zM4 42h1v1h-1zM10 42h1v1h-1zM16 42h1v1h-1zM19 42h2v1h-2zM25 42h1v1h-1zM36 42h1v1h-1zM39 42h2v1h-2zM0 43h2v1h-2zM3 43h1v1h-1zM6 43h2v1h-2zM9 43h1v1h-1zM16 43h2v1h-2zM19 43h1v1h-1zM25 43h4v1h-4zM33 43h2v1h-2zM39 43h1v1h-1zM41 43h1v1h-1zM3 44h1v1h-1zM5 44h1v1h-1zM28 44h1v1h-1zM35 44h2v1h-2zM38 44h1v1h-1zM41 44h1v1h-1zM8 45h2v1h-2zM32 45h1v1h-1zM34 45h1v1h-1zM36 45h1v1h-1zM41 45h1v1h-1zM43 45h1v1h-1zM7 46h1v1h-1zM35 46h1v1h-1zM40 46h1v1h-1zM44 46h2v1h-2zM28 47h2v1h-2zM31 47h2v1h-2zM39 47h1v1h-1zM41 47h1v1h-1zM44 47h1v1h-1zM30 48h1v1h-1zM32 48h1v1h-1zM39 48h1v1h-1zM42 48h1v1h-1zM30 49h1v1h-1zM33 49h2v1h-2zM42 49h1v1h-1zM32 50h3v1h-3zM37 50h3v1h-3zM41 50h3v1h-3zM31 51h1v1h-1zM36 51h1v1h-1zM40 51h2v1h-2zM45 51h1v1h-1zM29 52h1v1h-1zM31 52h2v1h-2zM34 52h1v1h-1zM38 52h3v1h-3zM43 52h1v1h-1zM45 52h1v1h-1z"/><path fill="#b1d5e7" d="M1 8h1v1h-1zM3 8h1v1h-1zM3 9h2v1h-2zM4 27h1v1h-1zM21 29h1v1h-1zM17 30h1v1h-1zM20 30h2v1h-2zM23 30h2v1h-2zM21 31h2v1h-2zM24 31h2v1h-2zM27 31h1v1h-1zM15 33h1v1h-1zM20 33h1v1h-1zM18 34h1v1h-1zM20 37h1v1h-1zM22 37h1v1h-1zM24 37h2v1h-2zM13 40h1v1h-1zM17 41h1v1h-1zM21 43h1v1h-1zM21 44h1v1h-1zM39 44h1v1h-1zM22 45h1v1h-1zM24 45h1v1h-1zM9 46h1v1h-1zM8 47h1v1h-1zM25 47h1v1h-1zM26 48h1v1h-1zM33 48h1v1h-1zM36 49h1v1h-1zM8 50h1v1h-1zM26 50h1v1h-1zM5 52h1v1h-1zM9 52h1v1h-1zM37 52h1v1h-1z"/><path fill="#fddbc7" d="M6 8h1v1h-1zM5 9h2v1h-2zM5 10h2v1h-2zM6 11h2v1h-2zM6 12h1v1h-1zM9 12h1v1h-1zM8 14h1v1h-1zM5 15h1v1h-1zM9 15h1v1h-1zM5 16h2v1h-2zM9 16h1v1h-1zM6 17h1v1h-1zM9 17h1v1h-1zM6 19h1v1h-1zM8 20h1v1h-1zM15 20h3v1h-3zM5 21h1v1h-1zM8 21h2v1h-2zM12 21h1v1h-1zM14 21h1v1h-1zM20 21h1v1h-1zM5 22h1v1h-1zM8 22h3v1h-3zM16 22h2v1h-2zM20 22h1v1h-1zM5 23h1v1h-1zM9 23h1v1h-1zM13 23h2v1h-2zM18 23h1v1h-1zM9 24h1v1h-1zM12 24h1v1h-1zM14 24h2v1h-2zM20 24h1v1h-1zM22 24h1v1h-1zM5 25h1v1h-1zM8 25h1v1h-1zM10 25h1v1h-1zM21 25h3v1h-3zM7 26h1v1h-1zM6 27h2v1h-2zM9 27h1v1h-1zM8 28h1v1h-1zM20 28h1v1h-1zM5 29h1v1h-1zM1 30h1v1h-1zM4 30h1v1h-1zM6 30h2v1h-2zM9 30h1v1h-1zM28 30h1v1h-1zM6 31h1v1h-1zM26 31h1v1h-1zM28 31h1v1h-1zM8 32h1v1h-1zM3 33h1v1h-1zM8 33h1v1h-1zM25 33h1v1h-1zM28 33h4v1h-4zM7 34h1v1h-1zM20 34h1v1h-1zM30 34h1v1h-1zM29 35h1v1h-1zM8 36h1v1h-1zM30 36h2v1h-2zM6 37h1v1h-1zM9 37h1v1h-1zM32 37h1v1h-1zM34 37h1v1h-1zM36 37h1v1h-1zM8 38h1v1h-1zM29 38h2v1h-2zM37 38h1v1h-1zM28 39h4v1h-4zM37 39h2v1h-2zM8 40h1v1h-1zM10 40h1v1h-1zM29 40h2v1h-2zM9 42h1v1h-1zM28 42h1v1h-1zM31 42h3v1h-3zM35 42h1v1h-1zM37 42h2v1h-2zM29 43h1v1h-1zM32 43h1v1h-1zM0 44h1v1h-1zM30 44h1v1h-1zM32 44h1v1h-1zM1 45h2v1h-2zM4 45h1v1h-1zM28 45h1v1h-1zM30 45h2v1h-2zM40 45h1v1h-1zM28 46h1v1h-1zM30 46h1v1h-1zM33 46h1v1h-1zM38 46h2v1h-2zM1 47h1v1h-1zM45 47h1v1h-1zM40 48h1v1h-1zM4 50h1v1h-1zM30 51h1v1h-1zM33 51h1v1h-1zM41 52h1v1h-1z"/><path fill="#fae9df" d="M7 9h1v1h-1zM9 10h1v1h-1zM5 13h2v1h-2zM8 13h2v1h-2zM5 14h1v1h-1zM9 14h1v1h-1zM6 15h1v1h-1zM5 18h1v1h-1zM8 18h2v1h-2zM9 20h2v1h-2zM12 20h1v1h-1zM7 21h1v1h-1zM13 21h1v1h-1zM18 21h1v1h-1zM6 22h1v1h-1zM13 22h1v1h-1zM15 22h1v1h-1zM18 22h1v1h-1zM6 23h1v1h-1zM8 23h1v1h-1zM5 24h1v1h-1zM13 24h1v1h-1zM18 24h1v1h-1zM6 25h1v1h-1zM9 25h1v1h-1zM13 25h2v1h-2zM18 25h1v1h-1zM8 26h1v1h-1zM11 26h1v1h-1zM26 27h1v1h-1zM4 28h3v1h-3zM9 28h1v1h-1zM1 29h3v1h-3zM6 29h1v1h-1zM9 29h1v1h-1zM0 30h1v1h-1zM2 30h2v1h-2zM25 30h1v1h-1zM0 31h1v1h-1zM2 31h1v1h-1zM4 31h2v1h-2zM7 31h1v1h-1zM9 31h1v1h-1zM0 32h1v1h-1zM4 32h2v1h-2zM25 32h1v1h-1zM28 32h2v1h-2zM0 33h3v1h-3zM4 33h3v1h-3zM9 33h1v1h-1zM11 33h1v1h-1zM23 33h1v1h-1zM5 34h2v1h-2zM8 34h2v1h-2zM14 34h1v1h-1zM22 34h1v1h-1zM31 34h2v1h-2zM8 35h1v1h-1zM33 35h2v1h-2zM5 36h1v1h-1zM28 36h1v1h-1zM33 36h1v1h-1zM35 36h1v1h-1zM1 37h1v1h-1zM5 37h1v1h-1zM7 37h1v1h-1zM28 37h1v1h-1zM4 38h1v1h-1zM28 38h1v1h-1zM31 38h4v1h-4zM1 39h1v1h-1zM33 39h1v1h-1zM9 40h1v1h-1zM14 40h1v1h-1zM37 40h3v1h-3zM1 41h1v1h-1zM5 41h1v1h-1zM9 41h1v1h-1zM29 41h4v1h-4zM37 41h1v1h-1zM39 41h2v1h-2zM2 42h2v1h-2zM5 42h3v1h-3zM11 42h1v1h-1zM17 42h1v1h-1zM21 42h4v1h-4zM26 42h1v1h-1zM34 42h1v1h-1zM41 42h1v1h-1zM2 43h1v1h-1zM4 43h2v1h-2zM8 43h1v1h-1zM11 43h1v1h-1zM37 43h1v1h-1zM1 44h2v1h-2zM4 44h1v1h-1zM8 44h1v1h-1zM29 44h1v1h-1zM31 44h1v1h-1zM33 44h1v1h-1zM37 44h1v1h-1zM42 44h2v1h-2zM0 45h1v1h-1zM5 45h1v1h-1zM7 45h1v1h-1zM26 45h1v1h-1zM29 45h1v1h-1zM33 45h1v1h-1zM35 45h1v1h-1zM37 45h2v1h-2zM42 45h1v1h-1zM29 46h1v1h-1zM32 46h1v1h-1zM34 46h1v1h-1zM37 46h1v1h-1zM41 46h1v1h-1zM43 46h1v1h-1zM30 47h1v1h-1zM33 47h1v1h-1zM38 47h1v1h-1zM42 47h1v1h-1zM29 50h3v1h-3zM9 51h1v1h-1zM29 51h1v1h-1zM32 51h1v1h-1zM34 51h1v1h-1zM37 51h3v1h-3zM42 51h2v1h-2zM33 52h1v1h-1zM42 52h1v1h-1z"/><path fill="#c43b3c" d="M8 9h1v1h-1zM10 12h1v1h-1zM10 15h1v1h-1zM10 16h1v1h-1zM12 16h1v1h-1zM14 16h1v1h-1zM10 17h1v1h-1zM13 17h1v1h-1zM15 18h2v1h-2zM11 27h1v1h-1zM4 46h1v1h-1zM0 51h1v1h-1zM49 52h1v1h-1z"/><path fill="#2065ab" d="M0 10h1v1h-1zM2 11h1v1h-1zM0 12h1v1h-1zM2 13h3v1h-3zM3 14h1v1h-1zM2 15h3v1h-3zM3 16h1v1h-1zM2 18h2v1h-2zM2 19h2v1h-2zM14 29h1v1h-1zM11 35h1v1h-1zM13 35h1v1h-1zM15 35h1v1h-1zM11 36h1v1h-1zM16 36h1v1h-1zM18 36h1v1h-1zM15 37h1v1h-1zM15 44h1v1h-1zM14 46h1v1h-1zM16 46h1v1h-1zM23 46h1v1h-1zM27 46h1v1h-1zM10 48h1v1h-1zM12 48h1v1h-1zM14 48h1v1h-1zM18 48h1v1h-1zM12 49h1v1h-1zM14 49h1v1h-1zM18 49h1v1h-1zM16 50h1v1h-1zM23 50h1v1h-1zM11 51h1v1h-1zM18 51h2v1h-2zM27 51h1v1h-1zM13 52h1v1h-1zM15 52h1v1h-1zM27 52h1v1h-1z"/><path fill="#053061" d="M0 11h1v1h-1zM0 13h1v1h-1zM0 15h1v1h-1zM0 18h1v1h-1zM0 19h1v1h-1zM15 36h1v1h-1zM11 46h1v1h-1zM15 46h1v1h-1zM18 46h2v1h-2zM15 48h1v1h-1zM11 49h1v1h-1zM19 49h1v1h-1zM11 50h1v1h-1zM15 50h1v1h-1zM27 50h1v1h-1z"/><path fill="#124984" d="M3 11h1v1h-1zM0 14h1v1h-1zM0 16h1v1h-1zM18 35h1v1h-1zM13 36h1v1h-1zM11 37h1v1h-1zM18 45h1v1h-1zM13 46h1v1h-1zM13 47h1v1h-1zM11 48h1v1h-1zM13 48h1v1h-1zM16 48h1v1h-1zM23 48h1v1h-1zM27 48h1v1h-1zM13 49h1v1h-1zM15 49h2v1h-2zM27 49h1v1h-1zM13 50h2v1h-2zM19 50h1v1h-1zM13 51h1v1h-1zM15 51h1v1h-1z"/><path fill="#b1182b" d="M5 11h1v1h-1zM12 15h3v1h-3zM13 16h1v1h-1zM12 17h1v1h-1zM17 18h1v1h-1zM14 19h1v1h-1zM19 24h1v1h-1zM0 46h1v1h-1zM47 48h1v1h-1zM47 50h1v1h-1zM49 51h1v1h-1zM47 52h2v1h-2z"/><path fill="#67001f" d="M10 11h1v1h-1zM11 12h1v1h-1zM11 13h1v1h-1zM11 14h1v1h-1zM11 15h1v1h-1zM11 16h1v1h-1zM15 16h1v1h-1zM11 17h1v1h-1zM11 19h1v1h-1zM15 19h4v1h-4zM46 47h1v1h-1zM46 48h1v1h-1zM46 49h1v1h-1zM48 49h1v1h-1zM46 50h1v1h-1zM46 51h3v1h-3zM50 51h1v1h-1zM46 52h1v1h-1zM51 52h1v1h-1z"/><path fill="#8a0b25" d="M15 17h2v1h-2zM11 18h1v1h-1zM10 19h1v1h-1zM12 19h2v1h-2zM19 27h1v1h-1zM2 46h1v1h-1zM48 50h2v1h-2zM50 52h1v1h-1z"/></g><g id="s3m"><path fill="#f8bfa4" d="M0 1h1v1h-1zM0 5h1v1h-1zM3 8h1v1h-1zM5 9h1v1h-1zM2 11h1v1h-1zM10 11h1v1h-1zM5 13h1v1h-1zM12 13h1v1h-1zM14 16h1v1h-1zM2 17h1v1h-1zM2 18h1v1h-1zM8 18h1v1h-1zM13 19h1v1h-1zM16 19h1v1h-1zM10 21h1v1h-1zM19 21h1v1h-1zM13 23h1v1h-1zM18 23h1v1h-1zM13 24h1v1h-1zM5 25h1v1h-1zM2 26h1v1h-1zM20 27h2v1h-2zM23 27h1v1h-1zM23 29h1v1h-1zM3 30h1v1h-1zM28 31h1v1h-1zM28 34h1v1h-1zM24 35h1v1h-1zM25 36h1v1h-1zM18 39h1v1h-1zM4 40h1v1h-1zM17 40h1v1h-1zM21 40h2v1h-2zM32 40h1v1h-1zM1 42h1v1h-1zM26 43h1v1h-1zM30 43h1v1h-1zM9 45h1v1h-1zM28 45h1v1h-1zM44 45h1v1h-1zM0 47h1v1h-1zM16 47h1v1h-1zM5 48h2v1h-2zM11 48h1v1h-1zM39 48h1v1h-1zM3 50h1v1h-1zM32 50h1v1h-1zM5 51h1v1h-1zM24 51h1v1h-1zM39 51h1v1h-1zM4 52h1v1h-1zM7 52h1v1h-1zM46 52h5v1h-5z"/><path fill="#fddbc7" d="M0 2h1v1h-1zM2 4h1v1h-1zM6 8h1v1h-1zM6 9h1v1h-1zM9 10h1v1h-1zM5 11h1v1h-1zM7 11h1v1h-1zM4 12h2v1h-2zM8 12h1v1h-1zM11 12h1v1h-1zM3 13h1v1h-1zM6 13h2v1h-2zM11 13h1v1h-1zM10 14h1v1h-1zM9 15h1v1h-1zM11 15h1v1h-1zM10 16h1v1h-1zM16 18h1v1h-1zM10 19h1v1h-1zM17 19h1v1h-1zM13 21h1v1h-1zM12 22h1v1h-1zM17 22h1v1h-1zM11 23h1v1h-1zM15 23h1v1h-1zM17 23h1v1h-1zM12 24h1v1h-1zM15 24h1v1h-1zM19 24h1v1h-1zM1 25h1v1h-1zM11 25h1v1h-1zM23 25h1v1h-1zM24 26h2v1h-2zM13 27h1v1h-1zM26 28h1v1h-1zM8 29h1v1h-1zM9 31h1v1h-1zM30 31h1v1h-1zM31 32h1v1h-1zM0 33h1v1h-1zM30 34h1v1h-1zM11 35h1v1h-1zM30 35h1v1h-1zM34 35h1v1h-1zM23 36h1v1h-1zM2 37h1v1h-1zM13 37h1v1h-1zM28 37h1v1h-1zM1 38h1v1h-1zM0 39h1v1h-1zM11 39h1v1h-1zM30 39h3v1h-3zM35 39h1v1h-1zM3 40h1v1h-1zM11 40h1v1h-1zM30 40h1v1h-1zM4 41h1v1h-1zM40 41h1v1h-1zM3 42h2v1h-2zM6 42h1v1h-1zM9 42h1v1h-1zM13 42h1v1h-1zM19 42h1v1h-1zM22 42h2v1h-2zM27 42h1v1h-1zM30 42h1v1h-1zM32 42h2v1h-2zM35 42h1v1h-1zM16 44h1v1h-1zM43 44h1v1h-1zM2 45h1v1h-1zM25 45h1v1h-1zM0 46h1v1h-1zM11 46h1v1h-1zM26 46h1v1h-1zM4 47h1v1h-1zM11 47h1v1h-1zM36 47h1v1h-1zM11 49h1v1h-1zM11 50h1v1h-1zM17 50h1v1h-1zM40 50h1v1h-1zM45 50h1v1h-1zM0 51h1v1h-1zM40 51h1v1h-1zM33 52h2v1h-2zM42 52h1v1h-1zM45 52h1v1h-1z"/><path fill="#f7f6f6" d="M1 2h1v1h-1zM1 4h1v1h-1zM3 6h1v1h-1zM3 7h1v1h-1zM2 8h1v1h-1zM1 9h1v1h-1zM3 9h2v1h-2zM5 10h2v1h-2zM8 10h1v1h-1zM0 11h2v1h-2zM4 11h1v1h-1zM8 11h2v1h-2zM3 12h1v1h-1zM0 13h1v1h-1zM2 13h1v1h-1zM6 14h1v1h-1zM8 14h1v1h-1zM11 14h1v1h-1zM5 15h4v1h-4zM5 16h1v1h-1zM9 16h1v1h-1zM11 16h1v1h-1zM6 17h1v1h-1zM6 18h2v1h-2zM5 19h1v1h-1zM7 19h1v1h-1zM10 20h1v1h-1zM14 20h2v1h-2zM19 20h1v1h-1zM5 21h1v1h-1zM9 21h1v1h-1zM11 21h1v1h-1zM14 21h1v1h-1zM18 21h1v1h-1zM2 22h2v1h-2zM5 22h1v1h-1zM9 22h1v1h-1zM11 22h1v1h-1zM14 22h1v1h-1zM19 22h1v1h-1zM0 23h1v1h-1zM3 23h1v1h-1zM5 23h1v1h-1zM8 23h2v1h-2zM3 24h1v1h-1zM7 24h1v1h-1zM11 24h1v1h-1zM16 24h1v1h-1zM3 25h1v1h-1zM7 25h1v1h-1zM9 25h1v1h-1zM12 25h1v1h-1zM14 25h1v1h-1zM16 25h1v1h-1zM19 25h1v1h-1zM24 25h1v1h-1zM4 26h1v1h-1zM7 26h1v1h-1zM12 26h2v1h-2zM17 26h1v1h-1zM22 26h1v1h-1zM9 27h3v1h-3zM16 27h3v1h-3zM25 27h1v1h-1zM6 28h1v1h-1zM11 28h1v1h-1zM13 28h1v1h-1zM23 28h1v1h-1zM0 29h1v1h-1zM2 29h2v1h-2zM5 29h1v1h-1zM9 29h1v1h-1zM24 29h1v1h-1zM28 29h1v1h-1zM2 30h1v1h-1zM5 30h1v1h-1zM7 30h3v1h-3zM12 30h2v1h-2zM18 30h1v1h-1zM22 30h2v1h-2zM25 30h2v1h-2zM2 31h2v1h-2zM5 31h1v1h-1zM11 31h1v1h-1zM13 31h1v1h-1zM25 31h1v1h-1zM27 31h1v1h-1zM0 32h2v1h-2zM3 32h1v1h-1zM7 32h1v1h-1zM9 32h1v1h-1zM12 32h1v1h-1zM16 32h1v1h-1zM18 32h1v1h-1zM22 32h6v1h-6zM3 33h1v1h-1zM6 33h2v1h-2zM11 33h1v1h-1zM29 33h1v1h-1zM31 33h1v1h-1zM0 34h1v1h-1zM6 34h4v1h-4zM18 34h3v1h-3zM22 34h3v1h-3zM26 34h1v1h-1zM0 35h1v1h-1zM3 35h1v1h-1zM13 35h1v1h-1zM22 35h1v1h-1zM27 35h1v1h-1zM29 35h1v1h-1zM7 36h1v1h-1zM9 36h1v1h-1zM20 36h1v1h-1zM26 36h1v1h-1zM28 36h1v1h-1zM31 36h1v1h-1zM34 36h1v1h-1zM0 37h2v1h-2zM3 37h1v1h-1zM5 37h1v1h-1zM7 37h1v1h-1zM19 37h2v1h-2zM22 37h1v1h-1zM24 37h2v1h-2zM27 37h1v1h-1zM29 37h1v1h-1zM33 37h1v1h-1zM2 38h2v1h-2zM5 38h1v1h-1zM7 38h1v1h-1zM9 38h2v1h-2zM13 38h1v1h-1zM15 38h1v1h-1zM24 38h2v1h-2zM28 38h1v1h-1zM33 38h1v1h-1zM35 38h1v1h-1zM37 38h1v1h-1zM3 39h1v1h-1zM5 39h1v1h-1zM7 39h1v1h-1zM19 39h2v1h-2zM22 39h3v1h-3zM28 39h2v1h-2zM33 39h1v1h-1zM37 39h1v1h-1zM1 40h1v1h-1zM5 40h6v1h-6zM12 40h1v1h-1zM14 40h1v1h-1zM16 40h1v1h-1zM27 40h3v1h-3zM31 40h1v1h-1zM33 40h1v1h-1zM36 40h3v1h-3zM3 41h1v1h-1zM6 41h1v1h-1zM8 41h1v1h-1zM17 41h1v1h-1zM22 41h1v1h-1zM28 41h1v1h-1zM31 41h3v1h-3zM35 41h3v1h-3zM2 42h1v1h-1zM10 42h1v1h-1zM14 42h1v1h-1zM21 42h1v1h-1zM26 42h1v1h-1zM28 42h1v1h-1zM3 43h1v1h-1zM7 43h3v1h-3zM13 43h1v1h-1zM19 43h1v1h-1zM22 43h1v1h-1zM24 43h1v1h-1zM31 43h1v1h-1zM33 43h1v1h-1zM38 43h1v1h-1zM41 43h2v1h-2zM0 44h1v1h-1zM3 44h1v1h-1zM6 44h1v1h-1zM11 44h1v1h-1zM13 44h2v1h-2zM30 44h1v1h-1zM42 44h1v1h-1zM3 45h1v1h-1zM11 45h1v1h-1zM23 45h1v1h-1zM30 45h3v1h-3zM39 45h1v1h-1zM43 45h1v1h-1zM2 46h1v1h-1zM5 46h5v1h-5zM24 46h1v1h-1zM30 46h1v1h-1zM34 46h1v1h-1zM39 46h2v1h-2zM44 46h2v1h-2zM2 47h1v1h-1zM6 47h2v1h-2zM12 47h1v1h-1zM18 47h1v1h-1zM23 47h1v1h-1zM25 47h1v1h-1zM31 47h2v1h-2zM34 47h2v1h-2zM38 47h1v1h-1zM41 47h1v1h-1zM43 47h2v1h-2zM9 48h1v1h-1zM13 48h1v1h-1zM29 48h1v1h-1zM35 48h1v1h-1zM40 48h4v1h-4zM2 49h1v1h-1zM4 49h4v1h-4zM9 49h1v1h-1zM15 49h1v1h-1zM21 49h1v1h-1zM25 49h1v1h-1zM28 49h1v1h-1zM31 49h1v1h-1zM35 49h1v1h-1zM39 49h2v1h-2zM43 49h1v1h-1zM0 50h1v1h-1zM7 50h2v1h-2zM22 50h2v1h-2zM25 50h3v1h-3zM29 50h2v1h-2zM34 50h4v1h-4zM39 50h1v1h-1zM41 50h1v1h-1zM44 50h1v1h-1zM3 51h1v1h-1zM6 51h2v1h-2zM9 51h1v1h-1zM11 51h3v1h-3zM23 51h1v1h-1zM29 51h2v1h-2zM32 51h2v1h-2zM35 51h1v1h-1zM37 51h1v1h-1zM42 51h3v1h-3zM0 52h1v1h-1zM6 52h1v1h-1zM8 52h1v1h-1zM10 52h1v1h-1zM12 52h1v1h-1zM15 52h1v1h-1zM19 52h1v1h-1zM21 52h1v1h-1zM23 52h1v1h-1zM26 52h2v1h-2zM29 52h1v1h-1zM36 52h1v1h-1zM41 52h1v1h-1z"/><path fill="#f3a481" d="M0 3h1v1h-1zM2 3h1v1h-1zM0 4h1v1h-1zM3 4h1v1h-1zM5 6h1v1h-1zM5 7h2v1h-2zM8 9h1v1h-1zM10 12h1v1h-1zM10 13h1v1h-1zM14 15h1v1h-1zM12 16h2v1h-2zM15 16h1v1h-1zM14 17h1v1h-1zM10 18h1v1h-1zM15 18h1v1h-1zM12 19h1v1h-1zM15 19h1v1h-1zM18 19h1v1h-1zM21 22h1v1h-1zM20 23h2v1h-2zM5 24h1v1h-1zM20 24h2v1h-2zM22 27h1v1h-1zM24 27h1v1h-1zM24 30h1v1h-1zM28 35h1v1h-1zM5 41h1v1h-1zM0 42h1v1h-1zM7 42h1v1h-1zM12 49h1v1h-1zM11 52h1v1h-1zM24 52h1v1h-1zM30 52h1v1h-1zM35 52h1v1h-1zM43 52h1v1h-1zM51 52h1v1h-1z"/><path fill="#fae9df" d="M1 3h1v1h-1zM3 5h1v1h-1zM2 9h1v1h-1zM7 10h1v1h-1zM3 11h1v1h-1zM6 11h1v1h-1zM6 12h2v1h-2zM9 12h1v1h-1zM8 13h1v1h-1zM5 14h1v1h-1zM7 14h1v1h-1zM9 14h1v1h-1zM6 16h1v1h-1zM7 17h3v1h-3zM11 17h1v1h-1zM5 18h1v1h-1zM9 18h1v1h-1zM11 18h1v1h-1zM14 18h1v1h-1zM9 19h1v1h-1zM11 19h1v1h-1zM11 20h3v1h-3zM17 20h2v1h-2zM12 21h1v1h-1zM15 21h1v1h-1zM17 21h1v1h-1zM0 22h1v1h-1zM15 22h2v1h-2zM18 22h1v1h-1zM2 23h1v1h-1zM7 23h1v1h-1zM10 23h1v1h-1zM12 23h1v1h-1zM14 23h1v1h-1zM16 23h1v1h-1zM19 23h1v1h-1zM6 24h1v1h-1zM9 24h2v1h-2zM14 24h1v1h-1zM17 24h1v1h-1zM10 25h1v1h-1zM15 25h1v1h-1zM17 25h2v1h-2zM20 25h2v1h-2zM3 26h1v1h-1zM9 26h1v1h-1zM11 26h1v1h-1zM20 26h2v1h-2zM23 26h1v1h-1zM14 27h2v1h-2zM26 27h1v1h-1zM24 28h1v1h-1zM11 29h1v1h-1zM16 29h1v1h-1zM11 30h1v1h-1zM29 30h1v1h-1zM6 32h1v1h-1zM8 32h1v1h-1zM11 32h1v1h-1zM13 32h1v1h-1zM30 32h1v1h-1zM9 33h1v1h-1zM18 33h1v1h-1zM20 33h1v1h-1zM30 33h1v1h-1zM32 33h1v1h-1zM3 34h1v1h-1zM11 34h1v1h-1zM13 34h1v1h-1zM25 34h1v1h-1zM31 34h3v1h-3zM1 35h2v1h-2zM5 35h1v1h-1zM9 35h1v1h-1zM31 35h3v1h-3zM30 36h1v1h-1zM33 36h1v1h-1zM35 36h1v1h-1zM9 37h1v1h-1zM11 37h1v1h-1zM18 37h1v1h-1zM23 37h1v1h-1zM30 37h1v1h-1zM34 37h3v1h-3zM30 38h1v1h-1zM32 38h1v1h-1zM34 38h1v1h-1zM9 39h1v1h-1zM13 39h1v1h-1zM26 39h1v1h-1zM36 39h1v1h-1zM0 40h1v1h-1zM2 40h1v1h-1zM13 40h1v1h-1zM18 40h1v1h-1zM23 40h1v1h-1zM25 40h1v1h-1zM34 40h2v1h-2zM2 41h1v1h-1zM7 41h1v1h-1zM9 41h1v1h-1zM11 41h1v1h-1zM13 41h1v1h-1zM34 41h1v1h-1zM38 41h2v1h-2zM5 42h1v1h-1zM8 42h1v1h-1zM12 42h1v1h-1zM15 42h4v1h-4zM20 42h1v1h-1zM25 42h1v1h-1zM29 42h1v1h-1zM31 42h1v1h-1zM34 42h1v1h-1zM37 42h2v1h-2zM40 42h2v1h-2zM1 43h1v1h-1zM32 43h1v1h-1zM34 43h2v1h-2zM39 43h2v1h-2zM34 44h1v1h-1zM39 44h1v1h-1zM5 45h1v1h-1zM10 45h1v1h-1zM35 45h1v1h-1zM42 45h1v1h-1zM3 46h1v1h-1zM35 46h1v1h-1zM42 46h1v1h-1zM3 47h1v1h-1zM9 47h1v1h-1zM30 47h1v1h-1zM37 47h1v1h-1zM39 47h2v1h-2zM42 47h1v1h-1zM3 48h1v1h-1zM22 48h1v1h-1zM13 49h1v1h-1zM30 49h1v1h-1zM32 49h1v1h-1zM34 49h1v1h-1zM41 49h2v1h-2zM5 50h1v1h-1zM13 50h1v1h-1zM19 50h1v1h-1zM33 50h1v1h-1zM42 50h2v1h-2zM2 51h1v1h-1zM8 51h1v1h-1zM22 51h1v1h-1zM25 51h1v1h-1zM2 52h2v1h-2zM9 52h1v1h-1zM13 52h1v1h-1zM17 52h1v1h-1zM28 52h1v1h-1zM37 52h1v1h-1zM39 52h2v1h-2z"/><path fill="#d1e5f0" d="M1 5h1v1h-1zM4 5h1v1h-1zM0 6h1v1h-1zM1 7h1v1h-1zM4 7h1v1h-1zM0 8h2v1h-2zM0 12h1v1h-1zM1 13h1v1h-1zM2 14h1v1h-1zM1 15h1v1h-1zM4 15h1v1h-1zM4 16h1v1h-1zM0 17h1v1h-1zM0 18h2v1h-2zM0 19h1v1h-1zM2 19h1v1h-1zM3 20h1v1h-1zM5 20h3v1h-3zM0 21h1v1h-1zM2 21h2v1h-2zM7 21h2v1h-2zM1 22h1v1h-1zM4 22h1v1h-1zM1 23h1v1h-1zM1 24h1v1h-1zM0 25h1v1h-1zM4 25h1v1h-1zM6 25h1v1h-1zM1 26h1v1h-1zM10 26h1v1h-1zM15 26h1v1h-1zM0 27h1v1h-1zM4 27h2v1h-2zM0 28h2v1h-2zM4 28h1v1h-1zM12 28h1v1h-1zM14 28h1v1h-1zM20 28h2v1h-2zM1 29h1v1h-1zM4 29h1v1h-1zM6 29h1v1h-1zM15 29h1v1h-1zM18 29h1v1h-1zM20 29h1v1h-1zM26 29h2v1h-2zM4 30h1v1h-1zM19 30h2v1h-2zM1 31h1v1h-1zM4 31h1v1h-1zM12 31h1v1h-1zM15 31h2v1h-2zM19 31h2v1h-2zM15 32h1v1h-1zM17 32h1v1h-1zM19 32h1v1h-1zM1 33h2v1h-2zM4 33h1v1h-1zM12 33h1v1h-1zM15 33h1v1h-1zM17 33h1v1h-1zM21 33h1v1h-1zM25 33h1v1h-1zM28 33h1v1h-1zM1 34h1v1h-1zM4 34h2v1h-2zM14 34h1v1h-1zM21 34h1v1h-1zM27 34h1v1h-1zM14 35h1v1h-1zM21 35h1v1h-1zM4 36h1v1h-1zM10 36h1v1h-1zM14 36h2v1h-2zM18 36h1v1h-1zM27 36h1v1h-1zM29 36h1v1h-1zM17 37h1v1h-1zM26 37h1v1h-1zM14 38h1v1h-1zM20 38h2v1h-2zM36 38h1v1h-1zM4 39h1v1h-1zM12 39h1v1h-1zM14 39h1v1h-1zM16 39h1v1h-1zM26 40h1v1h-1zM1 41h1v1h-1zM15 41h2v1h-2zM26 41h1v1h-1zM29 41h1v1h-1zM5 43h1v1h-1zM10 43h1v1h-1zM14 43h2v1h-2zM18 43h1v1h-1zM20 43h1v1h-1zM25 43h1v1h-1zM1 44h2v1h-2zM4 44h1v1h-1zM10 44h1v1h-1zM15 44h1v1h-1zM19 44h1v1h-1zM21 44h2v1h-2zM24 44h1v1h-1zM26 44h2v1h-2zM31 44h1v1h-1zM33 44h1v1h-1zM38 44h1v1h-1zM41 44h1v1h-1zM1 45h1v1h-1zM4 45h1v1h-1zM6 45h1v1h-1zM8 45h1v1h-1zM13 45h1v1h-1zM17 45h3v1h-3zM24 45h1v1h-1zM26 45h1v1h-1zM33 45h1v1h-1zM41 45h1v1h-1zM14 46h4v1h-4zM19 46h4v1h-4zM33 46h1v1h-1zM37 46h1v1h-1zM43 46h1v1h-1zM1 47h1v1h-1zM10 47h1v1h-1zM13 47h2v1h-2zM21 47h1v1h-1zM29 47h1v1h-1zM45 47h1v1h-1zM0 48h2v1h-2zM7 48h2v1h-2zM10 48h1v1h-1zM14 48h3v1h-3zM19 48h3v1h-3zM24 48h1v1h-1zM28 48h1v1h-1zM30 48h2v1h-2zM36 48h2v1h-2zM10 49h1v1h-1zM14 49h1v1h-1zM17 49h2v1h-2zM14 50h1v1h-1zM18 50h1v1h-1zM21 50h1v1h-1zM14 51h2v1h-2zM17 51h1v1h-1zM19 51h1v1h-1zM34 51h1v1h-1zM1 52h1v1h-1z"/><path fill="#e4eef4" d="M2 5h1v1h-1zM1 6h2v1h-2zM4 6h1v1h-1zM0 7h1v1h-1zM2 7h1v1h-1zM4 8h1v1h-1zM0 9h1v1h-1zM0 10h1v1h-1zM2 10h2v1h-2zM1 12h2v1h-2zM4 13h1v1h-1zM3 14h1v1h-1zM0 15h1v1h-1zM2 15h2v1h-2zM2 16h2v1h-2zM7 16h2v1h-2zM3 17h1v1h-1zM5 17h1v1h-1zM3 18h1v1h-1zM3 19h1v1h-1zM6 19h1v1h-1zM8 19h1v1h-1zM14 19h1v1h-1zM8 20h2v1h-2zM16 20h1v1h-1zM6 21h1v1h-1zM16 21h1v1h-1zM6 22h3v1h-3zM10 22h1v1h-1zM2 24h1v1h-1zM8 24h1v1h-1zM2 25h1v1h-1zM8 25h1v1h-1zM0 26h1v1h-1zM5 26h2v1h-2zM8 26h1v1h-1zM14 26h1v1h-1zM16 26h1v1h-1zM18 26h2v1h-2zM2 27h2v1h-2zM6 27h3v1h-3zM19 27h1v1h-1zM2 28h2v1h-2zM5 28h1v1h-1zM8 28h3v1h-3zM15 28h4v1h-4zM22 28h1v1h-1zM25 28h1v1h-1zM27 28h1v1h-1zM7 29h1v1h-1zM10 29h1v1h-1zM12 29h1v1h-1zM17 29h1v1h-1zM19 29h1v1h-1zM21 29h2v1h-2zM25 29h1v1h-1zM0 30h1v1h-1zM10 30h1v1h-1zM14 30h4v1h-4zM27 30h2v1h-2zM0 31h1v1h-1zM6 31h3v1h-3zM18 31h1v1h-1zM23 31h2v1h-2zM26 31h1v1h-1zM29 31h1v1h-1zM2 32h1v1h-1zM4 32h2v1h-2zM10 32h1v1h-1zM14 32h1v1h-1zM20 32h2v1h-2zM28 32h2v1h-2zM5 33h1v1h-1zM8 33h1v1h-1zM13 33h1v1h-1zM22 33h3v1h-3zM26 33h2v1h-2zM2 34h1v1h-1zM10 34h1v1h-1zM12 34h1v1h-1zM15 34h2v1h-2zM29 34h1v1h-1zM4 35h1v1h-1zM6 35h3v1h-3zM10 35h1v1h-1zM12 35h1v1h-1zM15 35h6v1h-6zM23 35h1v1h-1zM25 35h2v1h-2zM2 36h2v1h-2zM5 36h2v1h-2zM8 36h1v1h-1zM11 36h1v1h-1zM13 36h1v1h-1zM24 36h1v1h-1zM32 36h1v1h-1zM4 37h1v1h-1zM6 37h1v1h-1zM8 37h1v1h-1zM10 37h1v1h-1zM12 37h1v1h-1zM14 37h3v1h-3zM21 37h1v1h-1zM31 37h2v1h-2zM0 38h1v1h-1zM4 38h1v1h-1zM6 38h1v1h-1zM8 38h1v1h-1zM11 38h2v1h-2zM17 38h1v1h-1zM22 38h2v1h-2zM26 38h2v1h-2zM29 38h1v1h-1zM31 38h1v1h-1zM2 39h1v1h-1zM6 39h1v1h-1zM8 39h1v1h-1zM10 39h1v1h-1zM15 39h1v1h-1zM17 39h1v1h-1zM25 39h1v1h-1zM27 39h1v1h-1zM15 40h1v1h-1zM19 40h2v1h-2zM24 40h1v1h-1zM0 41h1v1h-1zM10 41h1v1h-1zM12 41h1v1h-1zM14 41h1v1h-1zM18 41h1v1h-1zM20 41h2v1h-2zM23 41h3v1h-3zM27 41h1v1h-1zM24 42h1v1h-1zM36 42h1v1h-1zM39 42h1v1h-1zM0 43h1v1h-1zM2 43h1v1h-1zM4 43h1v1h-1zM11 43h2v1h-2zM16 43h1v1h-1zM23 43h1v1h-1zM27 43h3v1h-3zM36 43h2v1h-2zM5 44h1v1h-1zM7 44h3v1h-3zM12 44h1v1h-1zM17 44h2v1h-2zM23 44h1v1h-1zM25 44h1v1h-1zM28 44h2v1h-2zM32 44h1v1h-1zM35 44h3v1h-3zM40 44h1v1h-1zM0 45h1v1h-1zM7 45h1v1h-1zM22 45h1v1h-1zM27 45h1v1h-1zM29 45h1v1h-1zM34 45h1v1h-1zM36 45h1v1h-1zM38 45h1v1h-1zM40 45h1v1h-1zM1 46h1v1h-1zM4 46h1v1h-1zM12 46h2v1h-2zM18 46h1v1h-1zM23 46h1v1h-1zM25 46h1v1h-1zM28 46h2v1h-2zM31 46h2v1h-2zM36 46h1v1h-1zM41 46h1v1h-1zM5 47h1v1h-1zM8 47h1v1h-1zM15 47h1v1h-1zM17 47h1v1h-1zM19 47h2v1h-2zM22 47h1v1h-1zM24 47h1v1h-1zM26 47h3v1h-3zM33 47h1v1h-1zM2 48h1v1h-1zM4 48h1v1h-1zM12 48h1v1h-1zM17 48h2v1h-2zM23 48h1v1h-1zM25 48h3v1h-3zM32 48h3v1h-3zM38 48h1v1h-1zM44 48h1v1h-1zM0 49h2v1h-2zM3 49h1v1h-1zM8 49h1v1h-1zM16 49h1v1h-1zM19 49h1v1h-1zM22 49h3v1h-3zM26 49h2v1h-2zM29 49h1v1h-1zM33 49h1v1h-1zM36 49h3v1h-3zM45 49h1v1h-1zM1 50h2v1h-2zM9 50h2v1h-2zM12 50h1v1h-1zM15 50h1v1h-1zM28 50h1v1h-1zM31 50h1v1h-1zM38 50h1v1h-1zM4 51h1v1h-1zM10 51h1v1h-1zM16 51h1v1h-1zM18 51h1v1h-1zM21 51h1v1h-1zM26 51h3v1h-3zM31 51h1v1h-1zM36 51h1v1h-1zM38 51h1v1h-1zM41 51h1v1h-1zM45 51h1v1h-1zM14 52h1v1h-1zM18 52h1v1h-1zM20 52h1v1h-1zM25 52h1v1h-1zM31 52h1v1h-1zM38 52h1v1h-1zM44 52h1v1h-1z"/><path fill="#d6604d" d="M5 8h1v1h-1zM12 17h2v1h-2zM17 18h1v1h-1zM13 22h1v1h-1zM23 24h1v1h-1zM13 25h1v1h-1zM38 39h1v1h-1zM46 47h1v1h-1zM46 48h1v1h-1zM46 49h2v1h-2zM48 51h1v1h-1z"/><path fill="#e48066" d="M7 8h1v1h-1zM7 9h1v1h-1zM9 13h1v1h-1zM12 14h2v1h-2zM12 15h1v1h-1zM10 17h1v1h-1zM15 17h2v1h-2zM12 18h2v1h-2zM22 23h1v1h-1zM18 24h1v1h-1zM22 24h1v1h-1zM22 25h1v1h-1zM12 27h1v1h-1zM13 29h1v1h-1zM34 39h1v1h-1zM39 40h1v1h-1zM30 41h1v1h-1zM11 42h1v1h-1zM47 51h1v1h-1zM5 52h1v1h-1z"/><path fill="#6bacd1" d="M1 10h1v1h-1zM14 45h1v1h-1z"/><path fill="#b1d5e7" d="M4 10h1v1h-1zM0 14h1v1h-1zM4 14h1v1h-1zM0 16h1v1h-1zM1 17h1v1h-1zM4 18h1v1h-1zM1 19h1v1h-1zM4 19h1v1h-1zM0 20h1v1h-1zM2 20h1v1h-1zM1 21h1v1h-1zM4 21h1v1h-1zM4 23h1v1h-1zM6 23h1v1h-1zM4 24h1v1h-1zM1 27h1v1h-1zM7 28h1v1h-1zM14 29h1v1h-1zM1 30h1v1h-1zM6 30h1v1h-1zM21 30h1v1h-1zM10 31h1v1h-1zM14 31h1v1h-1zM17 31h1v1h-1zM21 31h2v1h-2zM14 33h1v1h-1zM16 33h1v1h-1zM19 33h1v1h-1zM17 34h1v1h-1zM0 36h2v1h-2zM12 36h1v1h-1zM16 36h2v1h-2zM19 36h1v1h-1zM21 36h2v1h-2zM16 38h1v1h-1zM18 38h2v1h-2zM1 39h1v1h-1zM21 39h1v1h-1zM19 41h1v1h-1zM6 43h1v1h-1zM21 43h1v1h-1zM20 44h1v1h-1zM12 45h1v1h-1zM15 45h1v1h-1zM20 45h2v1h-2zM37 45h1v1h-1zM10 46h1v1h-1zM27 46h1v1h-1zM20 49h1v1h-1zM44 49h1v1h-1zM6 50h1v1h-1zM16 50h1v1h-1zM20 50h1v1h-1zM24 50h1v1h-1zM1 51h1v1h-1zM20 51h1v1h-1zM16 52h1v1h-1zM22 52h1v1h-1zM32 52h1v1h-1z"/><path fill="#90c4dd" d="M1 14h1v1h-1zM1 16h1v1h-1zM4 17h1v1h-1zM1 20h1v1h-1zM4 20h1v1h-1zM0 24h1v1h-1zM19 28h1v1h-1zM10 33h1v1h-1zM17 43h1v1h-1zM16 45h1v1h-1zM38 46h1v1h-1zM45 48h1v1h-1zM4 50h1v1h-1z"/><path fill="#c43b3c" d="M10 15h1v1h-1zM13 15h1v1h-1zM47 48h1v1h-1zM48 49h1v1h-1zM46 51h1v1h-1z"/><path fill="#b1182b" d="M20 21h1v1h-1zM20 22h1v1h-1zM47 50h1v1h-1zM49 51h2v1h-2z"/><path fill="#8a0b25" d="M46 50h1v1h-1zM48 50h1v1h-1z"/><path fill="#67001f" d="M49 50h1v1h-1z"/></g><g id="s4"><path fill="#fae9df" d="M0 1h1v1h-1zM1 4h2v1h-2zM6 7h1v1h-1zM6 8h1v1h-1zM6 9h1v1h-1zM6 12h1v1h-1zM7 13h1v1h-1zM2 15h1v1h-1zM14 15h1v1h-1zM14 18h1v1h-1zM7 20h1v1h-1zM12 20h3v1h-3zM16 20h2v1h-2zM19 20h1v1h-1zM11 21h2v1h-2zM15 21h2v1h-2zM19 21h1v1h-1zM11 22h1v1h-1zM13 22h1v1h-1zM19 22h1v1h-1zM5 23h1v1h-1zM8 23h1v1h-1zM10 23h1v1h-1zM14 23h6v1h-6zM11 24h1v1h-1zM13 24h2v1h-2zM16 24h1v1h-1zM19 24h1v1h-1zM5 25h1v1h-1zM10 25h2v1h-2zM15 25h1v1h-1zM19 25h1v1h-1zM3 26h1v1h-1zM7 26h1v1h-1zM14 26h2v1h-2zM17 26h1v1h-1zM11 27h1v1h-1zM16 27h1v1h-1zM23 28h1v1h-1zM8 29h1v1h-1zM12 29h1v1h-1zM28 30h2v1h-2zM29 31h2v1h-2zM0 32h1v1h-1zM5 32h1v1h-1zM7 32h2v1h-2zM15 32h2v1h-2zM19 32h1v1h-1zM23 32h2v1h-2zM29 32h3v1h-3zM31 33h1v1h-1zM5 34h1v1h-1zM8 34h1v1h-1zM32 34h1v1h-1zM31 35h1v1h-1zM13 36h1v1h-1zM29 36h1v1h-1zM32 36h1v1h-1zM34 36h2v1h-2zM28 37h3v1h-3zM32 37h1v1h-1zM34 37h1v1h-1zM36 37h1v1h-1zM7 38h1v1h-1zM13 38h1v1h-1zM4 39h2v1h-2zM7 39h1v1h-1zM10 39h1v1h-1zM17 39h1v1h-1zM19 39h1v1h-1zM26 39h1v1h-1zM28 39h1v1h-1zM33 39h2v1h-2zM5 40h1v1h-1zM13 40h1v1h-1zM16 40h1v1h-1zM28 40h6v1h-6zM35 40h1v1h-1zM37 40h1v1h-1zM39 40h1v1h-1zM5 41h1v1h-1zM7 41h1v1h-1zM28 41h4v1h-4zM34 41h1v1h-1zM37 41h2v1h-2zM40 41h1v1h-1zM32 42h1v1h-1zM3 43h1v1h-1zM7 43h1v1h-1zM9 43h1v1h-1zM13 43h1v1h-1zM15 43h2v1h-2zM18 43h2v1h-2zM28 43h1v1h-1zM31 43h2v1h-2zM37 43h1v1h-1zM1 44h1v1h-1zM7 44h2v1h-2zM13 44h1v1h-1zM23 44h1v1h-1zM29 44h1v1h-1zM32 44h1v1h-1zM34 44h1v1h-1zM36 44h1v1h-1zM39 44h1v1h-1zM43 44h1v1h-1zM9 45h1v1h-1zM39 45h1v1h-1zM5 46h1v1h-1zM9 46h1v1h-1zM19 46h1v1h-1zM7 47h1v1h-1zM25 47h1v1h-1zM39 47h1v1h-1zM7 49h2v1h-2zM13 49h1v1h-1zM22 49h1v1h-1zM7 50h2v1h-2zM23 50h1v1h-1zM32 50h1v1h-1zM37 50h3v1h-3zM43 50h2v1h-2zM7 51h2v1h-2zM39 51h1v1h-1zM43 51h1v1h-1zM41 52h1v1h-1z"/><path fill="#f7f6f6" d="M0 2h1v1h-1zM1 3h1v1h-1zM3 4h1v1h-1zM0 5h2v1h-2zM3 5h2v1h-2zM5 6h1v1h-1zM0 7h1v1h-1zM2 7h1v1h-1zM4 7h1v1h-1zM5 8h1v1h-1zM5 9h1v1h-1zM2 10h1v1h-1zM5 10h1v1h-1zM7 10h1v1h-1zM5 11h1v1h-1zM7 12h1v1h-1zM4 13h2v1h-2zM8 13h1v1h-1zM3 14h1v1h-1zM5 14h1v1h-1zM7 14h1v1h-1zM7 15h1v1h-1zM5 16h1v1h-1zM7 16h1v1h-1zM2 17h1v1h-1zM6 17h1v1h-1zM7 19h1v1h-1zM9 19h1v1h-1zM10 20h2v1h-2zM15 20h1v1h-1zM18 20h1v1h-1zM5 21h1v1h-1zM9 21h2v1h-2zM14 21h1v1h-1zM1 22h1v1h-1zM10 22h1v1h-1zM12 22h1v1h-1zM14 22h4v1h-4zM0 23h1v1h-1zM3 23h1v1h-1zM6 23h2v1h-2zM9 23h1v1h-1zM7 24h2v1h-2zM10 24h1v1h-1zM12 24h1v1h-1zM15 24h1v1h-1zM17 24h2v1h-2zM12 25h1v1h-1zM16 25h3v1h-3zM5 26h2v1h-2zM11 26h2v1h-2zM7 27h1v1h-1zM10 27h1v1h-1zM12 27h1v1h-1zM15 27h1v1h-1zM17 27h3v1h-3zM13 28h2v1h-2zM0 29h1v1h-1zM4 29h1v1h-1zM7 29h1v1h-1zM9 29h3v1h-3zM14 29h1v1h-1zM17 29h1v1h-1zM19 29h1v1h-1zM22 29h2v1h-2zM25 29h1v1h-1zM27 29h2v1h-2zM5 30h1v1h-1zM7 30h1v1h-1zM13 30h3v1h-3zM23 30h1v1h-1zM7 31h1v1h-1zM28 31h1v1h-1zM3 32h2v1h-2zM9 32h1v1h-1zM11 32h1v1h-1zM14 32h1v1h-1zM17 32h2v1h-2zM20 32h1v1h-1zM22 32h1v1h-1zM25 32h4v1h-4zM5 33h1v1h-1zM7 33h3v1h-3zM11 33h1v1h-1zM13 33h1v1h-1zM21 33h1v1h-1zM30 33h1v1h-1zM32 33h1v1h-1zM3 34h1v1h-1zM7 34h1v1h-1zM10 34h1v1h-1zM13 34h1v1h-1zM18 34h1v1h-1zM24 34h1v1h-1zM28 34h4v1h-4zM5 35h1v1h-1zM7 35h1v1h-1zM28 35h1v1h-1zM30 35h1v1h-1zM32 35h1v1h-1zM34 35h1v1h-1zM4 36h2v1h-2zM8 36h1v1h-1zM10 36h1v1h-1zM14 36h1v1h-1zM17 36h1v1h-1zM19 36h2v1h-2zM26 36h1v1h-1zM28 36h1v1h-1zM30 36h2v1h-2zM0 37h1v1h-1zM5 37h1v1h-1zM7 37h2v1h-2zM19 37h1v1h-1zM23 37h1v1h-1zM31 37h1v1h-1zM33 37h1v1h-1zM35 37h1v1h-1zM0 38h1v1h-1zM5 38h1v1h-1zM9 38h2v1h-2zM23 38h1v1h-1zM26 38h1v1h-1zM28 38h1v1h-1zM30 38h1v1h-1zM32 38h2v1h-2zM36 38h2v1h-2zM0 39h2v1h-2zM3 39h1v1h-1zM9 39h1v1h-1zM15 39h2v1h-2zM18 39h1v1h-1zM21 39h3v1h-3zM27 39h1v1h-1zM29 39h2v1h-2zM35 39h1v1h-1zM38 39h1v1h-1zM2 40h1v1h-1zM7 40h2v1h-2zM14 40h2v1h-2zM23 40h5v1h-5zM3 41h1v1h-1zM8 41h1v1h-1zM13 41h1v1h-1zM15 41h1v1h-1zM22 41h1v1h-1zM26 41h1v1h-1zM33 41h1v1h-1zM36 41h1v1h-1zM39 41h1v1h-1zM13 42h1v1h-1zM28 42h2v1h-2zM31 42h1v1h-1zM34 42h1v1h-1zM36 42h4v1h-4zM41 42h1v1h-1zM0 43h1v1h-1zM4 43h3v1h-3zM8 43h1v1h-1zM10 43h3v1h-3zM17 43h1v1h-1zM21 43h1v1h-1zM23 43h4v1h-4zM29 43h1v1h-1zM34 43h3v1h-3zM39 43h1v1h-1zM41 43h2v1h-2zM5 44h1v1h-1zM10 44h2v1h-2zM14 44h1v1h-1zM16 44h1v1h-1zM25 44h1v1h-1zM30 44h2v1h-2zM33 44h1v1h-1zM38 44h1v1h-1zM41 44h2v1h-2zM13 45h1v1h-1zM38 45h1v1h-1zM42 45h1v1h-1zM44 45h1v1h-1zM7 46h2v1h-2zM13 46h1v1h-1zM20 46h1v1h-1zM23 46h1v1h-1zM29 46h3v1h-3zM34 46h1v1h-1zM37 46h1v1h-1zM39 46h2v1h-2zM42 46h4v1h-4zM5 47h1v1h-1zM8 47h2v1h-2zM13 47h1v1h-1zM28 47h2v1h-2zM32 47h1v1h-1zM37 47h2v1h-2zM40 47h2v1h-2zM43 47h1v1h-1zM45 47h1v1h-1zM5 48h1v1h-1zM7 48h1v1h-1zM13 48h1v1h-1zM29 48h1v1h-1zM32 48h1v1h-1zM41 48h1v1h-1zM44 48h1v1h-1zM5 49h1v1h-1zM9 49h1v1h-1zM19 49h1v1h-1zM29 49h3v1h-3zM36 49h1v1h-1zM39 49h3v1h-3zM44 49h2v1h-2zM2 50h5v1h-5zM9 50h3v1h-3zM16 50h4v1h-4zM21 50h2v1h-2zM24 50h3v1h-3zM29 50h1v1h-1zM33 50h4v1h-4zM40 50h3v1h-3zM45 50h1v1h-1zM5 51h1v1h-1zM13 51h1v1h-1zM23 51h2v1h-2zM28 51h6v1h-6zM36 51h2v1h-2zM40 51h3v1h-3zM4 52h2v1h-2zM13 52h1v1h-1zM26 52h1v1h-1zM32 52h1v1h-1zM37 52h3v1h-3zM43 52h2v1h-2z"/><path fill="#f3a481" d="M1 2h1v1h-1zM10 15h1v1h-1zM10 16h1v1h-1zM14 16h2v1h-2zM10 17h1v1h-1zM14 17h1v1h-1zM16 17h1v1h-1zM10 18h1v1h-1zM12 18h1v1h-1zM17 18h1v1h-1zM12 19h1v1h-1zM14 19h2v1h-2zM17 19h1v1h-1zM17 21h1v1h-1zM21 22h1v1h-1zM12 23h1v1h-1zM23 24h1v1h-1zM21 25h1v1h-1zM23 25h1v1h-1zM20 26h1v1h-1zM22 26h1v1h-1zM21 27h1v1h-1zM26 27h1v1h-1zM5 28h1v1h-1zM8 39h1v1h-1zM14 39h1v1h-1zM32 41h1v1h-1zM30 43h1v1h-1zM43 45h1v1h-1zM4 47h1v1h-1zM33 47h1v1h-1zM32 49h1v1h-1zM42 49h1v1h-1zM30 50h1v1h-1zM38 51h1v1h-1z"/><path fill="#e4eef4" d="M0 3h1v1h-1zM2 5h1v1h-1zM0 6h1v1h-1zM3 6h1v1h-1zM1 7h1v1h-1zM3 7h1v1h-1zM0 8h1v1h-1zM3 8h2v1h-2zM3 9h1v1h-1zM0 10h1v1h-1zM3 10h2v1h-2zM6 10h1v1h-1zM8 10h1v1h-1zM3 11h1v1h-1zM7 11h2v1h-2zM5 12h1v1h-1zM2 13h2v1h-2zM6 13h1v1h-1zM9 13h1v1h-1zM4 14h1v1h-1zM6 14h1v1h-1zM8 14h2v1h-2zM1 15h1v1h-1zM3 15h1v1h-1zM5 15h2v1h-2zM8 15h1v1h-1zM0 16h1v1h-1zM3 16h2v1h-2zM3 17h1v1h-1zM5 17h1v1h-1zM7 17h2v1h-2zM5 18h1v1h-1zM8 18h1v1h-1zM0 19h2v1h-2zM3 19h4v1h-4zM8 19h1v1h-1zM0 20h1v1h-1zM3 20h1v1h-1zM5 20h2v1h-2zM8 20h1v1h-1zM6 21h2v1h-2zM3 22h1v1h-1zM6 22h3v1h-3zM4 23h1v1h-1zM3 24h1v1h-1zM6 24h1v1h-1zM9 24h1v1h-1zM0 25h1v1h-1zM3 25h1v1h-1zM7 25h2v1h-2zM0 26h1v1h-1zM2 26h1v1h-1zM8 26h2v1h-2zM18 26h1v1h-1zM0 27h1v1h-1zM4 27h3v1h-3zM8 27h2v1h-2zM14 27h1v1h-1zM0 28h1v1h-1zM2 28h3v1h-3zM7 28h2v1h-2zM10 28h1v1h-1zM15 28h3v1h-3zM21 28h2v1h-2zM25 28h2v1h-2zM1 29h3v1h-3zM5 29h2v1h-2zM15 29h2v1h-2zM18 29h1v1h-1zM20 29h2v1h-2zM24 29h1v1h-1zM26 29h1v1h-1zM0 30h2v1h-2zM3 30h2v1h-2zM8 30h4v1h-4zM20 30h3v1h-3zM25 30h3v1h-3zM0 31h1v1h-1zM3 31h4v1h-4zM8 31h4v1h-4zM13 31h2v1h-2zM16 31h1v1h-1zM19 31h6v1h-6zM26 31h2v1h-2zM1 32h1v1h-1zM10 32h1v1h-1zM12 32h1v1h-1zM21 32h1v1h-1zM0 33h2v1h-2zM3 33h2v1h-2zM10 33h1v1h-1zM12 33h1v1h-1zM14 33h3v1h-3zM18 33h3v1h-3zM27 33h3v1h-3zM0 34h1v1h-1zM4 34h1v1h-1zM6 34h1v1h-1zM9 34h1v1h-1zM11 34h2v1h-2zM15 34h1v1h-1zM19 34h3v1h-3zM25 34h1v1h-1zM27 34h1v1h-1zM33 34h1v1h-1zM0 35h1v1h-1zM3 35h1v1h-1zM8 35h1v1h-1zM14 35h1v1h-1zM16 35h1v1h-1zM19 35h1v1h-1zM26 35h1v1h-1zM29 35h1v1h-1zM33 35h1v1h-1zM0 36h1v1h-1zM2 36h1v1h-1zM7 36h1v1h-1zM9 36h1v1h-1zM12 36h1v1h-1zM15 36h1v1h-1zM18 36h1v1h-1zM21 36h2v1h-2zM25 36h1v1h-1zM27 36h1v1h-1zM1 37h1v1h-1zM3 37h2v1h-2zM6 37h1v1h-1zM9 37h6v1h-6zM16 37h2v1h-2zM21 37h1v1h-1zM24 37h1v1h-1zM26 37h2v1h-2zM1 38h4v1h-4zM6 38h1v1h-1zM11 38h1v1h-1zM15 38h4v1h-4zM21 38h2v1h-2zM24 38h2v1h-2zM29 38h1v1h-1zM31 38h1v1h-1zM34 38h2v1h-2zM2 39h1v1h-1zM6 39h1v1h-1zM11 39h2v1h-2zM20 39h1v1h-1zM25 39h1v1h-1zM1 40h1v1h-1zM4 40h1v1h-1zM6 40h1v1h-1zM9 40h4v1h-4zM17 40h6v1h-6zM38 40h1v1h-1zM0 41h1v1h-1zM2 41h1v1h-1zM4 41h1v1h-1zM6 41h1v1h-1zM9 41h1v1h-1zM11 41h2v1h-2zM14 41h1v1h-1zM16 41h6v1h-6zM23 41h2v1h-2zM27 41h1v1h-1zM35 41h1v1h-1zM0 42h1v1h-1zM3 42h3v1h-3zM7 42h6v1h-6zM14 42h1v1h-1zM19 42h1v1h-1zM21 42h1v1h-1zM23 42h1v1h-1zM25 42h1v1h-1zM33 42h1v1h-1zM35 42h1v1h-1zM2 43h1v1h-1zM14 43h1v1h-1zM20 43h1v1h-1zM22 43h1v1h-1zM27 43h1v1h-1zM38 43h1v1h-1zM0 44h1v1h-1zM3 44h2v1h-2zM6 44h1v1h-1zM9 44h1v1h-1zM12 44h1v1h-1zM15 44h1v1h-1zM17 44h2v1h-2zM20 44h1v1h-1zM22 44h1v1h-1zM24 44h1v1h-1zM26 44h3v1h-3zM37 44h1v1h-1zM0 45h1v1h-1zM5 45h1v1h-1zM7 45h2v1h-2zM14 45h1v1h-1zM17 45h4v1h-4zM22 45h3v1h-3zM29 45h1v1h-1zM31 45h1v1h-1zM33 45h5v1h-5zM40 45h1v1h-1zM0 46h1v1h-1zM2 46h2v1h-2zM6 46h1v1h-1zM10 46h3v1h-3zM14 46h2v1h-2zM17 46h2v1h-2zM21 46h2v1h-2zM25 46h1v1h-1zM27 46h2v1h-2zM32 46h2v1h-2zM36 46h1v1h-1zM38 46h1v1h-1zM41 46h1v1h-1zM0 47h1v1h-1zM6 47h1v1h-1zM10 47h3v1h-3zM14 47h1v1h-1zM16 47h1v1h-1zM18 47h3v1h-3zM22 47h3v1h-3zM30 47h2v1h-2zM34 47h1v1h-1zM36 47h1v1h-1zM42 47h1v1h-1zM0 48h1v1h-1zM3 48h1v1h-1zM8 48h2v1h-2zM15 48h2v1h-2zM18 48h1v1h-1zM20 48h1v1h-1zM22 48h1v1h-1zM24 48h1v1h-1zM28 48h1v1h-1zM30 48h1v1h-1zM33 48h2v1h-2zM36 48h5v1h-5zM43 48h1v1h-1zM45 48h1v1h-1zM0 49h1v1h-1zM3 49h1v1h-1zM6 49h1v1h-1zM10 49h2v1h-2zM14 49h2v1h-2zM17 49h2v1h-2zM20 49h2v1h-2zM23 49h2v1h-2zM26 49h3v1h-3zM33 49h3v1h-3zM37 49h2v1h-2zM0 50h1v1h-1zM12 50h1v1h-1zM14 50h1v1h-1zM20 50h1v1h-1zM27 50h2v1h-2zM0 51h2v1h-2zM4 51h1v1h-1zM6 51h1v1h-1zM9 51h3v1h-3zM14 51h3v1h-3zM22 51h1v1h-1zM25 51h3v1h-3zM34 51h1v1h-1zM45 51h1v1h-1zM2 52h1v1h-1zM7 52h1v1h-1zM11 52h2v1h-2zM14 52h4v1h-4zM20 52h2v1h-2zM23 52h3v1h-3zM27 52h1v1h-1zM29 52h3v1h-3zM33 52h4v1h-4zM40 52h1v1h-1zM42 52h1v1h-1z"/><path fill="#d1e5f0" d="M2 3h1v1h-1zM1 6h2v1h-2zM4 6h1v1h-1zM1 8h2v1h-2zM0 9h1v1h-1zM4 9h1v1h-1zM9 10h1v1h-1zM0 11h3v1h-3zM4 11h1v1h-1zM6 11h1v1h-1zM0 12h1v1h-1zM2 12h2v1h-2zM8 12h2v1h-2zM0 13h2v1h-2zM1 14h2v1h-2zM0 15h1v1h-1zM9 15h1v1h-1zM1 16h1v1h-1zM6 16h1v1h-1zM8 16h2v1h-2zM4 17h1v1h-1zM9 17h1v1h-1zM0 18h1v1h-1zM2 18h2v1h-2zM2 19h1v1h-1zM2 20h1v1h-1zM4 20h1v1h-1zM2 21h1v1h-1zM4 21h1v1h-1zM18 21h1v1h-1zM2 22h1v1h-1zM4 22h1v1h-1zM1 23h2v1h-2zM0 24h3v1h-3zM4 24h1v1h-1zM1 25h2v1h-2zM4 25h1v1h-1zM6 25h1v1h-1zM9 25h1v1h-1zM1 26h1v1h-1zM4 26h1v1h-1zM1 27h3v1h-3zM1 28h1v1h-1zM6 28h1v1h-1zM11 28h2v1h-2zM18 28h1v1h-1zM20 28h1v1h-1zM24 28h1v1h-1zM27 28h1v1h-1zM2 30h1v1h-1zM6 30h1v1h-1zM12 30h1v1h-1zM16 30h3v1h-3zM1 31h2v1h-2zM12 31h1v1h-1zM17 31h2v1h-2zM2 32h1v1h-1zM6 32h1v1h-1zM2 33h1v1h-1zM6 33h1v1h-1zM17 33h1v1h-1zM22 33h1v1h-1zM24 33h2v1h-2zM2 34h1v1h-1zM14 34h1v1h-1zM16 34h2v1h-2zM22 34h1v1h-1zM26 34h1v1h-1zM4 35h1v1h-1zM6 35h1v1h-1zM9 35h1v1h-1zM12 35h1v1h-1zM15 35h1v1h-1zM17 35h2v1h-2zM20 35h4v1h-4zM25 35h1v1h-1zM27 35h1v1h-1zM1 36h1v1h-1zM3 36h1v1h-1zM6 36h1v1h-1zM16 36h1v1h-1zM23 36h1v1h-1zM2 37h1v1h-1zM18 37h1v1h-1zM22 37h1v1h-1zM25 37h1v1h-1zM8 38h1v1h-1zM12 38h1v1h-1zM14 38h1v1h-1zM20 38h1v1h-1zM27 38h1v1h-1zM0 40h1v1h-1zM3 40h1v1h-1zM34 40h1v1h-1zM1 41h1v1h-1zM10 41h1v1h-1zM2 42h1v1h-1zM6 42h1v1h-1zM15 42h4v1h-4zM20 42h1v1h-1zM22 42h1v1h-1zM24 42h1v1h-1zM27 42h1v1h-1zM2 44h1v1h-1zM21 44h1v1h-1zM2 45h3v1h-3zM6 45h1v1h-1zM10 45h3v1h-3zM15 45h2v1h-2zM21 45h1v1h-1zM25 45h4v1h-4zM30 45h1v1h-1zM41 45h1v1h-1zM4 46h1v1h-1zM24 46h1v1h-1zM26 46h1v1h-1zM1 47h1v1h-1zM15 47h1v1h-1zM17 47h1v1h-1zM21 47h1v1h-1zM27 47h1v1h-1zM35 47h1v1h-1zM2 48h1v1h-1zM4 48h1v1h-1zM6 48h1v1h-1zM12 48h1v1h-1zM14 48h1v1h-1zM21 48h1v1h-1zM23 48h1v1h-1zM26 48h2v1h-2zM31 48h1v1h-1zM35 48h1v1h-1zM42 48h1v1h-1zM12 49h1v1h-1zM16 49h1v1h-1zM25 49h1v1h-1zM1 50h1v1h-1zM2 51h1v1h-1zM12 51h1v1h-1zM17 51h1v1h-1zM21 51h1v1h-1zM35 51h1v1h-1zM1 52h1v1h-1zM3 52h1v1h-1zM6 52h1v1h-1zM9 52h2v1h-2zM18 52h2v1h-2zM28 52h1v1h-1zM45 52h1v1h-1z"/><path fill="#fddbc7" d="M0 4h1v1h-1zM5 7h1v1h-1zM7 8h1v1h-1zM7 9h1v1h-1zM4 15h1v1h-1zM2 16h1v1h-1zM3 21h1v1h-1zM8 21h1v1h-1zM13 21h1v1h-1zM20 22h1v1h-1zM11 23h1v1h-1zM13 23h1v1h-1zM5 24h1v1h-1zM13 25h1v1h-1zM10 26h1v1h-1zM13 26h1v1h-1zM16 26h1v1h-1zM19 26h1v1h-1zM13 27h1v1h-1zM22 27h1v1h-1zM9 28h1v1h-1zM19 28h1v1h-1zM13 29h1v1h-1zM24 30h1v1h-1zM15 31h1v1h-1zM13 32h1v1h-1zM1 34h1v1h-1zM11 36h1v1h-1zM24 36h1v1h-1zM15 37h1v1h-1zM20 37h1v1h-1zM13 39h1v1h-1zM31 39h2v1h-2zM37 39h1v1h-1zM36 40h1v1h-1zM40 44h1v1h-1zM32 45h1v1h-1zM16 46h1v1h-1zM35 46h1v1h-1zM19 48h1v1h-1zM31 50h1v1h-1zM19 51h1v1h-1zM44 51h1v1h-1z"/><path fill="#b1d5e7" d="M1 9h2v1h-2zM1 10h1v1h-1zM9 11h1v1h-1zM1 12h1v1h-1zM4 12h1v1h-1zM0 14h1v1h-1zM0 17h2v1h-2zM1 18h1v1h-1zM4 18h1v1h-1zM6 18h2v1h-2zM1 20h1v1h-1zM0 21h2v1h-2zM0 22h1v1h-1zM9 22h1v1h-1zM19 30h1v1h-1zM25 31h1v1h-1zM23 33h1v1h-1zM26 33h1v1h-1zM1 35h2v1h-2zM10 35h2v1h-2zM24 35h1v1h-1zM25 41h1v1h-1zM1 42h1v1h-1zM26 42h1v1h-1zM33 43h1v1h-1zM1 45h1v1h-1zM1 46h1v1h-1zM2 47h1v1h-1zM1 48h1v1h-1zM11 48h1v1h-1zM17 48h1v1h-1zM20 51h1v1h-1zM0 52h1v1h-1zM8 52h1v1h-1zM22 52h1v1h-1z"/><path fill="#f8bfa4" d="M8 9h1v1h-1zM15 17h1v1h-1zM9 20h1v1h-1zM20 21h1v1h-1zM5 22h1v1h-1zM18 22h1v1h-1zM20 23h1v1h-1zM22 23h1v1h-1zM20 24h3v1h-3zM14 25h1v1h-1zM20 25h1v1h-1zM22 25h1v1h-1zM24 25h1v1h-1zM20 27h1v1h-1zM23 27h1v1h-1zM23 34h1v1h-1zM13 35h1v1h-1zM33 36h1v1h-1zM19 38h1v1h-1zM24 39h1v1h-1zM30 42h1v1h-1zM40 42h1v1h-1zM1 43h1v1h-1zM40 43h1v1h-1zM19 44h1v1h-1zM35 44h1v1h-1zM3 47h1v1h-1zM26 47h1v1h-1zM44 47h1v1h-1zM25 48h1v1h-1zM4 49h1v1h-1zM43 49h1v1h-1zM13 50h1v1h-1zM15 50h1v1h-1zM3 51h1v1h-1zM18 51h1v1h-1z"/><path fill="#67001f" d="M10 11h1v1h-1zM47 51h1v1h-1zM49 51h2v1h-2z"/><path fill="#d6604d" d="M10 12h1v1h-1zM13 14h1v1h-1zM11 16h3v1h-3zM11 18h1v1h-1zM13 18h1v1h-1zM11 19h1v1h-1zM13 19h1v1h-1zM25 27h1v1h-1zM46 47h1v1h-1zM47 52h1v1h-1z"/><path fill="#c43b3c" d="M11 12h1v1h-1zM11 17h1v1h-1zM13 17h1v1h-1zM15 18h1v1h-1zM24 27h1v1h-1zM47 48h1v1h-1z"/><path fill="#8a0b25" d="M10 13h2v1h-2zM47 49h1v1h-1zM47 50h1v1h-1zM49 50h1v1h-1zM48 51h1v1h-1zM49 52h1v1h-1z"/><path fill="#b1182b" d="M12 13h1v1h-1zM46 49h1v1h-1zM48 49h1v1h-1zM46 50h1v1h-1zM48 50h1v1h-1zM46 51h1v1h-1zM50 52h2v1h-2z"/><path fill="#e48066" d="M10 14h3v1h-3zM11 15h3v1h-3zM12 17h1v1h-1zM16 18h1v1h-1zM10 19h1v1h-1zM16 19h1v1h-1zM18 19h1v1h-1zM21 23h1v1h-1zM21 26h1v1h-1zM23 26h3v1h-3zM36 39h1v1h-1zM46 48h1v1h-1zM46 52h1v1h-1zM48 52h1v1h-1z"/><path fill="#90c4dd" d="M9 18h1v1h-1zM10 48h1v1h-1zM1 49h2v1h-2z"/></g><path id="DG" fill="#50575d" d="M0.10 0.10h.8v.8h-.8zM1.10 1.10h.8v.8h-.8zM2.10 2.10h.8v.8h-.8zM3.10 3.10h.8v.8h-.8zM4.10 4.10h.8v.8h-.8zM5.10 5.10h.8v.8h-.8zM6.10 6.10h.8v.8h-.8zM7.10 7.10h.8v.8h-.8zM8.10 8.10h.8v.8h-.8zM9.10 9.10h.8v.8h-.8zM10.10 10.10h.8v.8h-.8zM11.10 11.10h.8v.8h-.8zM12.10 12.10h.8v.8h-.8zM13.10 13.10h.8v.8h-.8zM14.10 14.10h.8v.8h-.8zM15.10 15.10h.8v.8h-.8zM16.10 16.10h.8v.8h-.8zM17.10 17.10h.8v.8h-.8zM18.10 18.10h.8v.8h-.8zM19.10 19.10h.8v.8h-.8zM20.10 20.10h.8v.8h-.8zM21.10 21.10h.8v.8h-.8zM22.10 22.10h.8v.8h-.8zM23.10 23.10h.8v.8h-.8zM24.10 24.10h.8v.8h-.8zM25.10 25.10h.8v.8h-.8zM26.10 26.10h.8v.8h-.8zM27.10 27.10h.8v.8h-.8zM28.10 28.10h.8v.8h-.8zM29.10 29.10h.8v.8h-.8zM30.10 30.10h.8v.8h-.8zM31.10 31.10h.8v.8h-.8zM32.10 32.10h.8v.8h-.8zM33.10 33.10h.8v.8h-.8zM34.10 34.10h.8v.8h-.8zM35.10 35.10h.8v.8h-.8zM36.10 36.10h.8v.8h-.8zM37.10 37.10h.8v.8h-.8zM38.10 38.10h.8v.8h-.8zM39.10 39.10h.8v.8h-.8zM40.10 40.10h.8v.8h-.8zM41.10 41.10h.8v.8h-.8zM42.10 42.10h.8v.8h-.8zM43.10 43.10h.8v.8h-.8zM44.10 44.10h.8v.8h-.8zM45.10 45.10h.8v.8h-.8zM46.10 46.10h.8v.8h-.8zM47.10 47.10h.8v.8h-.8zM48.10 48.10h.8v.8h-.8zM49.10 49.10h.8v.8h-.8zM50.10 50.10h.8v.8h-.8zM51.10 51.10h.8v.8h-.8zM52.10 52.10h.8v.8h-.8z"/><path id="GS" fill="#000" fill-opacity="0.26" d="M-0.12 0h0.25V43.30h-0.25zM0 -0.12H43.30v0.25H0zM0.69 0h0.25V43.30h-0.25zM0 0.69H43.30v0.25H0zM1.51 0h0.25V43.30h-0.25zM0 1.51H43.30v0.25H0zM2.33 0h0.25V43.30h-0.25zM0 2.33H43.30v0.25H0zM3.14 0h0.25V43.30h-0.25zM0 3.14H43.30v0.25H0zM3.96 0h0.25V43.30h-0.25zM0 3.96H43.30v0.25H0zM4.78 0h0.25V43.30h-0.25zM0 4.78H43.30v0.25H0zM5.59 0h0.25V43.30h-0.25zM0 5.59H43.30v0.25H0zM6.41 0h0.25V43.30h-0.25zM0 6.41H43.30v0.25H0zM7.23 0h0.25V43.30h-0.25zM0 7.23H43.30v0.25H0zM8.04 0h0.25V43.30h-0.25zM0 8.04H43.30v0.25H0zM8.86 0h0.25V43.30h-0.25zM0 8.86H43.30v0.25H0zM9.68 0h0.25V43.30h-0.25zM0 9.68H43.30v0.25H0zM10.50 0h0.25V43.30h-0.25zM0 10.50H43.30v0.25H0zM11.31 0h0.25V43.30h-0.25zM0 11.31H43.30v0.25H0zM12.13 0h0.25V43.30h-0.25zM0 12.13H43.30v0.25H0zM12.95 0h0.25V43.30h-0.25zM0 12.95H43.30v0.25H0zM13.76 0h0.25V43.30h-0.25zM0 13.76H43.30v0.25H0zM14.58 0h0.25V43.30h-0.25zM0 14.58H43.30v0.25H0zM15.40 0h0.25V43.30h-0.25zM0 15.40H43.30v0.25H0zM16.21 0h0.25V43.30h-0.25zM0 16.21H43.30v0.25H0zM17.03 0h0.25V43.30h-0.25zM0 17.03H43.30v0.25H0zM17.85 0h0.25V43.30h-0.25zM0 17.85H43.30v0.25H0zM18.67 0h0.25V43.30h-0.25zM0 18.67H43.30v0.25H0zM19.48 0h0.25V43.30h-0.25zM0 19.48H43.30v0.25H0zM20.30 0h0.25V43.30h-0.25zM0 20.30H43.30v0.25H0zM21.12 0h0.25V43.30h-0.25zM0 21.12H43.30v0.25H0zM21.93 0h0.25V43.30h-0.25zM0 21.93H43.30v0.25H0zM22.75 0h0.25V43.30h-0.25zM0 22.75H43.30v0.25H0zM23.57 0h0.25V43.30h-0.25zM0 23.57H43.30v0.25H0zM24.38 0h0.25V43.30h-0.25zM0 24.38H43.30v0.25H0zM25.20 0h0.25V43.30h-0.25zM0 25.20H43.30v0.25H0zM26.02 0h0.25V43.30h-0.25zM0 26.02H43.30v0.25H0zM26.84 0h0.25V43.30h-0.25zM0 26.84H43.30v0.25H0zM27.65 0h0.25V43.30h-0.25zM0 27.65H43.30v0.25H0zM28.47 0h0.25V43.30h-0.25zM0 28.47H43.30v0.25H0zM29.29 0h0.25V43.30h-0.25zM0 29.29H43.30v0.25H0zM30.10 0h0.25V43.30h-0.25zM0 30.10H43.30v0.25H0zM30.92 0h0.25V43.30h-0.25zM0 30.92H43.30v0.25H0zM31.74 0h0.25V43.30h-0.25zM0 31.74H43.30v0.25H0zM32.55 0h0.25V43.30h-0.25zM0 32.55H43.30v0.25H0zM33.37 0h0.25V43.30h-0.25zM0 33.37H43.30v0.25H0zM34.19 0h0.25V43.30h-0.25zM0 34.19H43.30v0.25H0zM35.01 0h0.25V43.30h-0.25zM0 35.01H43.30v0.25H0zM35.82 0h0.25V43.30h-0.25zM0 35.82H43.30v0.25H0zM36.64 0h0.25V43.30h-0.25zM0 36.64H43.30v0.25H0zM37.46 0h0.25V43.30h-0.25zM0 37.46H43.30v0.25H0zM38.27 0h0.25V43.30h-0.25zM0 38.27H43.30v0.25H0zM39.09 0h0.25V43.30h-0.25zM0 39.09H43.30v0.25H0zM39.91 0h0.25V43.30h-0.25zM0 39.91H43.30v0.25H0zM40.72 0h0.25V43.30h-0.25zM0 40.72H43.30v0.25H0zM41.54 0h0.25V43.30h-0.25zM0 41.54H43.30v0.25H0zM42.36 0h0.25V43.30h-0.25zM0 42.36H43.30v0.25H0zM43.17 0h0.25V43.30h-0.25zM0 43.17H43.30v0.25H0z"/></defs>
<text x="12.70" y="7.20" font-size="9.45" font-weight="bold" text-anchor="start" fill="#111" stroke="#111" stroke-width="0.30" >a) <tspan font-style="italic">k</tspan>-means clustering on time-varying FNC</text>
<g transform="translate(27.50 27.30)"><g transform="scale(1.97736)"><rect width="53" height="53" fill="#f7f7f7"/><use href="#L1"/><use href="#U1"/><use href="#DG"/></g></g><path fill="#000" fill-opacity="0.10" d="M31.15 27.30h0.70V132.10h-0.70zM33.15 27.30h0.70V132.10h-0.70zM27.50 33.15H132.30v0.70H27.50zM27.50 37.15H132.30v0.70H27.50zM27.50 41.15H132.30v0.70H27.50zM27.50 43.15H132.30v0.70H27.50zM27.50 47.15H132.30v0.70H27.50zM55.15 27.30h0.70V132.10h-0.70zM27.50 58.15H132.30v0.70H27.50zM27.50 62.15H132.30v0.70H27.50zM69.15 27.30h0.70V132.10h-0.70zM27.50 68.15H132.30v0.70H27.50zM27.50 72.15H132.30v0.70H27.50zM27.50 76.15H132.30v0.70H27.50zM80.15 27.30h0.70V132.10h-0.70zM82.15 27.30h0.70V132.10h-0.70zM27.50 84.15H132.30v0.70H27.50zM90.15 27.30h0.70V132.10h-0.70zM27.50 92.15H132.30v0.70H27.50zM94.15 27.30h0.70V132.10h-0.70zM27.50 94.15H132.30v0.70H27.50zM96.15 27.30h0.70V132.10h-0.70zM100.15 27.30h0.70V132.10h-0.70zM27.50 100.15H132.30v0.70H27.50zM27.50 102.15H132.30v0.70H27.50zM27.50 104.15H132.30v0.70H27.50zM106.15 27.30h0.70V132.10h-0.70zM27.50 108.15H132.30v0.70H27.50zM110.15 27.30h0.70V132.10h-0.70zM112.15 27.30h0.70V132.10h-0.70zM114.15 27.30h0.70V132.10h-0.70zM27.50 114.15H132.30v0.70H27.50zM118.15 27.30h0.70V132.10h-0.70zM27.50 118.15H132.30v0.70H27.50zM124.15 27.30h0.70V132.10h-0.70zM126.15 27.30h0.70V132.10h-0.70zM130.15 27.30h0.70V132.10h-0.70zM27.50 130.15H132.30v0.70H27.50zM132.15 27.30h0.70V132.10h-0.70z"/><path fill="#000" fill-opacity="0.25" d="M27.15 27.30h0.70V132.10h-0.70zM29.15 27.30h0.70V132.10h-0.70zM27.50 31.15H132.30v0.70H27.50zM35.15 27.30h0.70V132.10h-0.70zM27.50 35.15H132.30v0.70H27.50zM39.15 27.30h0.70V132.10h-0.70zM27.50 39.15H132.30v0.70H27.50zM45.15 27.30h0.70V132.10h-0.70zM47.15 27.30h0.70V132.10h-0.70zM49.15 27.30h0.70V132.10h-0.70zM27.50 49.15H132.30v0.70H27.50zM51.15 27.30h0.70V132.10h-0.70zM27.50 51.15H132.30v0.70H27.50zM27.50 53.15H132.30v0.70H27.50zM27.50 56.15H132.30v0.70H27.50zM61.15 27.30h0.70V132.10h-0.70zM65.15 27.30h0.70V132.10h-0.70zM27.50 64.15H132.30v0.70H27.50zM67.15 27.30h0.70V132.10h-0.70zM27.50 66.15H132.30v0.70H27.50zM27.50 70.15H132.30v0.70H27.50zM74.15 27.30h0.70V132.10h-0.70zM27.50 74.15H132.30v0.70H27.50zM78.15 27.30h0.70V132.10h-0.70zM27.50 80.15H132.30v0.70H27.50zM27.50 82.15H132.30v0.70H27.50zM86.15 27.30h0.70V132.10h-0.70zM88.15 27.30h0.70V132.10h-0.70zM27.50 90.15H132.30v0.70H27.50zM92.15 27.30h0.70V132.10h-0.70zM27.50 98.15H132.30v0.70H27.50zM102.15 27.30h0.70V132.10h-0.70zM104.15 27.30h0.70V132.10h-0.70zM27.50 106.15H132.30v0.70H27.50zM116.15 27.30h0.70V132.10h-0.70zM27.50 116.15H132.30v0.70H27.50zM120.15 27.30h0.70V132.10h-0.70zM27.50 122.15H132.30v0.70H27.50zM27.50 124.15H132.30v0.70H27.50zM27.50 126.15H132.30v0.70H27.50zM128.15 27.30h0.70V132.10h-0.70zM27.50 128.15H132.30v0.70H27.50zM27.50 132.15H132.30v0.70H27.50z"/><path fill="#000" fill-opacity="0.42" d="M27.50 27.15H132.30v0.70H27.50zM27.50 29.15H132.30v0.70H27.50zM37.15 27.30h0.70V132.10h-0.70zM41.15 27.30h0.70V132.10h-0.70zM43.15 27.30h0.70V132.10h-0.70zM27.50 45.15H132.30v0.70H27.50zM53.15 27.30h0.70V132.10h-0.70zM27.50 54.15H132.30v0.70H27.50zM57.15 27.30h0.70V132.10h-0.70zM59.15 27.30h0.70V132.10h-0.70zM27.50 60.15H132.30v0.70H27.50zM63.15 27.30h0.70V132.10h-0.70zM71.15 27.30h0.70V132.10h-0.70zM72.15 27.30h0.70V132.10h-0.70zM76.15 27.30h0.70V132.10h-0.70zM27.50 78.15H132.30v0.70H27.50zM84.15 27.30h0.70V132.10h-0.70zM27.50 86.15H132.30v0.70H27.50zM27.50 88.15H132.30v0.70H27.50zM27.50 96.15H132.30v0.70H27.50zM98.15 27.30h0.70V132.10h-0.70zM108.15 27.30h0.70V132.10h-0.70zM27.50 110.15H132.30v0.70H27.50zM27.50 112.15H132.30v0.70H27.50zM27.50 120.15H132.30v0.70H27.50zM122.15 27.30h0.70V132.10h-0.70z"/><g></g>
<text x="27.80" y="24.90" font-size="8.70" font-weight="bold" text-anchor="start" fill="#111" stroke="#111" stroke-width="0.30" >REST FNC State 1 (48.56%)</text>
<rect x="134.00" y="27.30" width="4.3" height="103.6" fill="url(#cb)"/>
<text x="139.80" y="28.30" font-size="2.60" font-weight="normal" text-anchor="start" fill="#555" stroke="#555" stroke-width="0.00" >0.5</text>
<text x="139.80" y="38.66" font-size="2.60" font-weight="normal" text-anchor="start" fill="#555" stroke="#555" stroke-width="0.00" >0.4</text>
<text x="139.80" y="49.02" font-size="2.60" font-weight="normal" text-anchor="start" fill="#555" stroke="#555" stroke-width="0.00" >0.3</text>
<text x="139.80" y="59.38" font-size="2.60" font-weight="normal" text-anchor="start" fill="#555" stroke="#555" stroke-width="0.00" >0.2</text>
<text x="139.80" y="69.74" font-size="2.60" font-weight="normal" text-anchor="start" fill="#555" stroke="#555" stroke-width="0.00" >0.1</text>
<text x="139.80" y="80.10" font-size="2.60" font-weight="normal" text-anchor="start" fill="#555" stroke="#555" stroke-width="0.00" >0</text>
<text x="139.80" y="90.46" font-size="2.60" font-weight="normal" text-anchor="start" fill="#555" stroke="#555" stroke-width="0.00" >-0.1</text>
<text x="139.80" y="100.82" font-size="2.60" font-weight="normal" text-anchor="start" fill="#555" stroke="#555" stroke-width="0.00" >-0.2</text>
<text x="139.80" y="111.18" font-size="2.60" font-weight="normal" text-anchor="start" fill="#555" stroke="#555" stroke-width="0.00" >-0.3</text>
<text x="139.80" y="121.54" font-size="2.60" font-weight="normal" text-anchor="start" fill="#555" stroke="#555" stroke-width="0.00" >-0.4</text>
<text x="139.80" y="131.90" font-size="2.60" font-weight="normal" text-anchor="start" fill="#555" stroke="#555" stroke-width="0.00" >-0.5</text>
<text x="0.00" y="0.00" font-size="2.60" font-weight="normal" text-anchor="middle" fill="#555" stroke="#555" stroke-width="0.00" transform="translate(145.00 79) rotate(90)">Connectivity</text>
<g transform="translate(202.00 27.30)"><g transform="scale(1.97736)"><rect width="53" height="53" fill="#f7f7f7"/><use href="#L2"/><use href="#U2"/><use href="#DG"/></g></g><path fill="#000" fill-opacity="0.10" d="M202.00 27.15H306.80v0.70H202.00zM202.00 29.15H306.80v0.70H202.00zM205.15 27.30h0.70V132.10h-0.70zM202.00 31.15H306.80v0.70H202.00zM202.00 33.15H306.80v0.70H202.00zM209.15 27.30h0.70V132.10h-0.70zM213.15 27.30h0.70V132.10h-0.70zM202.00 39.15H306.80v0.70H202.00zM202.00 41.15H306.80v0.70H202.00zM219.15 27.30h0.70V132.10h-0.70zM202.00 47.15H306.80v0.70H202.00zM225.15 27.30h0.70V132.10h-0.70zM229.15 27.30h0.70V132.10h-0.70zM237.15 27.30h0.70V132.10h-0.70zM239.15 27.30h0.70V132.10h-0.70zM245.15 27.30h0.70V132.10h-0.70zM202.00 70.15H306.80v0.70H202.00zM202.00 74.15H306.80v0.70H202.00zM253.15 27.30h0.70V132.10h-0.70zM202.00 80.15H306.80v0.70H202.00zM202.00 88.15H306.80v0.70H202.00zM202.00 90.15H306.80v0.70H202.00zM267.15 27.30h0.70V132.10h-0.70zM202.00 92.15H306.80v0.70H202.00zM202.00 94.15H306.80v0.70H202.00zM202.00 96.15H306.80v0.70H202.00zM202.00 98.15H306.80v0.70H202.00zM275.15 27.30h0.70V132.10h-0.70zM277.15 27.30h0.70V132.10h-0.70zM202.00 104.15H306.80v0.70H202.00zM281.15 27.30h0.70V132.10h-0.70zM283.15 27.30h0.70V132.10h-0.70zM202.00 108.15H306.80v0.70H202.00zM285.15 27.30h0.70V132.10h-0.70zM294.15 27.30h0.70V132.10h-0.70zM202.00 120.15H306.80v0.70H202.00zM298.15 27.30h0.70V132.10h-0.70zM202.00 124.15H306.80v0.70H202.00zM300.15 27.30h0.70V132.10h-0.70zM202.00 126.15H306.80v0.70H202.00zM202.00 128.15H306.80v0.70H202.00zM306.15 27.30h0.70V132.10h-0.70zM202.00 132.15H306.80v0.70H202.00z"/><path fill="#000" fill-opacity="0.25" d="M207.15 27.30h0.70V132.10h-0.70zM202.00 35.15H306.80v0.70H202.00zM211.15 27.30h0.70V132.10h-0.70zM202.00 37.15H306.80v0.70H202.00zM223.15 27.30h0.70V132.10h-0.70zM202.00 51.15H306.80v0.70H202.00zM202.00 53.15H306.80v0.70H202.00zM202.00 54.15H306.80v0.70H202.00zM202.00 60.15H306.80v0.70H202.00zM202.00 62.15H306.80v0.70H202.00zM202.00 64.15H306.80v0.70H202.00zM202.00 66.15H306.80v0.70H202.00zM202.00 72.15H306.80v0.70H202.00zM249.15 27.30h0.70V132.10h-0.70zM202.00 76.15H306.80v0.70H202.00zM202.00 78.15H306.80v0.70H202.00zM255.15 27.30h0.70V132.10h-0.70zM259.15 27.30h0.70V132.10h-0.70zM261.15 27.30h0.70V132.10h-0.70zM202.00 86.15H306.80v0.70H202.00zM269.15 27.30h0.70V132.10h-0.70zM202.00 100.15H306.80v0.70H202.00zM279.15 27.30h0.70V132.10h-0.70zM202.00 106.15H306.80v0.70H202.00zM202.00 110.15H306.80v0.70H202.00zM289.15 27.30h0.70V132.10h-0.70zM290.15 27.30h0.70V132.10h-0.70zM202.00 116.15H306.80v0.70H202.00zM202.00 118.15H306.80v0.70H202.00zM296.15 27.30h0.70V132.10h-0.70zM304.15 27.30h0.70V132.10h-0.70zM202.00 130.15H306.80v0.70H202.00z"/><path fill="#000" fill-opacity="0.42" d="M202.15 27.30h0.70V132.10h-0.70zM203.15 27.30h0.70V132.10h-0.70zM215.15 27.30h0.70V132.10h-0.70zM217.15 27.30h0.70V132.10h-0.70zM202.00 43.15H306.80v0.70H202.00zM202.00 45.15H306.80v0.70H202.00zM221.15 27.30h0.70V132.10h-0.70zM202.00 49.15H306.80v0.70H202.00zM227.15 27.30h0.70V132.10h-0.70zM231.15 27.30h0.70V132.10h-0.70zM202.00 56.15H306.80v0.70H202.00zM233.15 27.30h0.70V132.10h-0.70zM202.00 58.15H306.80v0.70H202.00zM235.15 27.30h0.70V132.10h-0.70zM241.15 27.30h0.70V132.10h-0.70zM243.15 27.30h0.70V132.10h-0.70zM202.00 68.15H306.80v0.70H202.00zM247.15 27.30h0.70V132.10h-0.70zM251.15 27.30h0.70V132.10h-0.70zM257.15 27.30h0.70V132.10h-0.70zM202.00 82.15H306.80v0.70H202.00zM202.00 84.15H306.80v0.70H202.00zM263.15 27.30h0.70V132.10h-0.70zM265.15 27.30h0.70V132.10h-0.70zM271.15 27.30h0.70V132.10h-0.70zM273.15 27.30h0.70V132.10h-0.70zM202.00 102.15H306.80v0.70H202.00zM287.15 27.30h0.70V132.10h-0.70zM202.00 112.15H306.80v0.70H202.00zM202.00 114.15H306.80v0.70H202.00zM292.15 27.30h0.70V132.10h-0.70zM202.00 122.15H306.80v0.70H202.00zM302.15 27.30h0.70V132.10h-0.70z"/><g></g>
<text x="201.10" y="24.90" font-size="8.70" font-weight="bold" text-anchor="start" fill="#111" stroke="#111" stroke-width="0.30" >REST FNC State 2 (18.98%)</text>
<rect x="308.50" y="27.30" width="4.3" height="103.6" fill="url(#cb)"/>
<text x="314.30" y="28.30" font-size="2.60" font-weight="normal" text-anchor="start" fill="#555" stroke="#555" stroke-width="0.00" >0.5</text>
<text x="314.30" y="38.66" font-size="2.60" font-weight="normal" text-anchor="start" fill="#555" stroke="#555" stroke-width="0.00" >0.4</text>
<text x="314.30" y="49.02" font-size="2.60" font-weight="normal" text-anchor="start" fill="#555" stroke="#555" stroke-width="0.00" >0.3</text>
<text x="314.30" y="59.38" font-size="2.60" font-weight="normal" text-anchor="start" fill="#555" stroke="#555" stroke-width="0.00" >0.2</text>
<text x="314.30" y="69.74" font-size="2.60" font-weight="normal" text-anchor="start" fill="#555" stroke="#555" stroke-width="0.00" >0.1</text>
<text x="314.30" y="80.10" font-size="2.60" font-weight="normal" text-anchor="start" fill="#555" stroke="#555" stroke-width="0.00" >0</text>
<text x="314.30" y="90.46" font-size="2.60" font-weight="normal" text-anchor="start" fill="#555" stroke="#555" stroke-width="0.00" >-0.1</text>
<text x="314.30" y="100.82" font-size="2.60" font-weight="normal" text-anchor="start" fill="#555" stroke="#555" stroke-width="0.00" >-0.2</text>
<text x="314.30" y="111.18" font-size="2.60" font-weight="normal" text-anchor="start" fill="#555" stroke="#555" stroke-width="0.00" >-0.3</text>
<text x="314.30" y="121.54" font-size="2.60" font-weight="normal" text-anchor="start" fill="#555" stroke="#555" stroke-width="0.00" >-0.4</text>
<text x="314.30" y="131.90" font-size="2.60" font-weight="normal" text-anchor="start" fill="#555" stroke="#555" stroke-width="0.00" >-0.5</text>
<text x="0.00" y="0.00" font-size="2.60" font-weight="normal" text-anchor="middle" fill="#555" stroke="#555" stroke-width="0.00" transform="translate(319.50 79) rotate(90)">Connectivity</text>
<g transform="translate(379.60 27.30)"><g transform="scale(1.97736)"><rect width="53" height="53" fill="#f7f7f7"/><use href="#L3"/><use href="#U3"/><use href="#DG"/></g></g><path fill="#000" fill-opacity="0.10" d="M379.60 27.15H484.40v0.70H379.60zM381.15 27.30h0.70V132.10h-0.70zM379.60 31.15H484.40v0.70H379.60zM379.60 35.15H484.40v0.70H379.60zM379.60 37.15H484.40v0.70H379.60zM379.60 39.15H484.40v0.70H379.60zM379.60 41.15H484.40v0.70H379.60zM399.15 27.30h0.70V132.10h-0.70zM379.60 47.15H484.40v0.70H379.60zM401.15 27.30h0.70V132.10h-0.70zM379.60 49.15H484.40v0.70H379.60zM403.15 27.30h0.70V132.10h-0.70zM379.60 54.15H484.40v0.70H379.60zM413.15 27.30h0.70V132.10h-0.70zM379.60 60.15H484.40v0.70H379.60zM379.60 62.15H484.40v0.70H379.60zM419.15 27.30h0.70V132.10h-0.70zM379.60 66.15H484.40v0.70H379.60zM379.60 72.15H484.40v0.70H379.60zM429.15 27.30h0.70V132.10h-0.70zM431.15 27.30h0.70V132.10h-0.70zM434.15 27.30h0.70V132.10h-0.70zM440.15 27.30h0.70V132.10h-0.70zM379.60 88.15H484.40v0.70H379.60zM442.15 27.30h0.70V132.10h-0.70zM379.60 90.15H484.40v0.70H379.60zM446.15 27.30h0.70V132.10h-0.70zM379.60 96.15H484.40v0.70H379.60zM450.15 27.30h0.70V132.10h-0.70zM452.15 27.30h0.70V132.10h-0.70zM379.60 100.15H484.40v0.70H379.60zM379.60 102.15H484.40v0.70H379.60zM456.15 27.30h0.70V132.10h-0.70zM458.15 27.30h0.70V132.10h-0.70zM460.15 27.30h0.70V132.10h-0.70zM379.60 112.15H484.40v0.70H379.60zM379.60 114.15H484.40v0.70H379.60zM468.15 27.30h0.70V132.10h-0.70zM470.15 27.30h0.70V132.10h-0.70zM472.15 27.30h0.70V132.10h-0.70zM379.60 122.15H484.40v0.70H379.60zM379.60 124.15H484.40v0.70H379.60zM482.15 27.30h0.70V132.10h-0.70zM379.60 130.15H484.40v0.70H379.60zM484.15 27.30h0.70V132.10h-0.70z"/><path fill="#000" fill-opacity="0.25" d="M379.15 27.30h0.70V132.10h-0.70zM379.60 29.15H484.40v0.70H379.60zM383.15 27.30h0.70V132.10h-0.70zM385.15 27.30h0.70V132.10h-0.70zM387.15 27.30h0.70V132.10h-0.70zM391.15 27.30h0.70V132.10h-0.70zM393.15 27.30h0.70V132.10h-0.70zM395.15 27.30h0.70V132.10h-0.70zM379.60 43.15H484.40v0.70H379.60zM397.15 27.30h0.70V132.10h-0.70zM379.60 45.15H484.40v0.70H379.60zM379.60 51.15H484.40v0.70H379.60zM405.15 27.30h0.70V132.10h-0.70zM379.60 53.15H484.40v0.70H379.60zM407.15 27.30h0.70V132.10h-0.70zM379.60 56.15H484.40v0.70H379.60zM411.15 27.30h0.70V132.10h-0.70zM379.60 58.15H484.40v0.70H379.60zM379.60 64.15H484.40v0.70H379.60zM423.15 27.30h0.70V132.10h-0.70zM427.15 27.30h0.70V132.10h-0.70zM379.60 76.15H484.40v0.70H379.60zM379.60 78.15H484.40v0.70H379.60zM432.15 27.30h0.70V132.10h-0.70zM379.60 80.15H484.40v0.70H379.60zM379.60 82.15H484.40v0.70H379.60zM379.60 86.15H484.40v0.70H379.60zM379.60 92.15H484.40v0.70H379.60zM379.60 98.15H484.40v0.70H379.60zM379.60 104.15H484.40v0.70H379.60zM379.60 106.15H484.40v0.70H379.60zM379.60 108.15H484.40v0.70H379.60zM379.60 110.15H484.40v0.70H379.60zM464.15 27.30h0.70V132.10h-0.70zM379.60 120.15H484.40v0.70H379.60zM476.15 27.30h0.70V132.10h-0.70zM478.15 27.30h0.70V132.10h-0.70zM379.60 126.15H484.40v0.70H379.60zM480.15 27.30h0.70V132.10h-0.70zM379.60 128.15H484.40v0.70H379.60zM379.60 132.15H484.40v0.70H379.60z"/><path fill="#000" fill-opacity="0.42" d="M379.60 33.15H484.40v0.70H379.60zM389.15 27.30h0.70V132.10h-0.70zM409.15 27.30h0.70V132.10h-0.70zM415.15 27.30h0.70V132.10h-0.70zM417.15 27.30h0.70V132.10h-0.70zM421.15 27.30h0.70V132.10h-0.70zM379.60 68.15H484.40v0.70H379.60zM379.60 70.15H484.40v0.70H379.60zM425.15 27.30h0.70V132.10h-0.70zM379.60 74.15H484.40v0.70H379.60zM436.15 27.30h0.70V132.10h-0.70zM379.60 84.15H484.40v0.70H379.60zM438.15 27.30h0.70V132.10h-0.70zM444.15 27.30h0.70V132.10h-0.70zM379.60 94.15H484.40v0.70H379.60zM448.15 27.30h0.70V132.10h-0.70zM454.15 27.30h0.70V132.10h-0.70zM462.15 27.30h0.70V132.10h-0.70zM466.15 27.30h0.70V132.10h-0.70zM379.60 116.15H484.40v0.70H379.60zM379.60 118.15H484.40v0.70H379.60zM474.15 27.30h0.70V132.10h-0.70z"/><g></g>
<text x="379.60" y="24.90" font-size="8.70" font-weight="bold" text-anchor="start" fill="#111" stroke="#111" stroke-width="0.30" >REST FNC State 3 (15.86%)</text>
<rect x="486.10" y="27.30" width="4.3" height="103.6" fill="url(#cb)"/>
<text x="491.90" y="28.30" font-size="2.60" font-weight="normal" text-anchor="start" fill="#555" stroke="#555" stroke-width="0.00" >0.5</text>
<text x="491.90" y="38.66" font-size="2.60" font-weight="normal" text-anchor="start" fill="#555" stroke="#555" stroke-width="0.00" >0.4</text>
<text x="491.90" y="49.02" font-size="2.60" font-weight="normal" text-anchor="start" fill="#555" stroke="#555" stroke-width="0.00" >0.3</text>
<text x="491.90" y="59.38" font-size="2.60" font-weight="normal" text-anchor="start" fill="#555" stroke="#555" stroke-width="0.00" >0.2</text>
<text x="491.90" y="69.74" font-size="2.60" font-weight="normal" text-anchor="start" fill="#555" stroke="#555" stroke-width="0.00" >0.1</text>
<text x="491.90" y="80.10" font-size="2.60" font-weight="normal" text-anchor="start" fill="#555" stroke="#555" stroke-width="0.00" >0</text>
<text x="491.90" y="90.46" font-size="2.60" font-weight="normal" text-anchor="start" fill="#555" stroke="#555" stroke-width="0.00" >-0.1</text>
<text x="491.90" y="100.82" font-size="2.60" font-weight="normal" text-anchor="start" fill="#555" stroke="#555" stroke-width="0.00" >-0.2</text>
<text x="491.90" y="111.18" font-size="2.60" font-weight="normal" text-anchor="start" fill="#555" stroke="#555" stroke-width="0.00" >-0.3</text>
<text x="491.90" y="121.54" font-size="2.60" font-weight="normal" text-anchor="start" fill="#555" stroke="#555" stroke-width="0.00" >-0.4</text>
<text x="491.90" y="131.90" font-size="2.60" font-weight="normal" text-anchor="start" fill="#555" stroke="#555" stroke-width="0.00" >-0.5</text>
<text x="0.00" y="0.00" font-size="2.60" font-weight="normal" text-anchor="middle" fill="#555" stroke="#555" stroke-width="0.00" transform="translate(497.10 79) rotate(90)">Connectivity</text>
<g transform="translate(557.80 27.30)"><g transform="scale(1.97736)"><rect width="53" height="53" fill="#f7f7f7"/><use href="#L4"/><use href="#U4"/><use href="#DG"/></g></g><path fill="#000" fill-opacity="0.10" d="M557.80 27.15H662.60v0.70H557.80zM557.80 33.15H662.60v0.70H557.80zM565.15 27.30h0.70V132.10h-0.70zM557.80 35.15H662.60v0.70H557.80zM571.15 27.30h0.70V132.10h-0.70zM557.80 43.15H662.60v0.70H557.80zM557.80 45.15H662.60v0.70H557.80zM579.15 27.30h0.70V132.10h-0.70zM557.80 51.15H662.60v0.70H557.80zM557.80 53.15H662.60v0.70H557.80zM557.80 54.15H662.60v0.70H557.80zM557.80 56.15H662.60v0.70H557.80zM557.80 58.15H662.60v0.70H557.80zM591.15 27.30h0.70V132.10h-0.70zM557.80 60.15H662.60v0.70H557.80zM557.80 62.15H662.60v0.70H557.80zM595.15 27.30h0.70V132.10h-0.70zM557.80 64.15H662.60v0.70H557.80zM597.15 27.30h0.70V132.10h-0.70zM557.80 70.15H662.60v0.70H557.80zM603.15 27.30h0.70V132.10h-0.70zM557.80 72.15H662.60v0.70H557.80zM557.80 74.15H662.60v0.70H557.80zM607.15 27.30h0.70V132.10h-0.70zM557.80 76.15H662.60v0.70H557.80zM609.15 27.30h0.70V132.10h-0.70zM557.80 80.15H662.60v0.70H557.80zM557.80 84.15H662.60v0.70H557.80zM557.80 86.15H662.60v0.70H557.80zM557.80 88.15H662.60v0.70H557.80zM557.80 90.15H662.60v0.70H557.80zM623.15 27.30h0.70V132.10h-0.70zM557.80 92.15H662.60v0.70H557.80zM625.15 27.30h0.70V132.10h-0.70zM557.80 94.15H662.60v0.70H557.80zM557.80 96.15H662.60v0.70H557.80zM632.15 27.30h0.70V132.10h-0.70zM634.15 27.30h0.70V132.10h-0.70zM557.80 104.15H662.60v0.70H557.80zM636.15 27.30h0.70V132.10h-0.70zM557.80 106.15H662.60v0.70H557.80zM557.80 108.15H662.60v0.70H557.80zM557.80 110.15H662.60v0.70H557.80zM642.15 27.30h0.70V132.10h-0.70zM557.80 114.15H662.60v0.70H557.80zM646.15 27.30h0.70V132.10h-0.70zM557.80 116.15H662.60v0.70H557.80zM557.80 118.15H662.60v0.70H557.80zM650.15 27.30h0.70V132.10h-0.70zM557.80 122.15H662.60v0.70H557.80zM557.80 124.15H662.60v0.70H557.80zM557.80 126.15H662.60v0.70H557.80zM658.15 27.30h0.70V132.10h-0.70zM557.80 130.15H662.60v0.70H557.80z"/><path fill="#000" fill-opacity="0.25" d="M557.15 27.30h0.70V132.10h-0.70zM557.80 29.15H662.60v0.70H557.80zM561.15 27.30h0.70V132.10h-0.70zM557.80 31.15H662.60v0.70H557.80zM563.15 27.30h0.70V132.10h-0.70zM557.80 37.15H662.60v0.70H557.80zM569.15 27.30h0.70V132.10h-0.70zM557.80 41.15H662.60v0.70H557.80zM575.15 27.30h0.70V132.10h-0.70zM577.15 27.30h0.70V132.10h-0.70zM557.80 47.15H662.60v0.70H557.80zM557.80 78.15H662.60v0.70H557.80zM611.15 27.30h0.70V132.10h-0.70zM615.15 27.30h0.70V132.10h-0.70zM617.15 27.30h0.70V132.10h-0.70zM621.15 27.30h0.70V132.10h-0.70zM627.15 27.30h0.70V132.10h-0.70zM557.80 98.15H662.60v0.70H557.80zM557.80 100.15H662.60v0.70H557.80zM640.15 27.30h0.70V132.10h-0.70zM557.80 112.15H662.60v0.70H557.80zM644.15 27.30h0.70V132.10h-0.70zM648.15 27.30h0.70V132.10h-0.70zM557.80 120.15H662.60v0.70H557.80zM652.15 27.30h0.70V132.10h-0.70zM656.15 27.30h0.70V132.10h-0.70zM557.80 128.15H662.60v0.70H557.80zM662.15 27.30h0.70V132.10h-0.70z"/><path fill="#000" fill-opacity="0.42" d="M559.15 27.30h0.70V132.10h-0.70zM567.15 27.30h0.70V132.10h-0.70zM557.80 39.15H662.60v0.70H557.80zM573.15 27.30h0.70V132.10h-0.70zM557.80 49.15H662.60v0.70H557.80zM581.15 27.30h0.70V132.10h-0.70zM583.15 27.30h0.70V132.10h-0.70zM585.15 27.30h0.70V132.10h-0.70zM587.15 27.30h0.70V132.10h-0.70zM589.15 27.30h0.70V132.10h-0.70zM593.15 27.30h0.70V132.10h-0.70zM557.80 66.15H662.60v0.70H557.80zM599.15 27.30h0.70V132.10h-0.70zM557.80 68.15H662.60v0.70H557.80zM601.15 27.30h0.70V132.10h-0.70zM605.15 27.30h0.70V132.10h-0.70zM613.15 27.30h0.70V132.10h-0.70zM557.80 82.15H662.60v0.70H557.80zM619.15 27.30h0.70V132.10h-0.70zM628.15 27.30h0.70V132.10h-0.70zM630.15 27.30h0.70V132.10h-0.70zM557.80 102.15H662.60v0.70H557.80zM638.15 27.30h0.70V132.10h-0.70zM654.15 27.30h0.70V132.10h-0.70zM660.15 27.30h0.70V132.10h-0.70zM557.80 132.15H662.60v0.70H557.80z"/><g></g>
<text x="558.20" y="24.90" font-size="8.70" font-weight="bold" text-anchor="start" fill="#111" stroke="#111" stroke-width="0.30" >REST FNC State 4 (16.60%)</text>
<rect x="664.30" y="27.30" width="4.3" height="103.6" fill="url(#cb)"/>
<text x="670.10" y="28.30" font-size="2.60" font-weight="normal" text-anchor="start" fill="#555" stroke="#555" stroke-width="0.00" >0.5</text>
<text x="670.10" y="38.66" font-size="2.60" font-weight="normal" text-anchor="start" fill="#555" stroke="#555" stroke-width="0.00" >0.4</text>
<text x="670.10" y="49.02" font-size="2.60" font-weight="normal" text-anchor="start" fill="#555" stroke="#555" stroke-width="0.00" >0.3</text>
<text x="670.10" y="59.38" font-size="2.60" font-weight="normal" text-anchor="start" fill="#555" stroke="#555" stroke-width="0.00" >0.2</text>
<text x="670.10" y="69.74" font-size="2.60" font-weight="normal" text-anchor="start" fill="#555" stroke="#555" stroke-width="0.00" >0.1</text>
<text x="670.10" y="80.10" font-size="2.60" font-weight="normal" text-anchor="start" fill="#555" stroke="#555" stroke-width="0.00" >0</text>
<text x="670.10" y="90.46" font-size="2.60" font-weight="normal" text-anchor="start" fill="#555" stroke="#555" stroke-width="0.00" >-0.1</text>
<text x="670.10" y="100.82" font-size="2.60" font-weight="normal" text-anchor="start" fill="#555" stroke="#555" stroke-width="0.00" >-0.2</text>
<text x="670.10" y="111.18" font-size="2.60" font-weight="normal" text-anchor="start" fill="#555" stroke="#555" stroke-width="0.00" >-0.3</text>
<text x="670.10" y="121.54" font-size="2.60" font-weight="normal" text-anchor="start" fill="#555" stroke="#555" stroke-width="0.00" >-0.4</text>
<text x="670.10" y="131.90" font-size="2.60" font-weight="normal" text-anchor="start" fill="#555" stroke="#555" stroke-width="0.00" >-0.5</text>
<text x="0.00" y="0.00" font-size="2.60" font-weight="normal" text-anchor="middle" fill="#555" stroke="#555" stroke-width="0.00" transform="translate(675.30 79) rotate(90)">Connectivity</text>
<text x="0.00" y="0.00" font-size="6.60" font-weight="bold" text-anchor="middle" fill="#000" stroke="#000" stroke-width="0.45" transform="translate(22.3 30.30) rotate(-90) scale(0.91 1)">SCN</text>
<text x="0.00" y="0.00" font-size="6.60" font-weight="bold" text-anchor="middle" fill="#000" stroke="#000" stroke-width="0.45" transform="translate(22.3 43.50) rotate(-90) scale(0.91 1)">TEP</text>
<text x="0.00" y="0.00" font-size="6.60" font-weight="bold" text-anchor="middle" fill="#000" stroke="#000" stroke-width="0.45" transform="translate(22.3 58.85) rotate(-90) scale(0.91 1)">SMN</text>
<text x="0.00" y="0.00" font-size="6.60" font-weight="bold" text-anchor="middle" fill="#000" stroke="#000" stroke-width="0.45" transform="translate(22.3 75.00) rotate(-90) scale(0.91 1)">VSN</text>
<text x="0.00" y="0.00" font-size="6.60" font-weight="bold" text-anchor="middle" fill="#000" stroke="#000" stroke-width="0.45" transform="translate(22.3 93.50) rotate(-90) scale(0.91 1)">CON</text>
<text x="0.00" y="0.00" font-size="6.60" font-weight="bold" text-anchor="middle" fill="#000" stroke="#000" stroke-width="0.45" transform="translate(22.3 110.30) rotate(-90) scale(0.91 1)">DMN</text>
<text x="0.00" y="0.00" font-size="6.60" font-weight="bold" text-anchor="middle" fill="#000" stroke="#000" stroke-width="0.45" transform="translate(22.3 124.30) rotate(-90) scale(0.91 1)">CEB</text>
<text x="24.40" y="137.20" font-size="6.20" font-weight="bold" text-anchor="start" fill="#111" stroke="#111" stroke-width="0.30" >SCNTEP</text>
<text x="52.40" y="137.20" font-size="6.20" font-weight="bold" text-anchor="start" fill="#111" stroke="#111" stroke-width="0.30" >SMN</text>
<text x="68.70" y="137.20" font-size="6.20" font-weight="bold" text-anchor="start" fill="#111" stroke="#111" stroke-width="0.30" >VSN</text>
<text x="88.30" y="137.20" font-size="6.20" font-weight="bold" text-anchor="start" fill="#111" stroke="#111" stroke-width="0.30" >CON</text>
<text x="105.80" y="137.20" font-size="6.20" font-weight="bold" text-anchor="start" fill="#111" stroke="#111" stroke-width="0.30" >DMNCEB</text>
<line x1="63.40" y1="139.10" x2="24.10" y2="161.60" stroke="#888" stroke-width="0.55"/>
<line x1="80.40" y1="139.10" x2="80.40" y2="161.60" stroke="#888" stroke-width="0.55"/>
<line x1="100.20" y1="139.10" x2="131.90" y2="161.60" stroke="#888" stroke-width="0.55"/>
<line x1="236.30" y1="139.50" x2="197.90" y2="161.50" stroke="#888" stroke-width="0.55"/>
<line x1="253.30" y1="139.50" x2="253.30" y2="161.50" stroke="#888" stroke-width="0.55"/>
<line x1="273.30" y1="139.50" x2="304.40" y2="161.50" stroke="#888" stroke-width="0.55"/>
<line x1="415.90" y1="139.30" x2="378.80" y2="161.50" stroke="#888" stroke-width="0.55"/>
<line x1="434.30" y1="139.30" x2="434.30" y2="161.50" stroke="#888" stroke-width="0.55"/>
<line x1="453.20" y1="139.30" x2="484.30" y2="161.50" stroke="#888" stroke-width="0.55"/>
<line x1="588.40" y1="139.30" x2="556.50" y2="161.50" stroke="#888" stroke-width="0.55"/>
<line x1="607.40" y1="139.30" x2="607.40" y2="161.50" stroke="#888" stroke-width="0.55"/>
<line x1="625.80" y1="139.30" x2="662.80" y2="161.50" stroke="#888" stroke-width="0.55"/>
<text x="1.00" y="155.00" font-size="8.55" font-weight="bold" text-anchor="start" fill="#111" stroke="#111" stroke-width="0.30" >corr = 0.91</text>
<text x="63.80" y="155.00" font-size="8.55" font-weight="bold" text-anchor="start" fill="#111" stroke="#111" stroke-width="0.30" >0.88</text>
<text x="118.20" y="155.00" font-size="8.55" font-weight="bold" text-anchor="start" fill="#111" stroke="#111" stroke-width="0.30" >0.90</text>
<text x="196.50" y="155.00" font-size="8.55" font-weight="bold" text-anchor="start" fill="#111" stroke="#111" stroke-width="0.30" >0.94</text>
<text x="236.30" y="155.00" font-size="8.55" font-weight="bold" text-anchor="start" fill="#111" stroke="#111" stroke-width="0.30" >0.91</text>
<text x="293.00" y="155.00" font-size="8.55" font-weight="bold" text-anchor="start" fill="#111" stroke="#111" stroke-width="0.30" >0.92</text>
<text x="380.20" y="155.00" font-size="8.55" font-weight="bold" text-anchor="start" fill="#111" stroke="#111" stroke-width="0.30" >0.83</text>
<text x="418.00" y="155.00" font-size="8.55" font-weight="bold" text-anchor="start" fill="#111" stroke="#111" stroke-width="0.30" >0.43</text>
<text x="474.80" y="155.00" font-size="8.55" font-weight="bold" text-anchor="start" fill="#111" stroke="#111" stroke-width="0.30" >0.88</text>
<text x="554.10" y="155.00" font-size="8.55" font-weight="bold" text-anchor="start" fill="#111" stroke="#111" stroke-width="0.30" >0.87</text>
<text x="589.80" y="155.00" font-size="8.55" font-weight="bold" text-anchor="start" fill="#111" stroke="#111" stroke-width="0.30" >0.84</text>
<text x="646.60" y="155.00" font-size="8.55" font-weight="bold" text-anchor="start" fill="#111" stroke="#111" stroke-width="0.30" >0.87</text>
<g transform="translate(8.90 164.70)"><g transform="scale(0.81698)"><rect width="53" height="53" fill="#f7f7f7"/><use href="#s1"/><use href="#s1" transform="matrix(0 1 1 0 0 0)"/><use href="#DG"/></g></g><use href="#GS" transform="translate(8.90 164.70)"/><path fill="#fff" fill-opacity="0.32" d="M17 164.70h1V208.00h-1zM21 164.70h1V208.00h-1zM26 164.70h1V208.00h-1zM30 164.70h1V208.00h-1zM35 164.70h1V208.00h-1zM39 164.70h1V208.00h-1zM44 164.70h1V208.00h-1zM48 164.70h1V208.00h-1zM8.90 167H52.20v1H8.90zM8.90 172H52.20v1H8.90zM8.90 176H52.20v1H8.90zM8.90 181H52.20v1H8.90zM8.90 185H52.20v1H8.90zM8.90 190H52.20v1H8.90zM8.90 194H52.20v1H8.90zM8.90 203H52.20v1H8.90z"/>
<text x="28.10" y="219.10" font-size="8.70" font-weight="bold" text-anchor="middle" fill="#111" stroke="#111" stroke-width="0.30" >EFT</text>
<text x="29.40" y="229.90" font-size="8.70" font-weight="bold" text-anchor="middle" fill="#111" stroke="#111" stroke-width="0.30" >(52.30%)</text>
<g transform="translate(58.80 164.70)"><g transform="scale(0.81698)"><rect width="53" height="53" fill="#f7f7f7"/><use href="#s1"/><use href="#s1" transform="matrix(0 1 1 0 0 0)"/><use href="#DG"/></g></g><use href="#GS" transform="translate(58.80 164.70)"/><path fill="#fff" fill-opacity="0.32" d="M62 164.70h1V208.00h-1zM66 164.70h1V208.00h-1zM71 164.70h1V208.00h-1zM75 164.70h1V208.00h-1zM80 164.70h1V208.00h-1zM84 164.70h1V208.00h-1zM89 164.70h1V208.00h-1zM93 164.70h1V208.00h-1zM58.80 167H102.10v1H58.80zM58.80 172H102.10v1H58.80zM58.80 176H102.10v1H58.80zM58.80 181H102.10v1H58.80zM58.80 185H102.10v1H58.80zM58.80 190H102.10v1H58.80zM58.80 194H102.10v1H58.80zM58.80 203H102.10v1H58.80z"/>
<text x="76.90" y="219.10" font-size="8.70" font-weight="bold" text-anchor="middle" fill="#111" stroke="#111" stroke-width="0.30" >MID</text>
<text x="78.30" y="229.90" font-size="8.70" font-weight="bold" text-anchor="middle" fill="#111" stroke="#111" stroke-width="0.30" >(45.31%)</text>
<g transform="translate(108.80 164.70)"><g transform="scale(0.81698)"><rect width="53" height="53" fill="#f7f7f7"/><use href="#s1"/><use href="#s1" transform="matrix(0 1 1 0 0 0)"/><use href="#DG"/></g></g><use href="#GS" transform="translate(108.80 164.70)"/><path fill="#fff" fill-opacity="0.32" d="M112 164.70h1V208.00h-1zM116 164.70h1V208.00h-1zM121 164.70h1V208.00h-1zM125 164.70h1V208.00h-1zM130 164.70h1V208.00h-1zM134 164.70h1V208.00h-1zM139 164.70h1V208.00h-1zM143 164.70h1V208.00h-1zM108.80 167H152.10v1H108.80zM108.80 172H152.10v1H108.80zM108.80 176H152.10v1H108.80zM108.80 181H152.10v1H108.80zM108.80 185H152.10v1H108.80zM108.80 190H152.10v1H108.80zM108.80 194H152.10v1H108.80zM108.80 203H152.10v1H108.80z"/>
<text x="127.40" y="219.10" font-size="8.70" font-weight="bold" text-anchor="middle" fill="#111" stroke="#111" stroke-width="0.30" >SST</text>
<text x="128.60" y="229.90" font-size="8.70" font-weight="bold" text-anchor="middle" fill="#111" stroke="#111" stroke-width="0.30" >(50.60%)</text>
<g transform="translate(183.00 164.70)"><g transform="scale(0.81698)"><rect width="53" height="53" fill="#f7f7f7"/><use href="#s2"/><use href="#s2" transform="matrix(0 1 1 0 0 0)"/><use href="#DG"/></g></g><use href="#GS" transform="translate(183.00 164.70)"/><path fill="#fff" fill-opacity="0.32" d="M187 164.70h1V208.00h-1zM196 164.70h1V208.00h-1zM200 164.70h1V208.00h-1zM205 164.70h1V208.00h-1zM209 164.70h1V208.00h-1zM214 164.70h1V208.00h-1zM218 164.70h1V208.00h-1zM223 164.70h1V208.00h-1zM183.00 167H226.30v1H183.00zM183.00 172H226.30v1H183.00zM183.00 176H226.30v1H183.00zM183.00 181H226.30v1H183.00zM183.00 185H226.30v1H183.00zM183.00 190H226.30v1H183.00zM183.00 194H226.30v1H183.00zM183.00 203H226.30v1H183.00z"/>
<text x="201.50" y="219.10" font-size="8.70" font-weight="bold" text-anchor="middle" fill="#111" stroke="#111" stroke-width="0.30" >EFT</text>
<text x="203.40" y="229.90" font-size="8.70" font-weight="bold" text-anchor="middle" fill="#111" stroke="#111" stroke-width="0.30" >(21.48%)</text>
<g transform="translate(235.70 164.70)"><g transform="scale(0.81698)"><rect width="53" height="53" fill="#f7f7f7"/><use href="#s2"/><use href="#s2" transform="matrix(0 1 1 0 0 0)"/><use href="#DG"/></g></g><use href="#GS" transform="translate(235.70 164.70)"/><path fill="#fff" fill-opacity="0.32" d="M238 164.70h1V208.00h-1zM243 164.70h1V208.00h-1zM247 164.70h1V208.00h-1zM252 164.70h1V208.00h-1zM256 164.70h1V208.00h-1zM261 164.70h1V208.00h-1zM265 164.70h1V208.00h-1zM274 164.70h1V208.00h-1zM235.70 167H279.00v1H235.70zM235.70 172H279.00v1H235.70zM235.70 176H279.00v1H235.70zM235.70 181H279.00v1H235.70zM235.70 185H279.00v1H235.70zM235.70 190H279.00v1H235.70zM235.70 194H279.00v1H235.70zM235.70 203H279.00v1H235.70z"/>
<text x="255.60" y="219.10" font-size="8.70" font-weight="bold" text-anchor="middle" fill="#111" stroke="#111" stroke-width="0.30" >MID</text>
<text x="257.20" y="229.90" font-size="8.70" font-weight="bold" text-anchor="middle" fill="#111" stroke="#111" stroke-width="0.30" >(19.04%)</text>
<g transform="translate(288.50 164.70)"><g transform="scale(0.81698)"><rect width="53" height="53" fill="#f7f7f7"/><use href="#s2"/><use href="#s2" transform="matrix(0 1 1 0 0 0)"/><use href="#DG"/></g></g><use href="#GS" transform="translate(288.50 164.70)"/><path fill="#fff" fill-opacity="0.32" d="M290 164.70h1V208.00h-1zM295 164.70h1V208.00h-1zM299 164.70h1V208.00h-1zM304 164.70h1V208.00h-1zM308 164.70h1V208.00h-1zM317 164.70h1V208.00h-1zM326 164.70h1V208.00h-1zM288.50 167H331.80v1H288.50zM288.50 172H331.80v1H288.50zM288.50 176H331.80v1H288.50zM288.50 181H331.80v1H288.50zM288.50 185H331.80v1H288.50zM288.50 190H331.80v1H288.50zM288.50 194H331.80v1H288.50zM288.50 203H331.80v1H288.50z"/>
<text x="306.60" y="219.10" font-size="8.70" font-weight="bold" text-anchor="middle" fill="#111" stroke="#111" stroke-width="0.30" >SST</text>
<text x="309.30" y="229.90" font-size="8.70" font-weight="bold" text-anchor="middle" fill="#111" stroke="#111" stroke-width="0.30" >(22.40%)</text>
<g transform="translate(364.70 164.70)"><g transform="scale(0.81698)"><rect width="53" height="53" fill="#f7f7f7"/><use href="#s3"/><use href="#s3" transform="matrix(0 1 1 0 0 0)"/><use href="#DG"/></g></g><use href="#GS" transform="translate(364.70 164.70)"/><path fill="#fff" fill-opacity="0.32" d="M367 164.70h1V208.00h-1zM372 164.70h1V208.00h-1zM376 164.70h1V208.00h-1zM381 164.70h1V208.00h-1zM385 164.70h1V208.00h-1zM390 164.70h1V208.00h-1zM394 164.70h1V208.00h-1zM403 164.70h1V208.00h-1zM364.70 167H408.00v1H364.70zM364.70 172H408.00v1H364.70zM364.70 176H408.00v1H364.70zM364.70 181H408.00v1H364.70zM364.70 185H408.00v1H364.70zM364.70 190H408.00v1H364.70zM364.70 194H408.00v1H364.70zM364.70 203H408.00v1H364.70z"/>
<text x="386.00" y="219.10" font-size="8.70" font-weight="bold" text-anchor="middle" fill="#111" stroke="#111" stroke-width="0.30" >EFT</text>
<text x="386.10" y="229.90" font-size="8.70" font-weight="bold" text-anchor="middle" fill="#111" stroke="#111" stroke-width="0.30" >(6.31%)</text>
<g transform="translate(414.00 164.70)"><g transform="scale(0.81698)"><rect width="53" height="53" fill="#f7f7f7"/><use href="#s3m"/><use href="#s3m" transform="matrix(0 1 1 0 0 0)"/><use href="#DG"/></g></g><use href="#GS" transform="translate(414.00 164.70)"/><path fill="#fff" fill-opacity="0.32" d="M418 164.70h1V208.00h-1zM427 164.70h1V208.00h-1zM431 164.70h1V208.00h-1zM436 164.70h1V208.00h-1zM440 164.70h1V208.00h-1zM445 164.70h1V208.00h-1zM449 164.70h1V208.00h-1zM454 164.70h1V208.00h-1zM414.00 167H457.30v1H414.00zM414.00 172H457.30v1H414.00zM414.00 176H457.30v1H414.00zM414.00 181H457.30v1H414.00zM414.00 185H457.30v1H414.00zM414.00 190H457.30v1H414.00zM414.00 194H457.30v1H414.00zM414.00 203H457.30v1H414.00z"/>
<text x="438.70" y="219.10" font-size="8.70" font-weight="bold" text-anchor="middle" fill="#111" stroke="#111" stroke-width="0.30" >MID</text>
<text x="438.70" y="229.90" font-size="8.70" font-weight="bold" text-anchor="middle" fill="#111" stroke="#111" stroke-width="0.30" >(16.98%)</text>
<g transform="translate(463.50 164.70)"><g transform="scale(0.81698)"><rect width="53" height="53" fill="#f7f7f7"/><use href="#s3"/><use href="#s3" transform="matrix(0 1 1 0 0 0)"/><use href="#DG"/></g></g><use href="#GS" transform="translate(463.50 164.70)"/><path fill="#fff" fill-opacity="0.32" d="M465 164.70h1V208.00h-1zM470 164.70h1V208.00h-1zM474 164.70h1V208.00h-1zM479 164.70h1V208.00h-1zM483 164.70h1V208.00h-1zM492 164.70h1V208.00h-1zM501 164.70h1V208.00h-1zM463.50 167H506.80v1H463.50zM463.50 172H506.80v1H463.50zM463.50 176H506.80v1H463.50zM463.50 181H506.80v1H463.50zM463.50 185H506.80v1H463.50zM463.50 190H506.80v1H463.50zM463.50 194H506.80v1H463.50zM463.50 203H506.80v1H463.50z"/>
<text x="489.70" y="219.10" font-size="8.70" font-weight="bold" text-anchor="middle" fill="#111" stroke="#111" stroke-width="0.30" >SST</text>
<text x="489.40" y="229.90" font-size="8.70" font-weight="bold" text-anchor="middle" fill="#111" stroke="#111" stroke-width="0.30" >(6.28%)</text>
<g transform="translate(537.90 164.70)"><g transform="scale(0.81698)"><rect width="53" height="53" fill="#f7f7f7"/><use href="#s4"/><use href="#s4" transform="matrix(0 1 1 0 0 0)"/><use href="#DG"/></g></g><use href="#GS" transform="translate(537.90 164.70)"/><path fill="#fff" fill-opacity="0.32" d="M546 164.70h1V208.00h-1zM550 164.70h1V208.00h-1zM555 164.70h1V208.00h-1zM559 164.70h1V208.00h-1zM564 164.70h1V208.00h-1zM568 164.70h1V208.00h-1zM573 164.70h1V208.00h-1zM577 164.70h1V208.00h-1zM537.90 167H581.20v1H537.90zM537.90 172H581.20v1H537.90zM537.90 176H581.20v1H537.90zM537.90 181H581.20v1H537.90zM537.90 185H581.20v1H537.90zM537.90 190H581.20v1H537.90zM537.90 194H581.20v1H537.90zM537.90 203H581.20v1H537.90z"/>
<text x="559.80" y="219.10" font-size="8.70" font-weight="bold" text-anchor="middle" fill="#111" stroke="#111" stroke-width="0.30" >EFT</text>
<text x="559.40" y="229.90" font-size="8.70" font-weight="bold" text-anchor="middle" fill="#111" stroke="#111" stroke-width="0.30" >(19.92%)</text>
<g transform="translate(588.40 164.70)"><g transform="scale(0.81698)"><rect width="53" height="53" fill="#f7f7f7"/><use href="#s4"/><use href="#s4" transform="matrix(0 1 1 0 0 0)"/><use href="#DG"/></g></g><use href="#GS" transform="translate(588.40 164.70)"/><path fill="#fff" fill-opacity="0.32" d="M590 164.70h1V208.00h-1zM594 164.70h1V208.00h-1zM599 164.70h1V208.00h-1zM603 164.70h1V208.00h-1zM612 164.70h1V208.00h-1zM621 164.70h1V208.00h-1zM625 164.70h1V208.00h-1zM630 164.70h1V208.00h-1zM588.40 167H631.70v1H588.40zM588.40 172H631.70v1H588.40zM588.40 176H631.70v1H588.40zM588.40 181H631.70v1H588.40zM588.40 185H631.70v1H588.40zM588.40 190H631.70v1H588.40zM588.40 194H631.70v1H588.40zM588.40 203H631.70v1H588.40z"/>
<text x="611.80" y="219.10" font-size="8.70" font-weight="bold" text-anchor="middle" fill="#111" stroke="#111" stroke-width="0.30" >MID</text>
<text x="612.10" y="229.90" font-size="8.70" font-weight="bold" text-anchor="middle" fill="#111" stroke="#111" stroke-width="0.30" >(18.66%)</text>
<g transform="translate(638.50 164.70)"><g transform="scale(0.81698)"><rect width="53" height="53" fill="#f7f7f7"/><use href="#s4"/><use href="#s4" transform="matrix(0 1 1 0 0 0)"/><use href="#DG"/></g></g><use href="#GS" transform="translate(638.50 164.70)"/><path fill="#fff" fill-opacity="0.32" d="M640 164.70h1V208.00h-1zM645 164.70h1V208.00h-1zM649 164.70h1V208.00h-1zM654 164.70h1V208.00h-1zM658 164.70h1V208.00h-1zM667 164.70h1V208.00h-1zM676 164.70h1V208.00h-1zM638.50 167H681.80v1H638.50zM638.50 172H681.80v1H638.50zM638.50 176H681.80v1H638.50zM638.50 181H681.80v1H638.50zM638.50 185H681.80v1H638.50zM638.50 190H681.80v1H638.50zM638.50 194H681.80v1H638.50zM638.50 203H681.80v1H638.50z"/>
<text x="661.70" y="219.10" font-size="8.70" font-weight="bold" text-anchor="middle" fill="#111" stroke="#111" stroke-width="0.30" >SST</text>
<text x="662.10" y="229.90" font-size="8.70" font-weight="bold" text-anchor="middle" fill="#111" stroke="#111" stroke-width="0.30" >(20.72%)</text>
<text x="13.30" y="263.90" font-size="9.45" font-weight="bold" text-anchor="start" fill="#111" stroke="#111" stroke-width="0.30" >b) FNC states metrics</text>
<text x="54.80" y="277.00" font-size="7.80" font-weight="bold" text-anchor="start" fill="#111" stroke="#111" stroke-width="0.30" >Participation pos</text>
<text x="18.80" y="385.10" font-size="7.80" font-weight="bold" text-anchor="start" fill="#111" stroke="#111" stroke-width="0.30" >Modularity</text>
<text x="106.70" y="385.30" font-size="7.80" font-weight="bold" text-anchor="start" fill="#111" stroke="#111" stroke-width="0.30" >Participation neg</text>
<polygon points="89.60,328.62 77.15,350.19 102.05,350.19" fill="none" stroke="#c8c8c8" stroke-width="0.5"/>
<polygon points="89.60,314.25 64.70,357.38 114.50,357.38" fill="none" stroke="#c8c8c8" stroke-width="0.5"/>
<polygon points="89.60,299.88 52.25,364.56 126.95,364.56" fill="none" stroke="#c8c8c8" stroke-width="0.5"/>
<polygon points="89.60,285.50 39.80,371.75 139.40,371.75" fill="none" stroke="#c8c8c8" stroke-width="0.5"/>
<line x1="89.60" y1="343.00" x2="89.60" y2="285.50" stroke="#d4d4d4" stroke-width="1.6"/>
<polygon points="89.60,300.11 71.57,353.41 135.26,369.36" fill="#9ecae1" fill-opacity="0.27" stroke="none"/>
<polygon points="89.60,320.00 46.78,367.73 108.52,353.93" fill="#9ecae1" fill-opacity="0.20" stroke="none"/>
<polygon points="89.60,319.19 43.19,369.80 106.38,352.69" fill="#eca080" fill-opacity="0.18" stroke="none"/>
<polygon points="89.60,318.68 49.96,365.88 111.71,355.76" fill="#c0304a" fill-opacity="0.17" stroke="none"/>
<polygon points="89.60,300.11 71.57,353.41 135.26,369.36" fill="none" stroke="#3a7bbf" stroke-width="2.3" stroke-linejoin="miter"/>
<polygon points="89.60,320.00 46.78,367.73 108.52,353.93" fill="none" stroke="#9ecae1" stroke-width="2.3" stroke-linejoin="miter"/>
<polygon points="89.60,319.19 43.19,369.80 106.38,352.69" fill="none" stroke="#eca080" stroke-width="2.3" stroke-linejoin="miter"/>
<polygon points="89.60,318.68 49.96,365.88 111.71,355.76" fill="none" stroke="#d0222a" stroke-width="2.3" stroke-linejoin="miter"/>
<line x1="89.60" y1="343.00" x2="89.60" y2="285.50" stroke="#666" stroke-width="0.45"/>
<line x1="89.60" y1="343.00" x2="39.80" y2="371.75" stroke="#666" stroke-width="0.45"/>
<line x1="89.60" y1="343.00" x2="139.40" y2="371.75" stroke="#666" stroke-width="0.45"/>
<text x="89.60" y="287.40" font-size="5.30" font-weight="normal" text-anchor="middle" fill="#222" stroke="#222" stroke-width="0.12" >0.8</text>
<text x="89.60" y="301.90" font-size="5.30" font-weight="normal" text-anchor="middle" fill="#222" stroke="#222" stroke-width="0.12" >0.6</text>
<text x="89.60" y="316.30" font-size="5.30" font-weight="normal" text-anchor="middle" fill="#222" stroke="#222" stroke-width="0.12" >0.3</text>
<text x="89.60" y="330.60" font-size="5.30" font-weight="normal" text-anchor="middle" fill="#222" stroke="#222" stroke-width="0.12" >0.1</text>
<text x="77.40" y="352.10" font-size="5.30" font-weight="normal" text-anchor="middle" fill="#222" stroke="#222" stroke-width="0.12" >2.0</text>
<text x="64.70" y="359.30" font-size="5.30" font-weight="normal" text-anchor="middle" fill="#222" stroke="#222" stroke-width="0.12" >2.5</text>
<text x="51.90" y="366.70" font-size="5.30" font-weight="normal" text-anchor="middle" fill="#222" stroke="#222" stroke-width="0.12" >3.1</text>
<text x="39.80" y="373.60" font-size="5.30" font-weight="normal" text-anchor="middle" fill="#222" stroke="#222" stroke-width="0.12" >3.6</text>
<text x="102.40" y="352.10" font-size="5.30" font-weight="normal" text-anchor="middle" fill="#222" stroke="#222" stroke-width="0.12" >0.1</text>
<text x="115.00" y="359.30" font-size="5.30" font-weight="normal" text-anchor="middle" fill="#222" stroke="#222" stroke-width="0.12" >0.4</text>
<text x="127.60" y="366.70" font-size="5.30" font-weight="normal" text-anchor="middle" fill="#222" stroke="#222" stroke-width="0.12" >0.6</text>
<text x="140.40" y="373.80" font-size="5.30" font-weight="normal" text-anchor="middle" fill="#222" stroke="#222" stroke-width="0.12" >0.9</text>
<text x="133.10" y="298.90" font-size="9.45" font-weight="bold" text-anchor="start" fill="#111" stroke="#111" stroke-width="0.30" >Color</text>
<text x="133.10" y="311.80" font-size="7.80" font-weight="bold" text-anchor="start" fill="#3a7bbf" stroke="#3a7bbf" stroke-width="0.30" >State 1</text>
<text x="133.10" y="324.20" font-size="7.80" font-weight="bold" text-anchor="start" fill="#9ecae1" stroke="#9ecae1" stroke-width="0.30" >State 2</text>
<text x="133.10" y="336.60" font-size="7.80" font-weight="bold" text-anchor="start" fill="#eca080" stroke="#eca080" stroke-width="0.30" >State 3</text>
<text x="133.10" y="349.00" font-size="7.80" font-weight="bold" text-anchor="start" fill="#d0222a" stroke="#d0222a" stroke-width="0.30" >State 4</text>
<text x="202.80" y="263.30" font-size="9.45" font-weight="bold" text-anchor="start" fill="#111" stroke="#111" stroke-width="0.30" >c)</text>
<text x="218.10" y="263.30" font-size="9.45" font-weight="bold" text-anchor="start" fill="#111" stroke="#111" stroke-width="0.30" >Participation pos FNC</text>
<text x="385.80" y="263.20" font-size="9.45" font-weight="bold" text-anchor="start" fill="#111" stroke="#111" stroke-width="0.30" >Participation neg FNC</text>
<text x="578.70" y="263.20" font-size="9.45" font-weight="bold" text-anchor="start" fill="#111" stroke="#111" stroke-width="0.30" >Modularity</text>
<text x="658.90" y="298.90" font-size="9.45" font-weight="bold" text-anchor="start" fill="#111" stroke="#111" stroke-width="0.30" >Color</text>
<text x="658.90" y="311.80" font-size="7.80" font-weight="bold" text-anchor="start" fill="#3a7bbf" stroke="#3a7bbf" stroke-width="0.30" >State 1</text>
<text x="658.90" y="324.20" font-size="7.80" font-weight="bold" text-anchor="start" fill="#9ecae1" stroke="#9ecae1" stroke-width="0.30" >State 2</text>
<text x="658.90" y="336.60" font-size="7.80" font-weight="bold" text-anchor="start" fill="#eca080" stroke="#eca080" stroke-width="0.30" >State 3</text>
<text x="658.90" y="348.80" font-size="7.80" font-weight="bold" text-anchor="start" fill="#d0222a" stroke="#d0222a" stroke-width="0.30" >State 4</text>
<line x1="231.10" y1="268.60" x2="302.90" y2="268.60" stroke="#ee3a3a" stroke-width="1.3"/>
<line x1="231.10" y1="272.60" x2="277.70" y2="272.60" stroke="#ee3a3a" stroke-width="1.3"/>
<line x1="231.10" y1="276.60" x2="254.20" y2="276.60" stroke="#ee3a3a" stroke-width="1.3"/>
<rect x="223.50" y="293.83" width="13.50" height="82.57" fill="#3a7bbf"/>
<rect x="246.20" y="336.85" width="13.50" height="39.55" fill="#9ecae1"/>
<rect x="268.50" y="348.05" width="13.50" height="28.35" fill="#eca080"/>
<rect x="290.90" y="340.86" width="13.40" height="35.54" fill="#d0222a"/>
<path d="M230.25 288.58V299.64M228.45 288.58h3.6M228.45 299.64h3.6" stroke="#333" stroke-width="0.6" fill="none"/>
<path d="M252.95 328.00V345.70M251.15 328.00h3.6M251.15 345.70h3.6" stroke="#333" stroke-width="0.6" fill="none"/>
<path d="M275.25 344.18V350.68M273.45 344.18h3.6M273.45 350.68h3.6" stroke="#333" stroke-width="0.6" fill="none"/>
<path d="M297.60 323.85V358.42M295.80 323.85h3.6M295.80 358.42h3.6" stroke="#333" stroke-width="0.6" fill="none"/>
<circle cx="229.80" cy="296.40" r="1.65" fill="#b4b4b4" fill-opacity="0.9"/>
<circle cx="233.00" cy="286.40" r="1.65" fill="#b4b4b4" fill-opacity="0.9"/>
<circle cx="235.60" cy="292.80" r="1.65" fill="#b4b4b4" fill-opacity="0.9"/>
<circle cx="234.90" cy="299.10" r="1.65" fill="#b4b4b4" fill-opacity="0.9"/>
<circle cx="245.90" cy="331.20" r="1.65" fill="#b4b4b4" fill-opacity="0.9"/>
<circle cx="255.10" cy="331.20" r="1.65" fill="#b4b4b4" fill-opacity="0.9"/>
<circle cx="256.80" cy="335.10" r="1.65" fill="#b4b4b4" fill-opacity="0.9"/>
<circle cx="255.90" cy="350.20" r="1.65" fill="#b4b4b4" fill-opacity="0.9"/>
<circle cx="274.00" cy="342.60" r="1.65" fill="#b4b4b4" fill-opacity="0.9"/>
<circle cx="270.20" cy="346.80" r="1.65" fill="#b4b4b4" fill-opacity="0.9"/>
<circle cx="274.30" cy="350.20" r="1.65" fill="#b4b4b4" fill-opacity="0.9"/>
<circle cx="276.00" cy="350.20" r="1.65" fill="#b4b4b4" fill-opacity="0.9"/>
<circle cx="303.30" cy="314.70" r="1.65" fill="#b4b4b4" fill-opacity="0.9"/>
<circle cx="297.80" cy="346.80" r="1.65" fill="#b4b4b4" fill-opacity="0.9"/>
<circle cx="295.00" cy="350.20" r="1.65" fill="#b4b4b4" fill-opacity="0.9"/>
<circle cx="292.80" cy="351.50" r="1.65" fill="#b4b4b4" fill-opacity="0.9"/>
<path d="M214.30 278.00V376.40H313.40" stroke="#555" stroke-width="0.6" fill="none"/>
<line x1="212.50" y1="376.40" x2="214.30" y2="376.40" stroke="#555" stroke-width="0.5"/>
<text x="211.70" y="378.30" font-size="5.30" font-weight="normal" text-anchor="end" fill="#222" stroke="#222" stroke-width="0.12" >0</text>
<line x1="212.50" y1="362.57" x2="214.30" y2="362.57" stroke="#555" stroke-width="0.5"/>
<text x="211.70" y="364.47" font-size="5.30" font-weight="normal" text-anchor="end" fill="#222" stroke="#222" stroke-width="0.12" >0.1</text>
<line x1="212.50" y1="348.74" x2="214.30" y2="348.74" stroke="#555" stroke-width="0.5"/>
<text x="211.70" y="350.64" font-size="5.30" font-weight="normal" text-anchor="end" fill="#222" stroke="#222" stroke-width="0.12" >0.2</text>
<line x1="212.50" y1="334.91" x2="214.30" y2="334.91" stroke="#555" stroke-width="0.5"/>
<text x="211.70" y="336.81" font-size="5.30" font-weight="normal" text-anchor="end" fill="#222" stroke="#222" stroke-width="0.12" >0.3</text>
<line x1="212.50" y1="321.08" x2="214.30" y2="321.08" stroke="#555" stroke-width="0.5"/>
<text x="211.70" y="322.98" font-size="5.30" font-weight="normal" text-anchor="end" fill="#222" stroke="#222" stroke-width="0.12" >0.4</text>
<line x1="212.50" y1="307.25" x2="214.30" y2="307.25" stroke="#555" stroke-width="0.5"/>
<text x="211.70" y="309.15" font-size="5.30" font-weight="normal" text-anchor="end" fill="#222" stroke="#222" stroke-width="0.12" >0.5</text>
<line x1="212.50" y1="293.42" x2="214.30" y2="293.42" stroke="#555" stroke-width="0.5"/>
<text x="211.70" y="295.32" font-size="5.30" font-weight="normal" text-anchor="end" fill="#222" stroke="#222" stroke-width="0.12" >0.6</text>
<line x1="212.50" y1="279.59" x2="214.30" y2="279.59" stroke="#555" stroke-width="0.5"/>
<text x="211.70" y="281.49" font-size="5.30" font-weight="normal" text-anchor="end" fill="#222" stroke="#222" stroke-width="0.12" >0.7</text>
<line x1="230.25" y1="376.40" x2="230.25" y2="378.20" stroke="#555" stroke-width="0.5"/>
<text x="230.25" y="384.30" font-size="5.30" font-weight="normal" text-anchor="middle" fill="#222" stroke="#222" stroke-width="0.12" >State 1</text>
<line x1="252.95" y1="376.40" x2="252.95" y2="378.20" stroke="#555" stroke-width="0.5"/>
<text x="252.95" y="384.30" font-size="5.30" font-weight="normal" text-anchor="middle" fill="#222" stroke="#222" stroke-width="0.12" >State 2</text>
<line x1="275.25" y1="376.40" x2="275.25" y2="378.20" stroke="#555" stroke-width="0.5"/>
<text x="275.25" y="384.30" font-size="5.30" font-weight="normal" text-anchor="middle" fill="#222" stroke="#222" stroke-width="0.12" >State 3</text>
<line x1="297.60" y1="376.40" x2="297.60" y2="378.20" stroke="#555" stroke-width="0.5"/>
<text x="297.60" y="384.30" font-size="5.30" font-weight="normal" text-anchor="middle" fill="#222" stroke="#222" stroke-width="0.12" >State 4</text>
<line x1="402.00" y1="268.50" x2="473.20" y2="268.50" stroke="#ee3a3a" stroke-width="1.3"/>
<line x1="402.00" y1="272.40" x2="448.30" y2="272.40" stroke="#ee3a3a" stroke-width="1.3"/>
<line x1="402.00" y1="276.40" x2="425.00" y2="276.40" stroke="#ee3a3a" stroke-width="1.3"/>
<rect x="394.00" y="289.40" width="13.60" height="86.80" fill="#3a7bbf"/>
<rect x="416.60" y="346.67" width="13.40" height="29.53" fill="#9ecae1"/>
<rect x="439.00" y="355.78" width="13.60" height="20.42" fill="#eca080"/>
<rect x="461.50" y="344.23" width="13.50" height="31.97" fill="#d0222a"/>
<path d="M400.80 286.51V292.17M399.00 286.51h3.6M399.00 292.17h3.6" stroke="#333" stroke-width="0.6" fill="none"/>
<path d="M423.30 340.46V352.45M421.50 340.46h3.6M421.50 352.45h3.6" stroke="#333" stroke-width="0.6" fill="none"/>
<path d="M445.80 350.00V361.55M444.00 350.00h3.6M444.00 361.55h3.6" stroke="#333" stroke-width="0.6" fill="none"/>
<path d="M468.25 325.25V362.55M466.45 325.25h3.6M466.45 362.55h3.6" stroke="#333" stroke-width="0.6" fill="none"/>
<circle cx="397.40" cy="286.60" r="1.65" fill="#b4b4b4" fill-opacity="0.9"/>
<circle cx="403.80" cy="286.60" r="1.65" fill="#b4b4b4" fill-opacity="0.9"/>
<circle cx="395.20" cy="291.50" r="1.65" fill="#b4b4b4" fill-opacity="0.9"/>
<circle cx="405.50" cy="293.00" r="1.65" fill="#b4b4b4" fill-opacity="0.9"/>
<circle cx="419.30" cy="345.20" r="1.65" fill="#b4b4b4" fill-opacity="0.9"/>
<circle cx="426.40" cy="341.80" r="1.65" fill="#b4b4b4" fill-opacity="0.9"/>
<circle cx="426.00" cy="344.30" r="1.65" fill="#b4b4b4" fill-opacity="0.9"/>
<circle cx="427.00" cy="354.90" r="1.65" fill="#b4b4b4" fill-opacity="0.9"/>
<circle cx="447.70" cy="347.20" r="1.65" fill="#b4b4b4" fill-opacity="0.9"/>
<circle cx="441.30" cy="357.20" r="1.65" fill="#b4b4b4" fill-opacity="0.9"/>
<circle cx="450.20" cy="358.20" r="1.65" fill="#b4b4b4" fill-opacity="0.9"/>
<circle cx="445.40" cy="358.80" r="1.65" fill="#b4b4b4" fill-opacity="0.9"/>
<circle cx="472.90" cy="316.60" r="1.65" fill="#b4b4b4" fill-opacity="0.9"/>
<circle cx="473.80" cy="350.50" r="1.65" fill="#b4b4b4" fill-opacity="0.9"/>
<circle cx="473.20" cy="355.30" r="1.65" fill="#b4b4b4" fill-opacity="0.9"/>
<path d="M385.40 278.00V376.20H483.90" stroke="#555" stroke-width="0.6" fill="none"/>
<line x1="383.60" y1="376.20" x2="385.40" y2="376.20" stroke="#555" stroke-width="0.5"/>
<text x="382.80" y="378.10" font-size="5.30" font-weight="normal" text-anchor="end" fill="#222" stroke="#222" stroke-width="0.12" >0</text>
<line x1="383.60" y1="365.10" x2="385.40" y2="365.10" stroke="#555" stroke-width="0.5"/>
<text x="382.80" y="367.00" font-size="5.30" font-weight="normal" text-anchor="end" fill="#222" stroke="#222" stroke-width="0.12" >0.1</text>
<line x1="383.60" y1="354.00" x2="385.40" y2="354.00" stroke="#555" stroke-width="0.5"/>
<text x="382.80" y="355.90" font-size="5.30" font-weight="normal" text-anchor="end" fill="#222" stroke="#222" stroke-width="0.12" >0.2</text>
<line x1="383.60" y1="342.90" x2="385.40" y2="342.90" stroke="#555" stroke-width="0.5"/>
<text x="382.80" y="344.80" font-size="5.30" font-weight="normal" text-anchor="end" fill="#222" stroke="#222" stroke-width="0.12" >0.3</text>
<line x1="383.60" y1="331.80" x2="385.40" y2="331.80" stroke="#555" stroke-width="0.5"/>
<text x="382.80" y="333.70" font-size="5.30" font-weight="normal" text-anchor="end" fill="#222" stroke="#222" stroke-width="0.12" >0.4</text>
<line x1="383.60" y1="320.70" x2="385.40" y2="320.70" stroke="#555" stroke-width="0.5"/>
<text x="382.80" y="322.60" font-size="5.30" font-weight="normal" text-anchor="end" fill="#222" stroke="#222" stroke-width="0.12" >0.5</text>
<line x1="383.60" y1="309.60" x2="385.40" y2="309.60" stroke="#555" stroke-width="0.5"/>
<text x="382.80" y="311.50" font-size="5.30" font-weight="normal" text-anchor="end" fill="#222" stroke="#222" stroke-width="0.12" >0.6</text>
<line x1="383.60" y1="298.50" x2="385.40" y2="298.50" stroke="#555" stroke-width="0.5"/>
<text x="382.80" y="300.40" font-size="5.30" font-weight="normal" text-anchor="end" fill="#222" stroke="#222" stroke-width="0.12" >0.7</text>
<line x1="383.60" y1="287.40" x2="385.40" y2="287.40" stroke="#555" stroke-width="0.5"/>
<text x="382.80" y="289.30" font-size="5.30" font-weight="normal" text-anchor="end" fill="#222" stroke="#222" stroke-width="0.12" >0.8</text>
<line x1="400.80" y1="376.20" x2="400.80" y2="378.00" stroke="#555" stroke-width="0.5"/>
<text x="400.80" y="384.30" font-size="5.30" font-weight="normal" text-anchor="middle" fill="#222" stroke="#222" stroke-width="0.12" >State 1</text>
<line x1="423.30" y1="376.20" x2="423.30" y2="378.00" stroke="#555" stroke-width="0.5"/>
<text x="423.30" y="384.30" font-size="5.30" font-weight="normal" text-anchor="middle" fill="#222" stroke="#222" stroke-width="0.12" >State 2</text>
<line x1="445.80" y1="376.20" x2="445.80" y2="378.00" stroke="#555" stroke-width="0.5"/>
<text x="445.80" y="384.30" font-size="5.30" font-weight="normal" text-anchor="middle" fill="#222" stroke="#222" stroke-width="0.12" >State 3</text>
<line x1="468.25" y1="376.20" x2="468.25" y2="378.00" stroke="#555" stroke-width="0.5"/>
<text x="468.25" y="384.30" font-size="5.30" font-weight="normal" text-anchor="middle" fill="#222" stroke="#222" stroke-width="0.12" >State 4</text>
<line x1="572.60" y1="268.50" x2="644.50" y2="268.50" stroke="#ee3a3a" stroke-width="1.3"/>
<line x1="572.60" y1="272.40" x2="619.60" y2="272.40" stroke="#ee3a3a" stroke-width="1.3"/>
<line x1="572.60" y1="276.40" x2="595.70" y2="276.40" stroke="#ee3a3a" stroke-width="1.3"/>
<rect x="563.90" y="321.01" width="13.60" height="54.99" fill="#3a7bbf"/>
<rect x="586.30" y="298.21" width="13.60" height="77.79" fill="#9ecae1"/>
<rect x="609.00" y="291.11" width="13.50" height="84.89" fill="#eca080"/>
<rect x="631.10" y="298.21" width="13.80" height="77.79" fill="#d0222a"/>
<path d="M570.70 318.22V322.53M568.90 318.22h3.6M568.90 322.53h3.6" stroke="#333" stroke-width="0.6" fill="none"/>
<path d="M593.10 294.91V300.99M591.30 294.91h3.6M591.30 300.99h3.6" stroke="#333" stroke-width="0.6" fill="none"/>
<path d="M615.75 286.30V294.66M613.95 286.30h3.6M613.95 294.66h3.6" stroke="#333" stroke-width="0.6" fill="none"/>
<path d="M638.00 291.36V304.29M636.20 291.36h3.6M636.20 304.29h3.6" stroke="#333" stroke-width="0.6" fill="none"/>
<circle cx="570.40" cy="317.20" r="1.65" fill="#b4b4b4" fill-opacity="0.9"/>
<circle cx="564.60" cy="321.90" r="1.65" fill="#b4b4b4" fill-opacity="0.9"/>
<circle cx="575.10" cy="321.90" r="1.65" fill="#b4b4b4" fill-opacity="0.9"/>
<circle cx="577.00" cy="320.60" r="1.65" fill="#b4b4b4" fill-opacity="0.9"/>
<circle cx="591.60" cy="294.60" r="1.65" fill="#b4b4b4" fill-opacity="0.9"/>
<circle cx="596.40" cy="298.70" r="1.65" fill="#b4b4b4" fill-opacity="0.9"/>
<circle cx="598.90" cy="297.20" r="1.65" fill="#b4b4b4" fill-opacity="0.9"/>
<circle cx="599.30" cy="301.60" r="1.65" fill="#b4b4b4" fill-opacity="0.9"/>
<circle cx="616.40" cy="286.10" r="1.65" fill="#b4b4b4" fill-opacity="0.9"/>
<circle cx="617.90" cy="288.50" r="1.65" fill="#b4b4b4" fill-opacity="0.9"/>
<circle cx="613.10" cy="292.00" r="1.65" fill="#b4b4b4" fill-opacity="0.9"/>
<circle cx="620.40" cy="296.10" r="1.65" fill="#b4b4b4" fill-opacity="0.9"/>
<circle cx="634.40" cy="293.60" r="1.65" fill="#b4b4b4" fill-opacity="0.9"/>
<circle cx="640.50" cy="298.20" r="1.65" fill="#b4b4b4" fill-opacity="0.9"/>
<circle cx="633.20" cy="307.00" r="1.65" fill="#b4b4b4" fill-opacity="0.9"/>
<path d="M555.10 278.00V376.00H653.40" stroke="#555" stroke-width="0.6" fill="none"/>
<line x1="553.30" y1="376.00" x2="555.10" y2="376.00" stroke="#555" stroke-width="0.5"/>
<text x="552.50" y="377.90" font-size="5.30" font-weight="normal" text-anchor="end" fill="#222" stroke="#222" stroke-width="0.12" >0</text>
<line x1="553.30" y1="363.33" x2="555.10" y2="363.33" stroke="#555" stroke-width="0.5"/>
<text x="552.50" y="365.23" font-size="5.30" font-weight="normal" text-anchor="end" fill="#222" stroke="#222" stroke-width="0.12" >0.5</text>
<line x1="553.30" y1="350.66" x2="555.10" y2="350.66" stroke="#555" stroke-width="0.5"/>
<text x="552.50" y="352.56" font-size="5.30" font-weight="normal" text-anchor="end" fill="#222" stroke="#222" stroke-width="0.12" >1</text>
<line x1="553.30" y1="337.99" x2="555.10" y2="337.99" stroke="#555" stroke-width="0.5"/>
<text x="552.50" y="339.89" font-size="5.30" font-weight="normal" text-anchor="end" fill="#222" stroke="#222" stroke-width="0.12" >1.5</text>
<line x1="553.30" y1="325.32" x2="555.10" y2="325.32" stroke="#555" stroke-width="0.5"/>
<text x="552.50" y="327.22" font-size="5.30" font-weight="normal" text-anchor="end" fill="#222" stroke="#222" stroke-width="0.12" >2</text>
<line x1="553.30" y1="312.65" x2="555.10" y2="312.65" stroke="#555" stroke-width="0.5"/>
<text x="552.50" y="314.55" font-size="5.30" font-weight="normal" text-anchor="end" fill="#222" stroke="#222" stroke-width="0.12" >2.5</text>
<line x1="553.30" y1="299.98" x2="555.10" y2="299.98" stroke="#555" stroke-width="0.5"/>
<text x="552.50" y="301.88" font-size="5.30" font-weight="normal" text-anchor="end" fill="#222" stroke="#222" stroke-width="0.12" >3</text>
<line x1="553.30" y1="287.31" x2="555.10" y2="287.31" stroke="#555" stroke-width="0.5"/>
<text x="552.50" y="289.21" font-size="5.30" font-weight="normal" text-anchor="end" fill="#222" stroke="#222" stroke-width="0.12" >3.5</text>
<line x1="570.70" y1="376.00" x2="570.70" y2="377.80" stroke="#555" stroke-width="0.5"/>
<text x="570.70" y="384.30" font-size="5.30" font-weight="normal" text-anchor="middle" fill="#222" stroke="#222" stroke-width="0.12" >State 1</text>
<line x1="593.10" y1="376.00" x2="593.10" y2="377.80" stroke="#555" stroke-width="0.5"/>
<text x="593.10" y="384.30" font-size="5.30" font-weight="normal" text-anchor="middle" fill="#222" stroke="#222" stroke-width="0.12" >State 2</text>
<line x1="615.75" y1="376.00" x2="615.75" y2="377.80" stroke="#555" stroke-width="0.5"/>
<text x="615.75" y="384.30" font-size="5.30" font-weight="normal" text-anchor="middle" fill="#222" stroke="#222" stroke-width="0.12" >State 3</text>
<line x1="638.00" y1="376.00" x2="638.00" y2="377.80" stroke="#555" stroke-width="0.5"/>
<text x="638.00" y="384.30" font-size="5.30" font-weight="normal" text-anchor="middle" fill="#222" stroke="#222" stroke-width="0.12" >State 4</text>
</svg></body></html>
